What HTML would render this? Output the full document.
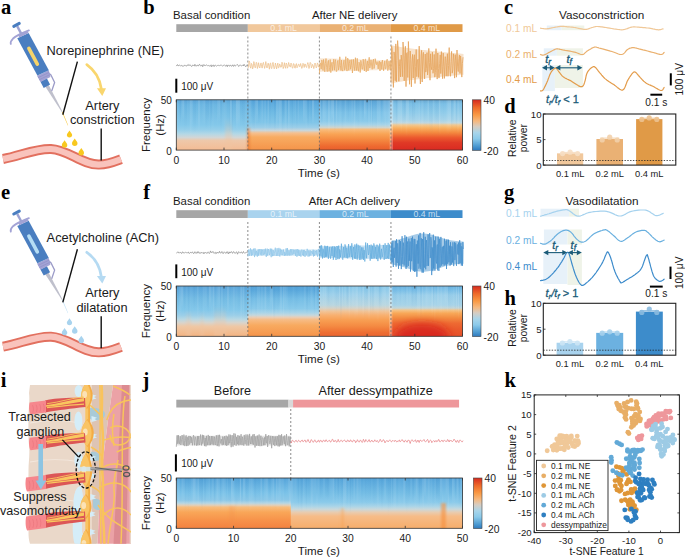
<!DOCTYPE html><html><head><meta charset="utf-8"><style>html,body{margin:0;padding:0;background:#fff;}svg{display:block;}</style></head><body>
<svg width="685" height="557" viewBox="0 0 685 557" font-family='"Liberation Sans", sans-serif'>
<rect width="685" height="557" fill="#fff"/>
<defs>
<linearGradient id="g1" x1="0" y1="0" x2="0" y2="1"><stop offset="0" stop-color="#D62A1F"/><stop offset="0.15" stop-color="#EE6A2A"/><stop offset="0.3" stop-color="#F99A45"/><stop offset="0.42" stop-color="#F6B87E"/><stop offset="0.53" stop-color="#D6CDC2"/><stop offset="0.65" stop-color="#A8D5EA"/><stop offset="0.77" stop-color="#8BCAEA"/><stop offset="0.92" stop-color="#4A98D0"/><stop offset="1" stop-color="#2E78BD"/></linearGradient>
<linearGradient id="g2" x1="0" y1="0" x2="0" y2="1"><stop offset="0" stop-color="#5EA6D8"/><stop offset="0.1" stop-color="#6AB6E2"/><stop offset="0.3" stop-color="#78C0E6"/><stop offset="0.5" stop-color="#84C8EA"/><stop offset="0.6" stop-color="#96CFEA"/><stop offset="0.68" stop-color="#B4D8E6"/><stop offset="0.75" stop-color="#D2D6D6"/><stop offset="0.81" stop-color="#EEC8AA"/><stop offset="1" stop-color="#F4BC94"/></linearGradient>
<linearGradient id="g3" x1="0" y1="0" x2="0" y2="1"><stop offset="0" stop-color="#55A2D8"/><stop offset="0.08" stop-color="#5EACDE"/><stop offset="0.25" stop-color="#6EBAE4"/><stop offset="0.45" stop-color="#80C5E8"/><stop offset="0.55" stop-color="#9CCEE8"/><stop offset="0.61" stop-color="#C8D6DA"/><stop offset="0.66" stop-color="#F5C090"/><stop offset="0.74" stop-color="#F8AC62"/><stop offset="1" stop-color="#F5944A"/></linearGradient>
<linearGradient id="g4" x1="0" y1="0" x2="0" y2="1"><stop offset="0" stop-color="#5AA0D0"/><stop offset="0.08" stop-color="#64AEDE"/><stop offset="0.25" stop-color="#7CC2E8"/><stop offset="0.42" stop-color="#8ACAEA"/><stop offset="0.5" stop-color="#A8D4E8"/><stop offset="0.55" stop-color="#D0D4CC"/><stop offset="0.59" stop-color="#F8BC7C"/><stop offset="0.68" stop-color="#F9A455"/><stop offset="0.8" stop-color="#F48840"/><stop offset="0.92" stop-color="#EE6A30"/><stop offset="1" stop-color="#E85E2C"/></linearGradient>
<linearGradient id="g5" x1="0" y1="0" x2="0" y2="1"><stop offset="0" stop-color="#6AA8D0"/><stop offset="0.08" stop-color="#7CC0E6"/><stop offset="0.25" stop-color="#90CCEA"/><stop offset="0.4" stop-color="#A6D4EA"/><stop offset="0.46" stop-color="#C0D8E0"/><stop offset="0.5" stop-color="#F2C890"/><stop offset="0.56" stop-color="#F9B060"/><stop offset="0.65" stop-color="#F48A40"/><stop offset="0.75" stop-color="#EC5A2E"/><stop offset="0.85" stop-color="#E03A26"/><stop offset="1" stop-color="#DA2A22"/></linearGradient>
<linearGradient id="g6" x1="0" y1="0" x2="0" y2="1"><stop offset="0" stop-color="#5AA2D6"/><stop offset="0.08" stop-color="#62ACDE"/><stop offset="0.25" stop-color="#74BCE4"/><stop offset="0.48" stop-color="#84C8EA"/><stop offset="0.58" stop-color="#9ACEE8"/><stop offset="0.66" stop-color="#B8D8E4"/><stop offset="0.73" stop-color="#D8D4CC"/><stop offset="0.8" stop-color="#EEC8A6"/><stop offset="1" stop-color="#F4B482"/></linearGradient>
<linearGradient id="g7" x1="0" y1="0" x2="0" y2="1"><stop offset="0" stop-color="#55A2D8"/><stop offset="0.08" stop-color="#5AA8DC"/><stop offset="0.25" stop-color="#76BEE6"/><stop offset="0.45" stop-color="#8ACAEA"/><stop offset="0.53" stop-color="#A8D4E8"/><stop offset="0.58" stop-color="#C4D8DE"/><stop offset="0.62" stop-color="#E8CEB8"/><stop offset="0.67" stop-color="#F6BC86"/><stop offset="0.78" stop-color="#F8AA60"/><stop offset="1" stop-color="#F5944A"/></linearGradient>
<linearGradient id="g8" x1="0" y1="0" x2="0" y2="1"><stop offset="0" stop-color="#80C4E8"/><stop offset="0.18" stop-color="#9ED0EA"/><stop offset="0.38" stop-color="#B8D6E0"/><stop offset="0.44" stop-color="#D4D2C8"/><stop offset="0.5" stop-color="#F0C498"/><stop offset="0.58" stop-color="#F8B070"/><stop offset="0.68" stop-color="#F89E52"/><stop offset="0.8" stop-color="#F48A42"/><stop offset="0.92" stop-color="#EE6E32"/><stop offset="1" stop-color="#EA6530"/></linearGradient>
<linearGradient id="g9" x1="0" y1="0" x2="0" y2="1"><stop offset="0" stop-color="#6AB4E2"/><stop offset="0.1" stop-color="#80C2E8"/><stop offset="0.18" stop-color="#98CEEA"/><stop offset="0.38" stop-color="#A8D4E8"/><stop offset="0.44" stop-color="#C4D6D8"/><stop offset="0.48" stop-color="#F4C488"/><stop offset="0.54" stop-color="#F8A858"/><stop offset="0.64" stop-color="#F28A40"/><stop offset="0.74" stop-color="#EE6A32"/><stop offset="0.86" stop-color="#EA5A2C"/><stop offset="1" stop-color="#E6502A"/></linearGradient>
<linearGradient id="g10" x1="0" y1="0" x2="0" y2="1"><stop offset="0" stop-color="#55A2D8"/><stop offset="0.08" stop-color="#5EACDE"/><stop offset="0.3" stop-color="#7AC2E8"/><stop offset="0.44" stop-color="#8CC8E8"/><stop offset="0.5" stop-color="#B4D6E4"/><stop offset="0.54" stop-color="#E0D0BC"/><stop offset="0.58" stop-color="#F8BC7C"/><stop offset="0.68" stop-color="#F9A658"/><stop offset="0.84" stop-color="#F7924A"/><stop offset="1" stop-color="#F38240"/></linearGradient>
<linearGradient id="g11" x1="0" y1="0" x2="0" y2="1"><stop offset="0" stop-color="#55A2D8"/><stop offset="0.08" stop-color="#5EACDE"/><stop offset="0.3" stop-color="#74BDE5"/><stop offset="0.48" stop-color="#8ACAEA"/><stop offset="0.56" stop-color="#A8D4E8"/><stop offset="0.62" stop-color="#C8D8DC"/><stop offset="0.68" stop-color="#E8CCB0"/><stop offset="0.76" stop-color="#F6BC88"/><stop offset="1" stop-color="#F6AE6C"/></linearGradient>
<linearGradient id="swh" x1="0" y1="0" x2="0" y2="1"><stop offset="0" stop-color="#fff" stop-opacity="1"/><stop offset="0.6" stop-color="#fff" stop-opacity="0.7"/><stop offset="1" stop-color="#fff" stop-opacity="0"/></linearGradient>
<linearGradient id="sbl" x1="0" y1="0" x2="0" y2="1"><stop offset="0" stop-color="#2a6fb0" stop-opacity="1"/><stop offset="0.6" stop-color="#2a6fb0" stop-opacity="0.7"/><stop offset="1" stop-color="#2a6fb0" stop-opacity="0"/></linearGradient>
<linearGradient id="gfo" x1="0" y1="0" x2="0" y2="1"><stop offset="0" stop-color="#F0C4A0" stop-opacity="0"/><stop offset="0.5" stop-color="#F0C4A0" stop-opacity="0.7"/><stop offset="1" stop-color="#F0C4A0" stop-opacity="1"/></linearGradient>
<filter id="blur4" x="-50%" y="-50%" width="200%" height="200%"><feGaussianBlur stdDeviation="4"/></filter>
<filter id="blur1" x="-50%" y="-50%" width="200%" height="200%"><feGaussianBlur stdDeviation="1.2"/></filter>
<clipPath id="cpb"><rect x="176.3" y="99.8" width="286.2" height="50.3"/></clipPath>
<clipPath id="cpj"><rect x="176.3" y="478" width="286.2" height="50.3"/></clipPath>
<clipPath id="cpf"><rect x="176.3" y="286" width="286.2" height="50.3"/></clipPath>
</defs>
<text x="1.0" y="14.0" font-family="Liberation Serif" font-weight="bold" font-size="20.5" fill="#000">a</text>
<text x="143.3" y="14.0" font-family="Liberation Serif" font-weight="bold" font-size="20.5" fill="#000">b</text>
<text x="504.0" y="14.1" font-family="Liberation Serif" font-weight="bold" font-size="20.5" fill="#000">c</text>
<text x="504.2" y="112.8" font-family="Liberation Serif" font-weight="bold" font-size="20.5" fill="#000">d</text>
<text x="0.9" y="199.2" font-family="Liberation Serif" font-weight="bold" font-size="20.5" fill="#000">e</text>
<text x="143.2" y="199.1" font-family="Liberation Serif" font-weight="bold" font-size="20.5" fill="#000">f</text>
<text x="504.0" y="198.8" font-family="Liberation Serif" font-weight="bold" font-size="20.5" fill="#000">g</text>
<text x="504.5" y="304.8" font-family="Liberation Serif" font-weight="bold" font-size="20.5" fill="#000">h</text>
<text x="0.8" y="386.7" font-family="Liberation Serif" font-weight="bold" font-size="20.5" fill="#000">i</text>
<text x="142.5" y="386.6" font-family="Liberation Serif" font-weight="bold" font-size="20.5" fill="#000">j</text>
<text x="504.5" y="386.6" font-family="Liberation Serif" font-weight="bold" font-size="20.5" fill="#000">k</text>
<rect x="176.30" y="99.8" width="71.85" height="50.30" fill="url(#g2)"/>
<rect x="247.85" y="99.8" width="71.85" height="50.30" fill="url(#g3)"/>
<rect x="319.40" y="99.8" width="71.85" height="50.30" fill="url(#g4)"/>
<rect x="390.95" y="99.8" width="71.85" height="50.30" fill="url(#g5)"/>
<rect x="389.7" y="99.8" width="3.2" height="50.3" fill="#fff" fill-opacity="0.3"/>
<g clip-path="url(#cpb)"><rect x="225" y="118" width="7" height="34" fill="url(#gfo)" fill-opacity="0.5" filter="url(#blur1)"/><rect x="247" y="128" width="3" height="24" fill="#E8702E" fill-opacity="0.5" filter="url(#blur1)"/></g>
<rect x="176.3" y="99.8" width="1.5" height="37.2" fill="url(#swh)" fill-opacity="0.08"/>
<rect x="177.8" y="99.8" width="1.7" height="29.9" fill="url(#swh)" fill-opacity="0.04"/>
<rect x="179.5" y="99.8" width="1.5" height="24.4" fill="url(#sbl)" fill-opacity="0.08"/>
<rect x="180.9" y="99.8" width="1.2" height="26.3" fill="url(#swh)" fill-opacity="0.04"/>
<rect x="182.2" y="99.8" width="2.1" height="20.8" fill="url(#swh)" fill-opacity="0.12"/>
<rect x="184.3" y="99.8" width="1.2" height="35.8" fill="url(#sbl)" fill-opacity="0.04"/>
<rect x="185.5" y="99.8" width="1.4" height="30.7" fill="url(#sbl)" fill-opacity="0.05"/>
<rect x="186.9" y="99.8" width="1.7" height="21.3" fill="url(#swh)" fill-opacity="0.03"/>
<rect x="188.6" y="99.8" width="1.2" height="25.1" fill="url(#swh)" fill-opacity="0.02"/>
<rect x="189.8" y="99.8" width="1.6" height="37.1" fill="url(#swh)" fill-opacity="0.12"/>
<rect x="191.4" y="99.8" width="1.3" height="30.2" fill="url(#swh)" fill-opacity="0.10"/>
<rect x="192.7" y="99.8" width="1.9" height="36.2" fill="url(#sbl)" fill-opacity="0.03"/>
<rect x="194.5" y="99.8" width="1.6" height="33.7" fill="url(#sbl)" fill-opacity="0.06"/>
<rect x="196.1" y="99.8" width="1.9" height="28.7" fill="url(#swh)" fill-opacity="0.01"/>
<rect x="198.0" y="99.8" width="2.1" height="31.7" fill="url(#swh)" fill-opacity="0.12"/>
<rect x="200.0" y="99.8" width="1.8" height="24.8" fill="url(#swh)" fill-opacity="0.01"/>
<rect x="201.8" y="99.8" width="1.7" height="27.1" fill="url(#swh)" fill-opacity="0.04"/>
<rect x="203.5" y="99.8" width="1.8" height="27.3" fill="url(#swh)" fill-opacity="0.08"/>
<rect x="205.3" y="99.8" width="2.2" height="29.8" fill="url(#sbl)" fill-opacity="0.07"/>
<rect x="207.5" y="99.8" width="1.4" height="22.6" fill="url(#sbl)" fill-opacity="0.08"/>
<rect x="208.9" y="99.8" width="0.9" height="35.7" fill="url(#swh)" fill-opacity="0.04"/>
<rect x="209.7" y="99.8" width="1.2" height="34.8" fill="url(#sbl)" fill-opacity="0.05"/>
<rect x="210.9" y="99.8" width="1.4" height="23.0" fill="url(#sbl)" fill-opacity="0.09"/>
<rect x="212.3" y="99.8" width="1.2" height="34.2" fill="url(#swh)" fill-opacity="0.06"/>
<rect x="213.5" y="99.8" width="2.1" height="26.7" fill="url(#swh)" fill-opacity="0.02"/>
<rect x="215.6" y="99.8" width="1.2" height="21.6" fill="url(#sbl)" fill-opacity="0.02"/>
<rect x="216.8" y="99.8" width="1.5" height="26.2" fill="url(#swh)" fill-opacity="0.07"/>
<rect x="218.3" y="99.8" width="1.9" height="22.1" fill="url(#swh)" fill-opacity="0.11"/>
<rect x="220.2" y="99.8" width="1.9" height="37.7" fill="url(#sbl)" fill-opacity="0.03"/>
<rect x="222.1" y="99.8" width="1.7" height="31.9" fill="url(#swh)" fill-opacity="0.04"/>
<rect x="223.8" y="99.8" width="1.4" height="33.9" fill="url(#swh)" fill-opacity="0.07"/>
<rect x="225.2" y="99.8" width="1.5" height="30.0" fill="url(#swh)" fill-opacity="0.05"/>
<rect x="226.7" y="99.8" width="2.2" height="28.0" fill="url(#swh)" fill-opacity="0.00"/>
<rect x="228.9" y="99.8" width="1.1" height="34.6" fill="url(#sbl)" fill-opacity="0.05"/>
<rect x="229.9" y="99.8" width="1.9" height="27.6" fill="url(#swh)" fill-opacity="0.13"/>
<rect x="231.9" y="99.8" width="1.1" height="35.5" fill="url(#sbl)" fill-opacity="0.08"/>
<rect x="233.0" y="99.8" width="2.0" height="24.4" fill="url(#sbl)" fill-opacity="0.02"/>
<rect x="235.0" y="99.8" width="0.9" height="31.9" fill="url(#sbl)" fill-opacity="0.03"/>
<rect x="235.9" y="99.8" width="1.9" height="30.7" fill="url(#swh)" fill-opacity="0.15"/>
<rect x="237.8" y="99.8" width="2.0" height="28.7" fill="url(#swh)" fill-opacity="0.14"/>
<rect x="239.9" y="99.8" width="1.9" height="32.9" fill="url(#swh)" fill-opacity="0.00"/>
<rect x="241.8" y="99.8" width="1.0" height="26.5" fill="url(#sbl)" fill-opacity="0.05"/>
<rect x="242.8" y="99.8" width="1.9" height="32.4" fill="url(#sbl)" fill-opacity="0.04"/>
<rect x="244.7" y="99.8" width="1.4" height="35.1" fill="url(#swh)" fill-opacity="0.03"/>
<rect x="246.1" y="99.8" width="1.4" height="26.2" fill="url(#swh)" fill-opacity="0.05"/>
<rect x="247.5" y="99.8" width="1.2" height="30.6" fill="url(#sbl)" fill-opacity="0.06"/>
<rect x="248.7" y="99.8" width="1.9" height="24.4" fill="url(#swh)" fill-opacity="0.13"/>
<rect x="250.6" y="99.8" width="1.0" height="32.7" fill="url(#swh)" fill-opacity="0.05"/>
<rect x="251.6" y="99.8" width="1.9" height="31.7" fill="url(#sbl)" fill-opacity="0.02"/>
<rect x="253.4" y="99.8" width="1.3" height="34.6" fill="url(#sbl)" fill-opacity="0.07"/>
<rect x="254.7" y="99.8" width="1.4" height="29.6" fill="url(#swh)" fill-opacity="0.09"/>
<rect x="256.1" y="99.8" width="1.9" height="22.8" fill="url(#swh)" fill-opacity="0.13"/>
<rect x="258.1" y="99.8" width="1.8" height="24.7" fill="url(#sbl)" fill-opacity="0.05"/>
<rect x="259.9" y="99.8" width="1.7" height="33.6" fill="url(#swh)" fill-opacity="0.01"/>
<rect x="261.5" y="99.8" width="1.4" height="26.6" fill="url(#swh)" fill-opacity="0.11"/>
<rect x="262.9" y="99.8" width="1.6" height="23.9" fill="url(#swh)" fill-opacity="0.02"/>
<rect x="264.5" y="99.8" width="1.2" height="37.1" fill="url(#swh)" fill-opacity="0.10"/>
<rect x="265.7" y="99.8" width="1.6" height="21.6" fill="url(#sbl)" fill-opacity="0.02"/>
<rect x="267.3" y="99.8" width="0.9" height="34.1" fill="url(#swh)" fill-opacity="0.06"/>
<rect x="268.3" y="99.8" width="0.8" height="26.2" fill="url(#swh)" fill-opacity="0.15"/>
<rect x="269.1" y="99.8" width="1.5" height="29.7" fill="url(#sbl)" fill-opacity="0.06"/>
<rect x="270.6" y="99.8" width="1.4" height="34.1" fill="url(#swh)" fill-opacity="0.02"/>
<rect x="272.0" y="99.8" width="2.1" height="37.6" fill="url(#swh)" fill-opacity="0.02"/>
<rect x="274.1" y="99.8" width="0.8" height="33.2" fill="url(#sbl)" fill-opacity="0.09"/>
<rect x="274.9" y="99.8" width="1.2" height="32.9" fill="url(#sbl)" fill-opacity="0.06"/>
<rect x="276.1" y="99.8" width="1.5" height="30.0" fill="url(#swh)" fill-opacity="0.14"/>
<rect x="277.5" y="99.8" width="1.3" height="22.1" fill="url(#swh)" fill-opacity="0.10"/>
<rect x="278.8" y="99.8" width="1.6" height="34.6" fill="url(#swh)" fill-opacity="0.15"/>
<rect x="280.4" y="99.8" width="1.3" height="34.7" fill="url(#swh)" fill-opacity="0.15"/>
<rect x="281.7" y="99.8" width="0.9" height="37.7" fill="url(#sbl)" fill-opacity="0.07"/>
<rect x="282.6" y="99.8" width="1.9" height="22.7" fill="url(#sbl)" fill-opacity="0.09"/>
<rect x="284.6" y="99.8" width="2.1" height="35.1" fill="url(#swh)" fill-opacity="0.10"/>
<rect x="286.7" y="99.8" width="1.4" height="31.6" fill="url(#sbl)" fill-opacity="0.06"/>
<rect x="288.0" y="99.8" width="1.6" height="32.2" fill="url(#swh)" fill-opacity="0.15"/>
<rect x="289.7" y="99.8" width="2.0" height="32.2" fill="url(#swh)" fill-opacity="0.02"/>
<rect x="291.7" y="99.8" width="1.1" height="36.0" fill="url(#sbl)" fill-opacity="0.06"/>
<rect x="292.8" y="99.8" width="2.0" height="20.6" fill="url(#swh)" fill-opacity="0.04"/>
<rect x="294.8" y="99.8" width="1.5" height="26.1" fill="url(#swh)" fill-opacity="0.07"/>
<rect x="296.3" y="99.8" width="1.3" height="31.9" fill="url(#sbl)" fill-opacity="0.07"/>
<rect x="297.6" y="99.8" width="1.4" height="25.5" fill="url(#swh)" fill-opacity="0.09"/>
<rect x="299.0" y="99.8" width="1.9" height="20.8" fill="url(#swh)" fill-opacity="0.01"/>
<rect x="300.9" y="99.8" width="2.1" height="31.1" fill="url(#swh)" fill-opacity="0.01"/>
<rect x="303.0" y="99.8" width="1.7" height="24.2" fill="url(#swh)" fill-opacity="0.15"/>
<rect x="304.7" y="99.8" width="1.4" height="27.1" fill="url(#swh)" fill-opacity="0.10"/>
<rect x="306.1" y="99.8" width="1.1" height="32.2" fill="url(#swh)" fill-opacity="0.07"/>
<rect x="307.2" y="99.8" width="2.1" height="28.3" fill="url(#sbl)" fill-opacity="0.09"/>
<rect x="309.3" y="99.8" width="1.1" height="28.6" fill="url(#swh)" fill-opacity="0.05"/>
<rect x="310.4" y="99.8" width="1.6" height="25.7" fill="url(#sbl)" fill-opacity="0.05"/>
<rect x="312.0" y="99.8" width="2.2" height="24.4" fill="url(#swh)" fill-opacity="0.15"/>
<rect x="314.2" y="99.8" width="1.1" height="20.5" fill="url(#sbl)" fill-opacity="0.03"/>
<rect x="315.4" y="99.8" width="1.3" height="26.5" fill="url(#sbl)" fill-opacity="0.00"/>
<rect x="316.7" y="99.8" width="1.5" height="33.5" fill="url(#sbl)" fill-opacity="0.02"/>
<rect x="318.2" y="99.8" width="1.7" height="27.6" fill="url(#sbl)" fill-opacity="0.09"/>
<rect x="320.0" y="99.8" width="1.0" height="28.0" fill="url(#swh)" fill-opacity="0.11"/>
<rect x="320.9" y="99.8" width="1.6" height="25.0" fill="url(#sbl)" fill-opacity="0.07"/>
<rect x="322.5" y="99.8" width="2.2" height="26.6" fill="url(#swh)" fill-opacity="0.11"/>
<rect x="324.7" y="99.8" width="1.8" height="26.7" fill="url(#swh)" fill-opacity="0.07"/>
<rect x="326.5" y="99.8" width="1.5" height="35.5" fill="url(#sbl)" fill-opacity="0.02"/>
<rect x="328.0" y="99.8" width="0.8" height="36.3" fill="url(#swh)" fill-opacity="0.13"/>
<rect x="328.8" y="99.8" width="1.3" height="34.2" fill="url(#swh)" fill-opacity="0.11"/>
<rect x="330.1" y="99.8" width="0.9" height="30.4" fill="url(#swh)" fill-opacity="0.03"/>
<rect x="331.1" y="99.8" width="1.9" height="21.8" fill="url(#swh)" fill-opacity="0.13"/>
<rect x="332.9" y="99.8" width="1.1" height="29.5" fill="url(#swh)" fill-opacity="0.14"/>
<rect x="334.0" y="99.8" width="1.9" height="34.4" fill="url(#sbl)" fill-opacity="0.06"/>
<rect x="335.9" y="99.8" width="1.3" height="26.3" fill="url(#swh)" fill-opacity="0.12"/>
<rect x="337.2" y="99.8" width="1.2" height="34.1" fill="url(#sbl)" fill-opacity="0.03"/>
<rect x="338.5" y="99.8" width="2.2" height="26.5" fill="url(#swh)" fill-opacity="0.03"/>
<rect x="340.6" y="99.8" width="0.8" height="31.8" fill="url(#swh)" fill-opacity="0.05"/>
<rect x="341.4" y="99.8" width="1.9" height="34.0" fill="url(#sbl)" fill-opacity="0.06"/>
<rect x="343.3" y="99.8" width="1.3" height="22.2" fill="url(#sbl)" fill-opacity="0.08"/>
<rect x="344.6" y="99.8" width="1.7" height="28.8" fill="url(#swh)" fill-opacity="0.07"/>
<rect x="346.3" y="99.8" width="1.4" height="24.4" fill="url(#sbl)" fill-opacity="0.03"/>
<rect x="347.7" y="99.8" width="1.5" height="24.1" fill="url(#sbl)" fill-opacity="0.08"/>
<rect x="349.2" y="99.8" width="1.3" height="25.6" fill="url(#swh)" fill-opacity="0.00"/>
<rect x="350.5" y="99.8" width="1.2" height="37.7" fill="url(#sbl)" fill-opacity="0.02"/>
<rect x="351.7" y="99.8" width="0.9" height="24.4" fill="url(#swh)" fill-opacity="0.12"/>
<rect x="352.6" y="99.8" width="1.0" height="25.6" fill="url(#sbl)" fill-opacity="0.08"/>
<rect x="353.7" y="99.8" width="1.4" height="37.6" fill="url(#swh)" fill-opacity="0.10"/>
<rect x="355.1" y="99.8" width="0.9" height="31.7" fill="url(#swh)" fill-opacity="0.00"/>
<rect x="356.0" y="99.8" width="1.3" height="22.5" fill="url(#sbl)" fill-opacity="0.08"/>
<rect x="357.3" y="99.8" width="2.2" height="31.5" fill="url(#sbl)" fill-opacity="0.04"/>
<rect x="359.5" y="99.8" width="1.6" height="35.6" fill="url(#swh)" fill-opacity="0.03"/>
<rect x="361.1" y="99.8" width="0.9" height="33.2" fill="url(#sbl)" fill-opacity="0.00"/>
<rect x="362.0" y="99.8" width="2.0" height="22.5" fill="url(#sbl)" fill-opacity="0.06"/>
<rect x="364.0" y="99.8" width="1.5" height="20.8" fill="url(#swh)" fill-opacity="0.15"/>
<rect x="365.5" y="99.8" width="1.6" height="21.7" fill="url(#swh)" fill-opacity="0.04"/>
<rect x="367.1" y="99.8" width="1.0" height="26.8" fill="url(#sbl)" fill-opacity="0.05"/>
<rect x="368.1" y="99.8" width="1.8" height="30.8" fill="url(#swh)" fill-opacity="0.08"/>
<rect x="369.9" y="99.8" width="1.0" height="21.8" fill="url(#sbl)" fill-opacity="0.03"/>
<rect x="370.9" y="99.8" width="1.1" height="28.0" fill="url(#swh)" fill-opacity="0.11"/>
<rect x="372.0" y="99.8" width="1.0" height="29.3" fill="url(#sbl)" fill-opacity="0.07"/>
<rect x="373.0" y="99.8" width="1.3" height="21.7" fill="url(#sbl)" fill-opacity="0.02"/>
<rect x="374.3" y="99.8" width="1.4" height="23.6" fill="url(#sbl)" fill-opacity="0.02"/>
<rect x="375.7" y="99.8" width="1.1" height="35.4" fill="url(#sbl)" fill-opacity="0.05"/>
<rect x="376.7" y="99.8" width="1.9" height="33.9" fill="url(#swh)" fill-opacity="0.11"/>
<rect x="378.6" y="99.8" width="2.0" height="29.9" fill="url(#swh)" fill-opacity="0.12"/>
<rect x="380.6" y="99.8" width="1.3" height="21.1" fill="url(#sbl)" fill-opacity="0.02"/>
<rect x="381.9" y="99.8" width="1.4" height="35.3" fill="url(#swh)" fill-opacity="0.03"/>
<rect x="383.4" y="99.8" width="1.3" height="23.5" fill="url(#swh)" fill-opacity="0.14"/>
<rect x="384.7" y="99.8" width="1.1" height="33.0" fill="url(#swh)" fill-opacity="0.13"/>
<rect x="385.8" y="99.8" width="2.0" height="27.8" fill="url(#swh)" fill-opacity="0.11"/>
<rect x="387.8" y="99.8" width="1.2" height="31.6" fill="url(#swh)" fill-opacity="0.14"/>
<rect x="388.9" y="99.8" width="1.3" height="24.0" fill="url(#swh)" fill-opacity="0.12"/>
<rect x="390.3" y="99.8" width="1.6" height="35.8" fill="url(#swh)" fill-opacity="0.14"/>
<rect x="391.9" y="99.8" width="2.2" height="22.6" fill="url(#swh)" fill-opacity="0.10"/>
<rect x="394.1" y="99.8" width="1.7" height="32.1" fill="url(#sbl)" fill-opacity="0.00"/>
<rect x="395.8" y="99.8" width="1.7" height="29.2" fill="url(#sbl)" fill-opacity="0.08"/>
<rect x="397.5" y="99.8" width="1.3" height="29.6" fill="url(#swh)" fill-opacity="0.11"/>
<rect x="398.8" y="99.8" width="2.0" height="28.4" fill="url(#swh)" fill-opacity="0.12"/>
<rect x="400.8" y="99.8" width="1.3" height="33.4" fill="url(#swh)" fill-opacity="0.13"/>
<rect x="402.1" y="99.8" width="1.6" height="34.5" fill="url(#sbl)" fill-opacity="0.01"/>
<rect x="403.6" y="99.8" width="2.2" height="24.1" fill="url(#sbl)" fill-opacity="0.08"/>
<rect x="405.8" y="99.8" width="1.5" height="37.4" fill="url(#swh)" fill-opacity="0.12"/>
<rect x="407.3" y="99.8" width="1.6" height="25.4" fill="url(#swh)" fill-opacity="0.14"/>
<rect x="408.9" y="99.8" width="1.7" height="37.2" fill="url(#sbl)" fill-opacity="0.01"/>
<rect x="410.6" y="99.8" width="1.3" height="21.1" fill="url(#swh)" fill-opacity="0.01"/>
<rect x="411.9" y="99.8" width="1.3" height="27.6" fill="url(#sbl)" fill-opacity="0.09"/>
<rect x="413.2" y="99.8" width="2.1" height="26.4" fill="url(#sbl)" fill-opacity="0.06"/>
<rect x="415.3" y="99.8" width="2.1" height="27.9" fill="url(#swh)" fill-opacity="0.03"/>
<rect x="417.4" y="99.8" width="1.1" height="23.6" fill="url(#swh)" fill-opacity="0.02"/>
<rect x="418.5" y="99.8" width="1.4" height="34.0" fill="url(#swh)" fill-opacity="0.08"/>
<rect x="419.9" y="99.8" width="1.4" height="32.7" fill="url(#sbl)" fill-opacity="0.03"/>
<rect x="421.3" y="99.8" width="1.3" height="37.7" fill="url(#swh)" fill-opacity="0.06"/>
<rect x="422.6" y="99.8" width="0.8" height="32.3" fill="url(#swh)" fill-opacity="0.06"/>
<rect x="423.5" y="99.8" width="2.0" height="28.8" fill="url(#sbl)" fill-opacity="0.05"/>
<rect x="425.5" y="99.8" width="2.1" height="36.8" fill="url(#sbl)" fill-opacity="0.02"/>
<rect x="427.6" y="99.8" width="1.3" height="21.8" fill="url(#swh)" fill-opacity="0.12"/>
<rect x="428.9" y="99.8" width="2.2" height="33.9" fill="url(#sbl)" fill-opacity="0.06"/>
<rect x="431.1" y="99.8" width="1.6" height="35.6" fill="url(#sbl)" fill-opacity="0.08"/>
<rect x="432.7" y="99.8" width="1.7" height="27.7" fill="url(#swh)" fill-opacity="0.07"/>
<rect x="434.4" y="99.8" width="1.3" height="30.2" fill="url(#sbl)" fill-opacity="0.03"/>
<rect x="435.7" y="99.8" width="2.0" height="28.1" fill="url(#sbl)" fill-opacity="0.07"/>
<rect x="437.8" y="99.8" width="1.0" height="36.3" fill="url(#sbl)" fill-opacity="0.07"/>
<rect x="438.8" y="99.8" width="1.6" height="35.8" fill="url(#swh)" fill-opacity="0.13"/>
<rect x="440.4" y="99.8" width="1.2" height="30.6" fill="url(#sbl)" fill-opacity="0.02"/>
<rect x="441.6" y="99.8" width="1.0" height="30.1" fill="url(#swh)" fill-opacity="0.03"/>
<rect x="442.6" y="99.8" width="1.6" height="32.5" fill="url(#sbl)" fill-opacity="0.02"/>
<rect x="444.3" y="99.8" width="2.0" height="23.6" fill="url(#sbl)" fill-opacity="0.00"/>
<rect x="446.2" y="99.8" width="1.3" height="37.0" fill="url(#swh)" fill-opacity="0.06"/>
<rect x="447.5" y="99.8" width="1.8" height="34.5" fill="url(#swh)" fill-opacity="0.15"/>
<rect x="449.3" y="99.8" width="1.9" height="32.9" fill="url(#swh)" fill-opacity="0.14"/>
<rect x="451.1" y="99.8" width="0.9" height="32.9" fill="url(#sbl)" fill-opacity="0.09"/>
<rect x="452.0" y="99.8" width="1.5" height="32.2" fill="url(#sbl)" fill-opacity="0.04"/>
<rect x="453.6" y="99.8" width="2.1" height="26.6" fill="url(#swh)" fill-opacity="0.14"/>
<rect x="455.7" y="99.8" width="1.7" height="32.3" fill="url(#sbl)" fill-opacity="0.06"/>
<rect x="457.4" y="99.8" width="1.3" height="36.7" fill="url(#swh)" fill-opacity="0.12"/>
<rect x="458.8" y="99.8" width="0.8" height="31.6" fill="url(#swh)" fill-opacity="0.04"/>
<rect x="459.6" y="99.8" width="1.1" height="35.5" fill="url(#swh)" fill-opacity="0.02"/>
<rect x="460.7" y="99.8" width="1.2" height="32.9" fill="url(#swh)" fill-opacity="0.00"/>
<rect x="461.9" y="99.8" width="0.6" height="21.7" fill="url(#sbl)" fill-opacity="0.02"/>
<rect x="176.3" y="99.8" width="286.20" height="50.30" fill="none" stroke="#333" stroke-width="0.8"/>
<line x1="176.30" y1="99.8" x2="176.30" y2="102.3" stroke="#333" stroke-width="0.8"/>
<line x1="176.30" y1="150.1" x2="176.30" y2="147.6" stroke="#333" stroke-width="0.8"/>
<text x="176.3" y="163.7" font-size="10.3" fill="#1a1a1a" text-anchor="middle" >0</text>
<line x1="224.00" y1="99.8" x2="224.00" y2="102.3" stroke="#333" stroke-width="0.8"/>
<line x1="224.00" y1="150.1" x2="224.00" y2="147.6" stroke="#333" stroke-width="0.8"/>
<text x="224.0" y="163.7" font-size="10.3" fill="#1a1a1a" text-anchor="middle" >10</text>
<line x1="271.70" y1="99.8" x2="271.70" y2="102.3" stroke="#333" stroke-width="0.8"/>
<line x1="271.70" y1="150.1" x2="271.70" y2="147.6" stroke="#333" stroke-width="0.8"/>
<text x="271.7" y="163.7" font-size="10.3" fill="#1a1a1a" text-anchor="middle" >20</text>
<line x1="319.40" y1="99.8" x2="319.40" y2="102.3" stroke="#333" stroke-width="0.8"/>
<line x1="319.40" y1="150.1" x2="319.40" y2="147.6" stroke="#333" stroke-width="0.8"/>
<text x="319.4" y="163.7" font-size="10.3" fill="#1a1a1a" text-anchor="middle" >30</text>
<line x1="367.10" y1="99.8" x2="367.10" y2="102.3" stroke="#333" stroke-width="0.8"/>
<line x1="367.10" y1="150.1" x2="367.10" y2="147.6" stroke="#333" stroke-width="0.8"/>
<text x="367.1" y="163.7" font-size="10.3" fill="#1a1a1a" text-anchor="middle" >40</text>
<line x1="414.80" y1="99.8" x2="414.80" y2="102.3" stroke="#333" stroke-width="0.8"/>
<line x1="414.80" y1="150.1" x2="414.80" y2="147.6" stroke="#333" stroke-width="0.8"/>
<text x="414.8" y="163.7" font-size="10.3" fill="#1a1a1a" text-anchor="middle" >50</text>
<line x1="462.50" y1="99.8" x2="462.50" y2="102.3" stroke="#333" stroke-width="0.8"/>
<line x1="462.50" y1="150.1" x2="462.50" y2="147.6" stroke="#333" stroke-width="0.8"/>
<text x="462.5" y="163.7" font-size="10.3" fill="#1a1a1a" text-anchor="middle" >60</text>
<text x="171.8" y="104.1" font-size="10" fill="#1a1a1a" text-anchor="end" >50</text>
<text x="171.8" y="154.6" font-size="10" fill="#1a1a1a" text-anchor="end" >0</text>
<text x="318.8" y="176.9" font-size="11.6" fill="#1a1a1a" text-anchor="middle" >Time (s)</text>
<text transform="translate(150.2,124.9) rotate(-90)" font-size="11.5" fill="#1a1a1a" text-anchor="middle">Frequency</text>
<text transform="translate(164.2,124.9) rotate(-90)" font-size="11.4" fill="#1a1a1a" text-anchor="middle">(Hz)</text>
<rect x="472.4" y="99.8" width="8.6" height="50.60" fill="url(#g1)" stroke="#444" stroke-width="0.6"/>
<text x="483.6" y="103.6" font-size="10.3" fill="#1a1a1a" text-anchor="start" >40</text>
<text x="483.6" y="154.6" font-size="10.3" fill="#1a1a1a" text-anchor="start" >-20</text>
<rect x="176.30" y="24.2" width="71.55" height="7.8" fill="#A6A6A6"/>
<rect x="247.85" y="24.2" width="71.55" height="7.8" fill="#F1C89C"/>
<rect x="319.40" y="24.2" width="71.55" height="7.8" fill="#EAB174"/>
<rect x="390.95" y="24.2" width="71.55" height="7.8" fill="#E09A47"/>
<text x="283.6" y="31.4" font-size="8.7" fill="#ffffff" text-anchor="middle" fill-opacity="0.72">0.1 mL</text>
<text x="355.2" y="31.4" font-size="8.7" fill="#ffffff" text-anchor="middle" fill-opacity="0.72">0.2 mL</text>
<text x="426.7" y="31.4" font-size="8.7" fill="#ffffff" text-anchor="middle" fill-opacity="0.72">0.4 mL</text>
<text x="173.0" y="19.4" font-size="11.4" fill="#1a1a1a" text-anchor="start" >Basal condition</text>
<text x="311.9" y="19.4" font-size="11.4" fill="#1a1a1a" text-anchor="start" >After NE delivery</text>
<line x1="247.85" y1="36.5" x2="247.85" y2="150.3" stroke="#666" stroke-width="0.75" stroke-dasharray="2,2"/>
<line x1="319.40" y1="36.5" x2="319.40" y2="150.3" stroke="#666" stroke-width="0.75" stroke-dasharray="2,2"/>
<line x1="390.95" y1="36.5" x2="390.95" y2="150.3" stroke="#666" stroke-width="0.75" stroke-dasharray="2,2"/>
<rect x="175.3" y="78.7" width="2" height="14.0" fill="#000"/>
<text x="181.2" y="90.1" font-size="10" fill="#1a1a1a" text-anchor="start" >100 μV</text>
<polyline points="176.3,66.1 176.9,65.1 177.5,64.6 178.1,66.0 178.7,65.6 179.3,64.9 179.9,65.3 180.5,66.0 181.1,66.1 181.7,65.3 182.3,65.6 182.9,66.5 183.5,65.9 184.1,65.9 184.7,64.9 185.3,65.5 185.9,66.1 186.5,66.1 187.1,65.1 187.7,65.1 188.3,64.5 188.9,65.7 189.5,65.0 190.1,64.6 190.7,65.7 191.3,66.3 191.9,66.4 192.5,65.1 193.1,65.2 193.7,65.6 194.3,66.0 194.9,64.3 195.5,65.5 196.1,66.3 196.7,65.4 197.3,65.0 197.9,65.9 198.5,65.9 199.1,64.6 199.7,64.4 200.3,65.7 200.9,66.0 201.5,65.6 202.1,64.8 202.7,66.7 203.3,65.6 203.9,64.5 204.5,65.5 205.1,65.7 205.7,65.4 206.3,64.8 206.9,65.2 207.5,65.8 208.1,66.0 208.7,65.4 209.3,65.6 209.9,66.4 210.5,65.6 211.1,64.8 211.7,66.8 212.3,65.7 212.9,65.0 213.5,65.0 214.1,66.6 214.7,65.4 215.3,65.2 215.9,65.6 216.5,66.1 217.1,65.6 217.7,65.4 218.3,65.1 218.9,65.8 219.5,65.8 220.1,65.2 220.7,65.2 221.3,64.9 221.9,65.5 222.5,66.2 223.1,65.8 223.7,65.3 224.3,64.8 224.9,65.6 225.5,66.2 226.1,65.2 226.7,65.1 227.3,66.7 227.9,65.0 228.5,65.2 229.1,65.8 229.7,66.2 230.3,64.9 230.9,65.7 231.5,66.2 232.1,65.9 232.7,64.8 233.3,66.2 233.9,66.3 234.5,64.8 235.1,65.7 235.7,65.9 236.3,65.3 236.9,64.7 237.5,64.6 238.1,65.4 238.7,66.5 239.3,65.5 239.9,65.0 240.5,65.2 241.1,65.6 241.7,65.9 242.3,65.5 242.9,64.9 243.5,65.9 244.1,64.3 244.7,65.4 245.3,66.3 245.9,66.8 246.5,65.6 247.1,64.8 247.7,65.7" fill="none" stroke="#8A8A8A" stroke-width="0.7" stroke-linejoin="round"/>
<polyline points="247.9,68.2 248.5,66.8 249.1,60.9 249.7,62.3 250.2,66.9 250.8,68.2 251.4,63.4 252.0,64.4 252.6,68.9 253.2,67.2 253.8,61.6 254.4,63.5 255.0,67.8 255.6,67.5 256.2,62.3 256.8,62.8 257.4,68.5 258.0,66.4 258.6,62.7 259.2,66.5 259.8,68.0 260.4,64.9 261.0,62.9 261.6,66.6 262.2,68.1 262.8,63.6 263.4,62.4 264.0,65.4 264.6,68.4 265.2,65.8 265.8,61.6 266.4,65.7 267.0,68.0 267.6,65.2 268.2,63.1 268.8,66.1 269.4,69.2 270.0,63.5 270.6,63.0 271.2,68.3 271.8,68.5 272.4,64.4 273.0,62.4 273.6,66.0 274.2,68.8 274.8,67.2 275.4,63.0 276.0,65.7 276.6,68.9 277.2,65.7 277.8,63.1 278.4,67.9 279.0,67.5 279.6,63.9 280.2,65.1 280.8,67.4 281.4,66.9 282.0,62.2 282.6,64.5 283.2,68.6 283.8,66.7 284.4,62.7 285.0,66.5 285.6,68.3 286.2,63.0 286.8,64.1 287.4,68.2 288.0,66.8 288.6,62.5 289.2,64.5 289.8,66.7 290.4,66.9 291.0,63.1 291.6,64.4 292.2,67.8 292.8,68.2 293.4,63.7 294.0,63.8 294.6,67.7 295.2,68.2 295.8,64.8 296.4,63.6 297.0,67.8 297.6,66.7 298.2,64.5 298.8,64.0 299.4,66.6 300.0,66.6 300.6,63.5 301.2,65.9 301.8,68.4 302.4,66.8 303.0,63.3 303.6,64.6 304.2,67.5 304.8,64.0 305.4,64.2 306.0,66.7 306.6,67.5 307.2,64.7 307.8,62.6 308.4,64.7 309.0,68.5 309.6,65.5 310.2,62.4 310.8,63.1 311.4,67.9 312.0,66.4 312.6,64.4 313.2,65.8 313.8,68.6 314.4,65.7 315.0,63.0 315.6,64.6 316.2,67.9 316.8,66.9 317.4,62.9 318.0,64.1 318.6,67.0 319.2,66.6" fill="none" stroke="#EEC18E" stroke-width="0.8" stroke-linejoin="round"/>
<polygon points="319.4,58.1 321.2,58.2 323.1,58.2 324.9,58.3 326.7,58.4 328.6,58.4 330.4,58.5 332.2,58.5 334.1,58.6 335.9,58.6 337.7,58.7 339.6,58.7 341.4,58.8 343.2,58.8 345.1,58.9 346.9,59.0 348.8,59.0 350.6,59.1 352.4,59.1 354.3,59.2 356.1,59.2 357.9,59.3 359.8,59.3 361.6,59.4 363.4,59.4 365.3,59.5 367.1,59.6 368.9,59.6 370.8,59.7 372.6,59.7 374.4,59.8 376.3,59.8 378.1,59.9 379.9,59.9 381.8,60.0 383.6,60.0 385.4,60.1 387.3,60.1 389.1,60.2 391.0,60.3 391.0,69.7 389.1,69.8 387.3,69.9 385.4,69.9 383.6,70.0 381.8,70.0 379.9,70.1 378.1,70.1 376.3,70.2 374.4,70.2 372.6,70.3 370.8,70.3 368.9,70.4 367.1,70.4 365.3,70.5 363.4,70.6 361.6,70.6 359.8,70.7 357.9,70.7 356.1,70.8 354.3,70.8 352.4,70.9 350.6,70.9 348.8,71.0 346.9,71.0 345.1,71.1 343.2,71.2 341.4,71.2 339.6,71.3 337.7,71.3 335.9,71.4 334.1,71.4 332.2,71.5 330.4,71.5 328.6,71.6 326.7,71.6 324.9,71.7 323.1,71.8 321.2,71.8 319.4,71.9" fill="#E8AC66" fill-opacity="0.25"/>
<polyline points="319.4,73.6 320.0,63.3 320.6,63.2 321.2,69.2 321.8,59.9 322.4,62.3 323.0,70.6 323.6,59.4 324.2,63.9 324.8,71.8 325.4,63.4 326.0,58.5 326.6,67.3 327.2,71.7 327.8,62.1 328.4,60.3 329.0,71.4 329.6,67.7 330.2,59.5 330.8,72.6 331.4,64.9 332.0,62.2 332.6,70.5 333.2,64.5 333.8,59.1 334.4,70.3 335.0,61.6 335.6,59.6 336.2,71.4 336.8,71.4 337.4,61.9 338.0,60.3 338.6,70.1 339.2,67.5 339.8,56.8 340.4,65.8 341.0,70.6 341.6,60.0 342.2,69.4 342.8,71.1 343.4,64.0 344.0,60.1 344.6,70.3 345.2,68.7 345.8,56.7 346.4,67.1 347.0,71.1 347.6,58.1 348.2,59.2 348.8,70.4 349.4,63.3 350.0,59.9 350.6,69.3 351.2,65.7 351.8,59.6 352.4,73.0 353.0,68.3 353.6,59.4 354.2,66.1 354.8,70.8 355.4,57.7 356.0,66.1 356.6,70.6 357.2,58.3 357.8,68.5 358.4,71.3 359.0,62.2 359.6,63.7 360.2,72.5 360.8,60.3 361.4,63.2 362.0,69.3 362.6,69.1 363.2,59.1 363.8,66.4 364.4,71.0 365.0,59.4 365.6,59.1 366.2,71.9 366.8,63.6 367.4,60.9 368.0,71.0 368.6,63.2 369.2,57.3 369.8,68.1 370.4,65.0 371.0,59.7 371.6,65.0 372.2,69.3 372.8,61.2 373.4,59.1 374.0,68.6 374.6,66.3 375.2,58.7 375.8,63.4 376.4,64.7 377.0,61.5 377.6,63.9 378.2,69.0 378.8,62.0 379.4,61.0 380.0,71.0 380.6,62.2 381.2,61.8 381.8,69.5 382.4,60.1 383.0,64.1 383.6,70.8 384.2,66.5 384.8,60.9 385.4,68.9 386.0,68.7 386.6,60.8 387.2,59.2 387.8,70.7 388.4,67.9 389.0,61.1 389.6,66.4 390.2,70.2 390.8,60.5" fill="none" stroke="#E8AC66" stroke-width="0.8" stroke-linejoin="round"/>
<polygon points="391.0,44.7 392.8,45.4 394.7,45.9 396.5,46.2 398.4,46.6 400.3,46.9 402.1,47.2 404.0,47.5 405.8,47.7 407.7,48.0 409.6,48.3 411.4,48.5 413.3,48.7 415.1,49.0 417.0,49.2 418.9,49.4 420.7,49.7 422.6,49.9 424.4,50.1 426.3,50.3 428.2,50.5 430.0,50.7 431.9,50.9 433.7,51.1 435.6,51.3 437.5,51.5 439.3,51.7 441.2,51.8 443.0,52.0 444.9,52.2 446.8,52.4 448.6,52.6 450.5,52.7 452.3,52.9 454.2,53.1 456.1,53.3 457.9,53.4 459.8,53.6 461.6,53.8 463.5,53.9 463.5,74.7 461.6,74.8 459.8,75.0 457.9,75.2 456.1,75.3 454.2,75.5 452.3,75.7 450.5,75.9 448.6,76.0 446.8,76.2 444.9,76.4 443.0,76.6 441.2,76.8 439.3,76.9 437.5,77.1 435.6,77.3 433.7,77.5 431.9,77.7 430.0,77.9 428.2,78.1 426.3,78.3 424.4,78.5 422.6,78.7 420.7,78.9 418.9,79.2 417.0,79.4 415.1,79.6 413.3,79.9 411.4,80.1 409.6,80.3 407.7,80.6 405.8,80.9 404.0,81.1 402.1,81.4 400.3,81.7 398.4,82.0 396.5,82.4 394.7,82.7 392.8,83.2 391.0,83.9" fill="#E6A35A" fill-opacity="0.3"/>
<polyline points="391.0,81.6 391.6,46.1 392.2,48.8 392.8,69.2 393.4,87.4 394.0,51.9 394.6,55.8 395.2,80.7 395.8,43.9 396.4,81.8 397.0,60.5 397.6,40.6 398.2,48.1 398.8,81.3 399.4,66.6 400.0,59.5 400.6,77.0 401.2,55.0 401.8,61.7 402.4,76.7 403.0,42.0 403.6,49.9 404.2,80.8 404.8,55.8 405.4,46.3 406.0,86.6 406.6,53.1 407.2,52.5 407.8,77.5 408.4,41.5 409.0,58.8 409.6,84.3 410.2,51.0 410.8,59.7 411.4,86.8 412.0,61.9 412.6,54.4 413.2,78.0 413.8,59.0 414.4,54.7 415.0,83.5 415.6,66.4 416.2,49.5 416.8,76.7 417.4,61.0 418.0,59.2 418.6,77.4 419.2,46.1 419.8,71.8 420.4,84.0 421.0,56.1 421.6,50.3 422.2,82.0 422.8,55.2 423.4,52.3 424.0,69.1 424.6,78.9 425.2,54.0 425.8,72.1 426.4,68.4 427.0,52.6 427.6,75.0 428.2,70.0 428.8,48.4 429.4,62.5 430.0,80.2 430.6,53.8 431.2,66.6 431.8,69.8 432.4,52.2 433.0,73.3 433.6,68.4 434.2,54.4 434.8,77.2 435.4,72.5 436.0,48.7 436.6,70.3 437.2,79.1 437.8,53.0 438.4,68.4 439.0,78.1 439.6,63.4 440.2,54.9 440.8,73.6 441.4,51.6 442.0,66.6 442.6,78.7 443.2,53.1 443.8,66.1 444.4,78.4 445.0,56.5 445.6,57.0 446.2,76.2 446.8,62.3 447.4,53.7 448.0,76.3 448.6,65.4 449.2,47.6 449.8,70.5 450.4,76.3 451.0,61.4 451.6,51.4 452.2,73.2 452.8,69.8 453.4,53.8 454.0,60.9 454.6,78.1 455.2,54.6 455.8,60.8 456.4,77.2 457.0,50.0 457.6,66.1 458.2,71.6 458.8,58.5 459.4,55.1 460.0,73.5 460.6,55.9 461.2,61.3 461.8,77.1 462.4,63.6 463.0,57.2" fill="none" stroke="#E6A35A" stroke-width="0.8" stroke-linejoin="round"/>
<rect x="176.30" y="286.0" width="71.85" height="50.30" fill="url(#g6)"/>
<rect x="247.85" y="286.0" width="71.85" height="50.30" fill="url(#g7)"/>
<rect x="319.40" y="286.0" width="71.85" height="50.30" fill="url(#g8)"/>
<rect x="390.95" y="286.0" width="71.85" height="50.30" fill="url(#g9)"/>
<g clip-path="url(#cpf)"><ellipse cx="422" cy="337" rx="27" ry="14" fill="#D41E1C" fill-opacity="0.75" filter="url(#blur4)"/></g>
<rect x="389.3" y="286" width="3" height="50.3" fill="#fff" fill-opacity="0.3"/>
<g clip-path="url(#cpf)"><rect x="186" y="310" width="5" height="28" fill="url(#gfo)" fill-opacity="0.45" filter="url(#blur1)"/><rect x="200" y="312" width="4" height="26" fill="url(#gfo)" fill-opacity="0.4" filter="url(#blur1)"/><rect x="214" y="306" width="12" height="32" fill="url(#gfo)" fill-opacity="0.45" filter="url(#blur1)"/></g>
<rect x="176.3" y="286.0" width="1.4" height="25.3" fill="url(#sbl)" fill-opacity="0.01"/>
<rect x="177.7" y="286.0" width="1.7" height="24.7" fill="url(#sbl)" fill-opacity="0.03"/>
<rect x="179.4" y="286.0" width="1.9" height="33.5" fill="url(#swh)" fill-opacity="0.09"/>
<rect x="181.2" y="286.0" width="1.9" height="23.0" fill="url(#swh)" fill-opacity="0.14"/>
<rect x="183.1" y="286.0" width="0.8" height="23.0" fill="url(#swh)" fill-opacity="0.01"/>
<rect x="183.9" y="286.0" width="0.9" height="28.7" fill="url(#sbl)" fill-opacity="0.05"/>
<rect x="184.8" y="286.0" width="1.4" height="29.1" fill="url(#sbl)" fill-opacity="0.01"/>
<rect x="186.2" y="286.0" width="1.1" height="27.5" fill="url(#swh)" fill-opacity="0.05"/>
<rect x="187.3" y="286.0" width="0.9" height="37.4" fill="url(#swh)" fill-opacity="0.00"/>
<rect x="188.2" y="286.0" width="1.3" height="36.8" fill="url(#sbl)" fill-opacity="0.07"/>
<rect x="189.6" y="286.0" width="1.3" height="35.8" fill="url(#swh)" fill-opacity="0.04"/>
<rect x="190.9" y="286.0" width="0.9" height="20.2" fill="url(#swh)" fill-opacity="0.03"/>
<rect x="191.7" y="286.0" width="1.6" height="33.1" fill="url(#swh)" fill-opacity="0.02"/>
<rect x="193.3" y="286.0" width="1.7" height="25.2" fill="url(#sbl)" fill-opacity="0.06"/>
<rect x="195.0" y="286.0" width="1.9" height="23.3" fill="url(#sbl)" fill-opacity="0.02"/>
<rect x="196.9" y="286.0" width="1.7" height="36.6" fill="url(#swh)" fill-opacity="0.08"/>
<rect x="198.7" y="286.0" width="1.1" height="25.9" fill="url(#sbl)" fill-opacity="0.04"/>
<rect x="199.8" y="286.0" width="0.9" height="20.6" fill="url(#sbl)" fill-opacity="0.01"/>
<rect x="200.7" y="286.0" width="2.0" height="35.6" fill="url(#sbl)" fill-opacity="0.04"/>
<rect x="202.7" y="286.0" width="1.9" height="36.8" fill="url(#swh)" fill-opacity="0.06"/>
<rect x="204.7" y="286.0" width="2.1" height="26.7" fill="url(#swh)" fill-opacity="0.06"/>
<rect x="206.8" y="286.0" width="2.1" height="28.2" fill="url(#sbl)" fill-opacity="0.06"/>
<rect x="208.9" y="286.0" width="2.1" height="23.8" fill="url(#swh)" fill-opacity="0.12"/>
<rect x="211.0" y="286.0" width="2.0" height="32.3" fill="url(#swh)" fill-opacity="0.05"/>
<rect x="213.0" y="286.0" width="1.3" height="31.4" fill="url(#swh)" fill-opacity="0.13"/>
<rect x="214.4" y="286.0" width="2.1" height="36.4" fill="url(#sbl)" fill-opacity="0.04"/>
<rect x="216.5" y="286.0" width="1.9" height="26.7" fill="url(#swh)" fill-opacity="0.06"/>
<rect x="218.3" y="286.0" width="1.9" height="24.1" fill="url(#swh)" fill-opacity="0.11"/>
<rect x="220.2" y="286.0" width="0.8" height="35.6" fill="url(#sbl)" fill-opacity="0.08"/>
<rect x="221.0" y="286.0" width="1.8" height="36.4" fill="url(#swh)" fill-opacity="0.07"/>
<rect x="222.9" y="286.0" width="0.9" height="27.0" fill="url(#sbl)" fill-opacity="0.07"/>
<rect x="223.7" y="286.0" width="1.5" height="31.8" fill="url(#sbl)" fill-opacity="0.02"/>
<rect x="225.2" y="286.0" width="1.8" height="31.6" fill="url(#sbl)" fill-opacity="0.01"/>
<rect x="227.0" y="286.0" width="2.1" height="28.4" fill="url(#swh)" fill-opacity="0.11"/>
<rect x="229.0" y="286.0" width="2.0" height="23.3" fill="url(#sbl)" fill-opacity="0.01"/>
<rect x="231.0" y="286.0" width="1.8" height="36.5" fill="url(#swh)" fill-opacity="0.01"/>
<rect x="232.8" y="286.0" width="2.0" height="37.3" fill="url(#swh)" fill-opacity="0.08"/>
<rect x="234.9" y="286.0" width="1.2" height="26.6" fill="url(#swh)" fill-opacity="0.02"/>
<rect x="236.1" y="286.0" width="0.9" height="32.9" fill="url(#swh)" fill-opacity="0.04"/>
<rect x="236.9" y="286.0" width="1.4" height="27.7" fill="url(#swh)" fill-opacity="0.01"/>
<rect x="238.4" y="286.0" width="2.1" height="28.6" fill="url(#sbl)" fill-opacity="0.03"/>
<rect x="240.4" y="286.0" width="1.4" height="37.6" fill="url(#swh)" fill-opacity="0.14"/>
<rect x="241.8" y="286.0" width="0.8" height="35.3" fill="url(#swh)" fill-opacity="0.04"/>
<rect x="242.7" y="286.0" width="1.7" height="32.3" fill="url(#swh)" fill-opacity="0.12"/>
<rect x="244.4" y="286.0" width="1.1" height="35.5" fill="url(#sbl)" fill-opacity="0.07"/>
<rect x="245.5" y="286.0" width="1.6" height="36.2" fill="url(#sbl)" fill-opacity="0.03"/>
<rect x="247.1" y="286.0" width="1.7" height="25.8" fill="url(#sbl)" fill-opacity="0.03"/>
<rect x="248.8" y="286.0" width="1.8" height="23.3" fill="url(#swh)" fill-opacity="0.14"/>
<rect x="250.6" y="286.0" width="1.5" height="35.1" fill="url(#sbl)" fill-opacity="0.08"/>
<rect x="252.0" y="286.0" width="1.8" height="26.8" fill="url(#sbl)" fill-opacity="0.01"/>
<rect x="253.8" y="286.0" width="1.6" height="36.4" fill="url(#swh)" fill-opacity="0.01"/>
<rect x="255.4" y="286.0" width="1.4" height="37.1" fill="url(#sbl)" fill-opacity="0.05"/>
<rect x="256.8" y="286.0" width="2.1" height="30.6" fill="url(#swh)" fill-opacity="0.08"/>
<rect x="258.9" y="286.0" width="1.3" height="26.4" fill="url(#swh)" fill-opacity="0.08"/>
<rect x="260.3" y="286.0" width="1.2" height="36.8" fill="url(#swh)" fill-opacity="0.01"/>
<rect x="261.5" y="286.0" width="0.9" height="32.1" fill="url(#swh)" fill-opacity="0.13"/>
<rect x="262.4" y="286.0" width="2.1" height="24.0" fill="url(#swh)" fill-opacity="0.02"/>
<rect x="264.5" y="286.0" width="1.8" height="30.1" fill="url(#swh)" fill-opacity="0.13"/>
<rect x="266.3" y="286.0" width="1.8" height="37.7" fill="url(#sbl)" fill-opacity="0.01"/>
<rect x="268.1" y="286.0" width="1.7" height="34.1" fill="url(#sbl)" fill-opacity="0.01"/>
<rect x="269.8" y="286.0" width="0.9" height="24.2" fill="url(#swh)" fill-opacity="0.13"/>
<rect x="270.8" y="286.0" width="1.2" height="21.3" fill="url(#swh)" fill-opacity="0.12"/>
<rect x="271.9" y="286.0" width="1.2" height="35.3" fill="url(#swh)" fill-opacity="0.11"/>
<rect x="273.1" y="286.0" width="2.2" height="35.0" fill="url(#sbl)" fill-opacity="0.09"/>
<rect x="275.2" y="286.0" width="1.8" height="25.5" fill="url(#sbl)" fill-opacity="0.03"/>
<rect x="277.0" y="286.0" width="1.5" height="30.0" fill="url(#sbl)" fill-opacity="0.05"/>
<rect x="278.5" y="286.0" width="1.3" height="21.7" fill="url(#sbl)" fill-opacity="0.08"/>
<rect x="279.8" y="286.0" width="2.2" height="33.0" fill="url(#swh)" fill-opacity="0.11"/>
<rect x="282.0" y="286.0" width="1.0" height="32.4" fill="url(#swh)" fill-opacity="0.02"/>
<rect x="283.0" y="286.0" width="1.1" height="36.5" fill="url(#swh)" fill-opacity="0.13"/>
<rect x="284.1" y="286.0" width="1.8" height="24.7" fill="url(#swh)" fill-opacity="0.09"/>
<rect x="285.8" y="286.0" width="1.8" height="29.2" fill="url(#swh)" fill-opacity="0.06"/>
<rect x="287.6" y="286.0" width="1.6" height="23.1" fill="url(#sbl)" fill-opacity="0.02"/>
<rect x="289.3" y="286.0" width="1.2" height="37.2" fill="url(#sbl)" fill-opacity="0.04"/>
<rect x="290.5" y="286.0" width="2.0" height="21.0" fill="url(#sbl)" fill-opacity="0.04"/>
<rect x="292.5" y="286.0" width="1.9" height="21.6" fill="url(#swh)" fill-opacity="0.03"/>
<rect x="294.5" y="286.0" width="2.1" height="31.9" fill="url(#sbl)" fill-opacity="0.03"/>
<rect x="296.6" y="286.0" width="0.9" height="23.5" fill="url(#sbl)" fill-opacity="0.08"/>
<rect x="297.5" y="286.0" width="1.1" height="24.8" fill="url(#sbl)" fill-opacity="0.01"/>
<rect x="298.6" y="286.0" width="1.9" height="37.1" fill="url(#swh)" fill-opacity="0.00"/>
<rect x="300.5" y="286.0" width="0.9" height="21.4" fill="url(#swh)" fill-opacity="0.04"/>
<rect x="301.4" y="286.0" width="1.2" height="36.6" fill="url(#swh)" fill-opacity="0.00"/>
<rect x="302.6" y="286.0" width="1.5" height="32.2" fill="url(#swh)" fill-opacity="0.01"/>
<rect x="304.1" y="286.0" width="1.1" height="28.0" fill="url(#swh)" fill-opacity="0.09"/>
<rect x="305.2" y="286.0" width="1.0" height="28.0" fill="url(#swh)" fill-opacity="0.05"/>
<rect x="306.2" y="286.0" width="1.9" height="30.4" fill="url(#sbl)" fill-opacity="0.07"/>
<rect x="308.1" y="286.0" width="1.2" height="23.7" fill="url(#swh)" fill-opacity="0.03"/>
<rect x="309.3" y="286.0" width="1.3" height="24.6" fill="url(#sbl)" fill-opacity="0.01"/>
<rect x="310.5" y="286.0" width="0.9" height="24.0" fill="url(#swh)" fill-opacity="0.13"/>
<rect x="311.4" y="286.0" width="1.5" height="28.2" fill="url(#swh)" fill-opacity="0.07"/>
<rect x="312.9" y="286.0" width="1.3" height="26.4" fill="url(#swh)" fill-opacity="0.02"/>
<rect x="314.2" y="286.0" width="1.0" height="34.3" fill="url(#sbl)" fill-opacity="0.06"/>
<rect x="315.2" y="286.0" width="1.5" height="26.3" fill="url(#swh)" fill-opacity="0.12"/>
<rect x="316.7" y="286.0" width="1.1" height="27.4" fill="url(#sbl)" fill-opacity="0.05"/>
<rect x="317.9" y="286.0" width="1.9" height="36.6" fill="url(#sbl)" fill-opacity="0.05"/>
<rect x="319.8" y="286.0" width="0.9" height="25.1" fill="url(#swh)" fill-opacity="0.12"/>
<rect x="320.7" y="286.0" width="2.1" height="26.2" fill="url(#swh)" fill-opacity="0.05"/>
<rect x="322.8" y="286.0" width="0.9" height="27.8" fill="url(#swh)" fill-opacity="0.14"/>
<rect x="323.7" y="286.0" width="0.8" height="34.6" fill="url(#swh)" fill-opacity="0.05"/>
<rect x="324.5" y="286.0" width="1.3" height="29.6" fill="url(#swh)" fill-opacity="0.12"/>
<rect x="325.8" y="286.0" width="1.6" height="31.1" fill="url(#swh)" fill-opacity="0.04"/>
<rect x="327.4" y="286.0" width="1.8" height="21.4" fill="url(#sbl)" fill-opacity="0.06"/>
<rect x="329.2" y="286.0" width="1.1" height="37.0" fill="url(#sbl)" fill-opacity="0.01"/>
<rect x="330.3" y="286.0" width="2.0" height="29.6" fill="url(#swh)" fill-opacity="0.02"/>
<rect x="332.3" y="286.0" width="2.1" height="28.8" fill="url(#swh)" fill-opacity="0.06"/>
<rect x="334.4" y="286.0" width="1.4" height="30.2" fill="url(#sbl)" fill-opacity="0.00"/>
<rect x="335.7" y="286.0" width="1.2" height="30.8" fill="url(#sbl)" fill-opacity="0.04"/>
<rect x="337.0" y="286.0" width="2.2" height="22.3" fill="url(#sbl)" fill-opacity="0.03"/>
<rect x="339.1" y="286.0" width="1.2" height="21.9" fill="url(#swh)" fill-opacity="0.14"/>
<rect x="340.3" y="286.0" width="1.4" height="36.9" fill="url(#sbl)" fill-opacity="0.09"/>
<rect x="341.7" y="286.0" width="1.2" height="22.4" fill="url(#swh)" fill-opacity="0.11"/>
<rect x="342.9" y="286.0" width="1.4" height="21.7" fill="url(#sbl)" fill-opacity="0.01"/>
<rect x="344.3" y="286.0" width="1.3" height="20.6" fill="url(#swh)" fill-opacity="0.07"/>
<rect x="345.5" y="286.0" width="1.0" height="36.0" fill="url(#swh)" fill-opacity="0.04"/>
<rect x="346.5" y="286.0" width="2.1" height="23.0" fill="url(#sbl)" fill-opacity="0.08"/>
<rect x="348.6" y="286.0" width="1.4" height="33.9" fill="url(#swh)" fill-opacity="0.12"/>
<rect x="350.0" y="286.0" width="2.0" height="28.2" fill="url(#swh)" fill-opacity="0.03"/>
<rect x="352.0" y="286.0" width="2.1" height="27.1" fill="url(#swh)" fill-opacity="0.11"/>
<rect x="354.1" y="286.0" width="1.9" height="34.2" fill="url(#swh)" fill-opacity="0.08"/>
<rect x="355.9" y="286.0" width="2.0" height="31.8" fill="url(#swh)" fill-opacity="0.14"/>
<rect x="357.9" y="286.0" width="1.4" height="30.0" fill="url(#swh)" fill-opacity="0.02"/>
<rect x="359.3" y="286.0" width="1.6" height="24.6" fill="url(#swh)" fill-opacity="0.06"/>
<rect x="360.9" y="286.0" width="1.5" height="32.0" fill="url(#sbl)" fill-opacity="0.01"/>
<rect x="362.4" y="286.0" width="1.7" height="32.6" fill="url(#swh)" fill-opacity="0.13"/>
<rect x="364.1" y="286.0" width="1.7" height="37.7" fill="url(#sbl)" fill-opacity="0.02"/>
<rect x="365.8" y="286.0" width="2.1" height="21.0" fill="url(#sbl)" fill-opacity="0.04"/>
<rect x="367.9" y="286.0" width="2.2" height="34.5" fill="url(#swh)" fill-opacity="0.13"/>
<rect x="370.1" y="286.0" width="0.8" height="29.5" fill="url(#sbl)" fill-opacity="0.05"/>
<rect x="370.9" y="286.0" width="1.3" height="21.7" fill="url(#swh)" fill-opacity="0.03"/>
<rect x="372.2" y="286.0" width="1.5" height="30.3" fill="url(#sbl)" fill-opacity="0.05"/>
<rect x="373.7" y="286.0" width="0.8" height="28.6" fill="url(#swh)" fill-opacity="0.07"/>
<rect x="374.5" y="286.0" width="2.1" height="29.2" fill="url(#swh)" fill-opacity="0.11"/>
<rect x="376.7" y="286.0" width="2.2" height="37.1" fill="url(#swh)" fill-opacity="0.08"/>
<rect x="378.8" y="286.0" width="1.7" height="23.3" fill="url(#sbl)" fill-opacity="0.08"/>
<rect x="380.6" y="286.0" width="1.2" height="27.9" fill="url(#sbl)" fill-opacity="0.02"/>
<rect x="381.7" y="286.0" width="1.6" height="30.9" fill="url(#swh)" fill-opacity="0.08"/>
<rect x="383.3" y="286.0" width="1.8" height="24.0" fill="url(#swh)" fill-opacity="0.13"/>
<rect x="385.1" y="286.0" width="0.8" height="32.1" fill="url(#swh)" fill-opacity="0.12"/>
<rect x="385.9" y="286.0" width="2.1" height="32.0" fill="url(#swh)" fill-opacity="0.05"/>
<rect x="388.0" y="286.0" width="1.0" height="28.1" fill="url(#swh)" fill-opacity="0.09"/>
<rect x="389.0" y="286.0" width="1.3" height="22.2" fill="url(#swh)" fill-opacity="0.12"/>
<rect x="390.3" y="286.0" width="2.1" height="21.5" fill="url(#swh)" fill-opacity="0.07"/>
<rect x="392.4" y="286.0" width="1.9" height="22.2" fill="url(#sbl)" fill-opacity="0.06"/>
<rect x="394.3" y="286.0" width="1.6" height="24.3" fill="url(#sbl)" fill-opacity="0.06"/>
<rect x="395.8" y="286.0" width="1.5" height="22.1" fill="url(#sbl)" fill-opacity="0.04"/>
<rect x="397.3" y="286.0" width="1.5" height="28.3" fill="url(#swh)" fill-opacity="0.01"/>
<rect x="398.8" y="286.0" width="1.0" height="23.0" fill="url(#sbl)" fill-opacity="0.01"/>
<rect x="399.8" y="286.0" width="1.0" height="22.2" fill="url(#sbl)" fill-opacity="0.06"/>
<rect x="400.8" y="286.0" width="1.2" height="21.7" fill="url(#swh)" fill-opacity="0.00"/>
<rect x="402.0" y="286.0" width="1.2" height="30.1" fill="url(#swh)" fill-opacity="0.02"/>
<rect x="403.2" y="286.0" width="1.9" height="24.8" fill="url(#sbl)" fill-opacity="0.01"/>
<rect x="405.0" y="286.0" width="1.3" height="21.0" fill="url(#sbl)" fill-opacity="0.06"/>
<rect x="406.3" y="286.0" width="1.5" height="23.7" fill="url(#swh)" fill-opacity="0.07"/>
<rect x="407.8" y="286.0" width="1.4" height="36.0" fill="url(#swh)" fill-opacity="0.00"/>
<rect x="409.2" y="286.0" width="1.0" height="25.7" fill="url(#swh)" fill-opacity="0.04"/>
<rect x="410.3" y="286.0" width="1.2" height="23.7" fill="url(#swh)" fill-opacity="0.06"/>
<rect x="411.4" y="286.0" width="1.9" height="24.2" fill="url(#sbl)" fill-opacity="0.08"/>
<rect x="413.3" y="286.0" width="1.7" height="26.0" fill="url(#sbl)" fill-opacity="0.03"/>
<rect x="415.0" y="286.0" width="2.0" height="22.3" fill="url(#sbl)" fill-opacity="0.07"/>
<rect x="417.0" y="286.0" width="1.5" height="33.5" fill="url(#swh)" fill-opacity="0.08"/>
<rect x="418.5" y="286.0" width="1.6" height="34.8" fill="url(#swh)" fill-opacity="0.09"/>
<rect x="420.1" y="286.0" width="1.9" height="33.9" fill="url(#sbl)" fill-opacity="0.04"/>
<rect x="422.0" y="286.0" width="1.0" height="29.4" fill="url(#swh)" fill-opacity="0.11"/>
<rect x="423.0" y="286.0" width="0.8" height="34.6" fill="url(#swh)" fill-opacity="0.03"/>
<rect x="423.8" y="286.0" width="1.8" height="23.9" fill="url(#swh)" fill-opacity="0.03"/>
<rect x="425.6" y="286.0" width="1.8" height="25.8" fill="url(#swh)" fill-opacity="0.13"/>
<rect x="427.4" y="286.0" width="2.0" height="22.7" fill="url(#swh)" fill-opacity="0.08"/>
<rect x="429.4" y="286.0" width="1.3" height="24.1" fill="url(#swh)" fill-opacity="0.04"/>
<rect x="430.7" y="286.0" width="0.9" height="28.9" fill="url(#swh)" fill-opacity="0.03"/>
<rect x="431.5" y="286.0" width="1.6" height="30.7" fill="url(#swh)" fill-opacity="0.15"/>
<rect x="433.1" y="286.0" width="1.4" height="22.5" fill="url(#sbl)" fill-opacity="0.07"/>
<rect x="434.4" y="286.0" width="0.9" height="37.4" fill="url(#swh)" fill-opacity="0.12"/>
<rect x="435.3" y="286.0" width="1.9" height="27.5" fill="url(#swh)" fill-opacity="0.00"/>
<rect x="437.2" y="286.0" width="1.6" height="22.6" fill="url(#swh)" fill-opacity="0.14"/>
<rect x="438.8" y="286.0" width="1.5" height="30.3" fill="url(#swh)" fill-opacity="0.06"/>
<rect x="440.3" y="286.0" width="1.7" height="30.0" fill="url(#swh)" fill-opacity="0.11"/>
<rect x="441.9" y="286.0" width="2.2" height="27.5" fill="url(#swh)" fill-opacity="0.06"/>
<rect x="444.1" y="286.0" width="1.0" height="22.1" fill="url(#swh)" fill-opacity="0.11"/>
<rect x="445.0" y="286.0" width="1.9" height="23.0" fill="url(#swh)" fill-opacity="0.12"/>
<rect x="447.0" y="286.0" width="0.8" height="28.6" fill="url(#swh)" fill-opacity="0.15"/>
<rect x="447.8" y="286.0" width="1.7" height="24.4" fill="url(#sbl)" fill-opacity="0.06"/>
<rect x="449.5" y="286.0" width="2.1" height="28.8" fill="url(#sbl)" fill-opacity="0.03"/>
<rect x="451.6" y="286.0" width="1.4" height="22.2" fill="url(#sbl)" fill-opacity="0.01"/>
<rect x="453.0" y="286.0" width="1.8" height="32.7" fill="url(#swh)" fill-opacity="0.03"/>
<rect x="454.7" y="286.0" width="1.1" height="33.7" fill="url(#sbl)" fill-opacity="0.05"/>
<rect x="455.8" y="286.0" width="1.3" height="24.6" fill="url(#swh)" fill-opacity="0.11"/>
<rect x="457.1" y="286.0" width="0.8" height="28.9" fill="url(#sbl)" fill-opacity="0.06"/>
<rect x="458.0" y="286.0" width="0.9" height="34.7" fill="url(#swh)" fill-opacity="0.12"/>
<rect x="458.9" y="286.0" width="1.3" height="31.3" fill="url(#sbl)" fill-opacity="0.08"/>
<rect x="460.2" y="286.0" width="2.0" height="28.0" fill="url(#sbl)" fill-opacity="0.02"/>
<rect x="176.3" y="286.0" width="286.20" height="50.30" fill="none" stroke="#333" stroke-width="0.8"/>
<line x1="176.30" y1="286.0" x2="176.30" y2="288.5" stroke="#333" stroke-width="0.8"/>
<line x1="176.30" y1="336.3" x2="176.30" y2="333.8" stroke="#333" stroke-width="0.8"/>
<text x="176.3" y="349.9" font-size="10.3" fill="#1a1a1a" text-anchor="middle" >0</text>
<line x1="224.00" y1="286.0" x2="224.00" y2="288.5" stroke="#333" stroke-width="0.8"/>
<line x1="224.00" y1="336.3" x2="224.00" y2="333.8" stroke="#333" stroke-width="0.8"/>
<text x="224.0" y="349.9" font-size="10.3" fill="#1a1a1a" text-anchor="middle" >10</text>
<line x1="271.70" y1="286.0" x2="271.70" y2="288.5" stroke="#333" stroke-width="0.8"/>
<line x1="271.70" y1="336.3" x2="271.70" y2="333.8" stroke="#333" stroke-width="0.8"/>
<text x="271.7" y="349.9" font-size="10.3" fill="#1a1a1a" text-anchor="middle" >20</text>
<line x1="319.40" y1="286.0" x2="319.40" y2="288.5" stroke="#333" stroke-width="0.8"/>
<line x1="319.40" y1="336.3" x2="319.40" y2="333.8" stroke="#333" stroke-width="0.8"/>
<text x="319.4" y="349.9" font-size="10.3" fill="#1a1a1a" text-anchor="middle" >30</text>
<line x1="367.10" y1="286.0" x2="367.10" y2="288.5" stroke="#333" stroke-width="0.8"/>
<line x1="367.10" y1="336.3" x2="367.10" y2="333.8" stroke="#333" stroke-width="0.8"/>
<text x="367.1" y="349.9" font-size="10.3" fill="#1a1a1a" text-anchor="middle" >40</text>
<line x1="414.80" y1="286.0" x2="414.80" y2="288.5" stroke="#333" stroke-width="0.8"/>
<line x1="414.80" y1="336.3" x2="414.80" y2="333.8" stroke="#333" stroke-width="0.8"/>
<text x="414.8" y="349.9" font-size="10.3" fill="#1a1a1a" text-anchor="middle" >50</text>
<line x1="462.50" y1="286.0" x2="462.50" y2="288.5" stroke="#333" stroke-width="0.8"/>
<line x1="462.50" y1="336.3" x2="462.50" y2="333.8" stroke="#333" stroke-width="0.8"/>
<text x="462.5" y="349.9" font-size="10.3" fill="#1a1a1a" text-anchor="middle" >60</text>
<text x="171.8" y="290.3" font-size="10" fill="#1a1a1a" text-anchor="end" >50</text>
<text x="171.8" y="340.8" font-size="10" fill="#1a1a1a" text-anchor="end" >0</text>
<text x="318.8" y="363.1" font-size="11.6" fill="#1a1a1a" text-anchor="middle" >Time (s)</text>
<text transform="translate(150.2,311.1) rotate(-90)" font-size="11.5" fill="#1a1a1a" text-anchor="middle">Frequency</text>
<text transform="translate(164.2,311.1) rotate(-90)" font-size="11.4" fill="#1a1a1a" text-anchor="middle">(Hz)</text>
<rect x="472.4" y="286.0" width="8.6" height="50.60" fill="url(#g1)" stroke="#444" stroke-width="0.6"/>
<text x="483.6" y="289.8" font-size="10.3" fill="#1a1a1a" text-anchor="start" >40</text>
<text x="483.6" y="340.8" font-size="10.3" fill="#1a1a1a" text-anchor="start" >-20</text>
<rect x="176.30" y="210.2" width="71.55" height="7.8" fill="#A6A6A6"/>
<rect x="247.85" y="210.2" width="71.55" height="7.8" fill="#A9D3EE"/>
<rect x="319.40" y="210.2" width="71.55" height="7.8" fill="#6CB1E0"/>
<rect x="390.95" y="210.2" width="71.55" height="7.8" fill="#3D8CCB"/>
<text x="283.6" y="217.4" font-size="8.7" fill="#ffffff" text-anchor="middle" fill-opacity="0.72">0.1 mL</text>
<text x="355.2" y="217.4" font-size="8.7" fill="#ffffff" text-anchor="middle" fill-opacity="0.72">0.2 mL</text>
<text x="426.7" y="217.4" font-size="8.7" fill="#ffffff" text-anchor="middle" fill-opacity="0.72">0.4 mL</text>
<text x="173.0" y="205.2" font-size="11.4" fill="#1a1a1a" text-anchor="start" >Basal condition</text>
<text x="308.7" y="205.2" font-size="11.4" fill="#1a1a1a" text-anchor="start" >After ACh delivery</text>
<line x1="247.85" y1="222" x2="247.85" y2="336.3" stroke="#666" stroke-width="0.75" stroke-dasharray="2,2"/>
<line x1="319.40" y1="222" x2="319.40" y2="336.3" stroke="#666" stroke-width="0.75" stroke-dasharray="2,2"/>
<line x1="390.95" y1="222" x2="390.95" y2="336.3" stroke="#666" stroke-width="0.75" stroke-dasharray="2,2"/>
<rect x="175.3" y="264.4" width="2" height="13.800000000000011" fill="#000"/>
<text x="181.2" y="275.6" font-size="10" fill="#1a1a1a" text-anchor="start" >100 μV</text>
<polyline points="176.3,252.9 176.9,252.9 177.5,252.3 178.1,251.8 178.7,252.9 179.3,253.1 179.9,252.3 180.5,252.4 181.1,253.1 181.7,253.5 182.3,252.0 182.9,251.9 183.5,253.0 184.1,253.3 184.7,252.8 185.3,252.2 185.9,252.4 186.5,252.7 187.1,253.0 187.7,252.5 188.3,252.0 188.9,253.3 189.5,253.4 190.1,252.5 190.7,252.3 191.3,253.0 191.9,252.7 192.5,251.8 193.1,253.1 193.7,253.7 194.3,252.9 194.9,251.7 195.5,252.9 196.1,253.5 196.7,252.4 197.3,251.7 197.9,253.2 198.5,251.8 199.1,252.2 199.7,253.4 200.3,253.4 200.9,252.3 201.5,252.5 202.1,253.2 202.7,252.6 203.3,252.4 203.9,253.9 204.5,252.6 205.1,252.5 205.7,252.6 206.3,252.7 206.9,253.5 207.5,252.3 208.1,251.9 208.7,252.4 209.3,253.6 209.9,252.9 210.5,250.9 211.1,252.2 211.7,253.0 212.3,252.3 212.9,251.4 213.5,252.3 214.1,253.4 214.7,252.7 215.3,252.3 215.9,253.8 216.5,253.3 217.1,252.1 217.7,252.9 218.3,252.9 218.9,253.0 219.5,251.3 220.1,252.8 220.7,253.0 221.3,252.8 221.9,251.5 222.5,252.3 223.1,253.7 223.7,252.8 224.3,251.8 224.9,252.4 225.5,253.2 226.1,253.3 226.7,251.9 227.3,251.7 227.9,253.2 228.5,254.0 229.1,251.8 229.7,253.0 230.3,252.9 230.9,251.8 231.5,251.7 232.1,252.9 232.7,253.3 233.3,251.8 233.9,251.7 234.5,252.6 235.1,253.5 235.7,252.8 236.3,251.8 236.9,252.2 237.5,254.2 238.1,252.8 238.7,251.6 239.3,252.5 239.9,253.1 240.5,252.8 241.1,251.9 241.7,252.1 242.3,253.4 242.9,252.9 243.5,251.5 244.1,252.7 244.7,253.3 245.3,252.9 245.9,252.4 246.5,252.1 247.1,252.9 247.7,252.7" fill="none" stroke="#8A8A8A" stroke-width="0.7" stroke-linejoin="round"/>
<polygon points="247.9,249.2 249.7,249.2 251.5,249.2 253.4,249.2 255.2,249.2 257.0,249.2 258.9,249.2 260.7,249.2 262.5,249.2 264.4,249.2 266.2,249.2 268.0,249.2 269.9,249.2 271.7,249.2 273.5,249.2 275.4,249.2 277.2,249.2 279.0,249.2 280.9,249.2 282.7,249.2 284.5,249.2 286.4,249.2 288.2,249.2 290.0,249.2 291.9,249.2 293.7,249.2 295.6,249.2 297.4,249.2 299.2,249.2 301.1,249.2 302.9,249.2 304.7,249.2 306.6,249.2 308.4,249.2 310.2,249.2 312.1,249.2 313.9,249.2 315.7,249.2 317.6,249.2 319.4,249.2 319.4,256.0 317.6,256.0 315.7,256.0 313.9,256.0 312.1,256.0 310.2,256.0 308.4,256.0 306.6,256.0 304.7,256.0 302.9,256.0 301.1,256.0 299.2,256.0 297.4,256.0 295.6,256.0 293.7,256.0 291.9,256.0 290.0,256.0 288.2,256.0 286.4,256.0 284.5,256.0 282.7,256.0 280.9,256.0 279.0,256.0 277.2,256.0 275.4,256.0 273.5,256.0 271.7,256.0 269.9,256.0 268.0,256.0 266.2,256.0 264.4,256.0 262.5,256.0 260.7,256.0 258.9,256.0 257.0,256.0 255.2,256.0 253.4,256.0 251.5,256.0 249.7,256.0 247.9,256.0" fill="#8CC4E8" fill-opacity="0.3"/>
<polyline points="247.9,256.7 248.3,252.6 248.8,249.6 249.2,252.6 249.6,255.8 250.1,250.8 250.5,248.3 251.0,254.1 251.4,255.8 251.9,249.6 252.3,254.9 252.8,254.9 253.2,250.3 253.7,248.6 254.1,254.3 254.6,257.1 255.0,248.3 255.5,253.1 255.9,255.3 256.4,250.8 256.8,252.9 257.3,256.7 257.7,251.6 258.2,249.4 258.6,255.7 259.1,249.5 259.5,249.1 260.0,254.6 260.4,254.8 260.9,249.0 261.3,250.0 261.8,255.4 262.2,249.4 262.7,251.6 263.1,255.1 263.6,254.4 264.0,249.2 264.5,254.4 264.9,253.6 265.4,248.6 265.8,254.0 266.3,256.9 266.7,252.2 267.2,248.6 267.6,255.6 268.1,253.4 268.5,249.1 269.0,250.6 269.4,255.0 269.9,253.7 270.3,248.5 270.8,252.7 271.2,257.2 271.7,248.7 272.1,252.2 272.6,256.2 273.0,250.0 273.5,251.2 273.9,255.9 274.4,253.5 274.8,250.6 275.3,247.7 275.7,252.4 276.2,256.0 276.6,254.2 277.1,248.1 277.5,254.8 278.0,256.0 278.4,252.1 278.9,247.9 279.3,254.2 279.8,256.5 280.2,248.6 280.7,252.7 281.1,255.1 281.6,249.9 282.0,249.9 282.5,255.1 282.9,254.9 283.4,249.5 283.8,252.9 284.3,256.0 284.7,251.9 285.2,253.4 285.6,255.5 286.1,248.3 286.5,252.6 287.0,255.6 287.4,248.0 287.9,255.4 288.3,255.2 288.8,250.1 289.2,250.6 289.7,255.6 290.1,252.2 290.6,249.2 291.0,255.3 291.5,250.9 291.9,249.1 292.4,254.7 292.8,253.8 293.3,249.5 293.7,254.3 294.2,254.2 294.6,250.0 295.1,249.5 295.5,255.8 296.0,250.1 296.4,249.5 296.9,256.8 297.3,253.6 297.8,249.0 298.2,255.7 298.7,250.1 299.1,252.9 299.6,255.9 300.0,250.3 300.5,253.7 300.9,256.7 301.4,250.7 301.8,249.6 302.3,253.2 302.7,255.2 303.2,250.0 303.6,256.1 304.1,249.8 304.5,250.9 305.0,256.9 305.4,251.9 305.9,251.0 306.3,255.4 306.8,251.6 307.2,248.8 307.7,253.0 308.1,256.7 308.6,250.5 309.0,250.6 309.5,256.3 309.9,250.4 310.4,250.5 310.8,255.6 311.3,253.1 311.7,251.0 312.2,251.8 312.6,254.3 313.1,249.7 313.5,256.5 314.0,250.2 314.4,256.0 314.9,254.8 315.3,250.7 315.8,252.6 316.2,254.7 316.7,250.1 317.1,253.6 317.6,256.7 318.0,250.2 318.5,248.9 318.9,254.4" fill="none" stroke="#8CC4E8" stroke-width="0.7" stroke-linejoin="round"/>
<polygon points="319.4,246.3 321.2,246.2 323.1,246.2 324.9,246.2 326.7,246.1 328.6,246.1 330.4,246.0 332.2,246.0 334.1,246.0 335.9,245.9 337.7,245.9 339.6,245.9 341.4,245.8 343.2,245.8 345.1,245.8 346.9,245.7 348.8,245.7 350.6,245.6 352.4,245.6 354.3,245.6 356.1,245.5 357.9,245.5 359.8,245.5 361.6,245.4 363.4,245.4 365.3,245.4 367.1,245.3 368.9,245.3 370.8,245.2 372.6,245.2 374.4,245.2 376.3,245.1 378.1,245.1 379.9,245.1 381.8,245.0 383.6,245.0 385.4,245.0 387.3,244.9 389.1,244.9 391.0,244.8 391.0,259.2 389.1,259.1 387.3,259.1 385.4,259.0 383.6,259.0 381.8,259.0 379.9,258.9 378.1,258.9 376.3,258.9 374.4,258.8 372.6,258.8 370.8,258.8 368.9,258.7 367.1,258.7 365.3,258.6 363.4,258.6 361.6,258.6 359.8,258.5 357.9,258.5 356.1,258.5 354.3,258.4 352.4,258.4 350.6,258.4 348.8,258.3 346.9,258.3 345.1,258.2 343.2,258.2 341.4,258.2 339.6,258.1 337.7,258.1 335.9,258.1 334.1,258.0 332.2,258.0 330.4,258.0 328.6,257.9 326.7,257.9 324.9,257.8 323.1,257.8 321.2,257.8 319.4,257.7" fill="#5FAADC" fill-opacity="0.35"/>
<polyline points="319.4,258.9 319.8,249.6 320.3,245.7 320.7,255.1 321.2,256.4 321.6,245.3 322.1,249.7 322.5,258.5 323.0,248.7 323.4,250.0 323.9,256.9 324.3,257.7 324.8,245.7 325.2,248.6 325.7,257.1 326.1,246.3 326.6,256.5 327.0,256.7 327.5,245.9 327.9,253.7 328.4,258.8 328.8,251.8 329.3,247.1 329.7,252.8 330.2,257.1 330.6,258.7 331.1,247.1 331.5,248.2 332.0,256.1 332.4,246.5 332.9,248.5 333.3,259.8 333.8,255.1 334.2,246.4 334.7,257.1 335.1,247.1 335.6,248.5 336.0,260.0 336.5,252.0 336.9,246.0 337.4,247.0 337.8,259.2 338.3,246.9 338.7,245.6 339.2,259.1 339.6,249.4 340.1,250.4 340.5,257.3 341.0,252.7 341.4,243.7 341.9,250.1 342.3,258.3 342.8,259.7 343.2,250.1 343.7,247.0 344.1,257.5 344.6,255.9 345.0,244.4 345.5,247.2 345.9,257.7 346.4,257.7 346.8,247.7 347.3,252.7 347.7,258.4 348.2,252.0 348.6,244.1 349.1,257.2 349.5,255.3 350.0,248.4 350.4,246.2 350.9,254.5 351.3,257.0 351.8,243.3 352.2,252.9 352.7,259.8 353.1,249.5 353.6,247.0 354.0,255.8 354.5,258.6 354.9,244.4 355.4,251.5 355.8,259.0 356.3,249.3 356.7,243.7 357.2,259.6 357.6,254.5 358.1,244.8 358.5,248.6 359.0,256.9 359.4,259.9 359.9,245.7 360.3,250.0 360.8,259.8 361.2,251.3 361.7,247.3 362.1,259.3 362.6,252.8 363.0,247.5 363.5,259.9 363.9,250.1 364.4,250.3 364.8,261.5 365.3,250.9 365.7,242.5 366.2,254.1 366.6,258.3 367.1,250.0 367.5,243.3 368.0,248.7 368.4,254.9 368.9,253.2 369.3,245.1 369.8,246.8 370.2,260.7 370.7,252.5 371.1,244.6 371.6,258.7 372.0,251.8 372.5,245.8 372.9,258.8 373.4,257.1 373.8,243.4 374.3,245.9 374.7,258.4 375.2,254.7 375.6,246.8 376.1,256.3 376.5,259.1 377.0,244.6 377.4,253.9 377.9,261.1 378.3,253.0 378.8,246.4 379.2,257.7 379.7,243.7 380.1,250.0 380.6,259.5 381.0,252.2 381.5,248.8 381.9,257.5 382.4,257.0 382.8,251.6 383.3,244.9 383.7,248.1 384.2,259.9 384.6,251.1 385.1,243.3 385.5,252.0 386.0,259.0 386.4,248.4 386.9,245.1 387.3,258.4 387.8,255.5 388.2,242.9 388.7,258.9 389.1,254.7 389.6,244.5 390.0,254.1 390.5,260.3 390.9,255.7" fill="none" stroke="#5FAADC" stroke-width="0.7" stroke-linejoin="round"/>
<polygon points="391.0,240.9 392.8,240.6 394.7,240.3 396.5,239.9 398.4,239.5 400.3,239.1 402.1,238.5 404.0,238.0 405.8,237.4 407.7,236.8 409.6,236.2 411.4,235.6 413.3,235.0 415.1,234.5 417.0,234.1 418.9,233.8 420.7,233.6 422.6,233.5 424.4,233.5 426.3,233.7 428.2,234.0 430.0,234.3 431.9,234.8 433.7,235.4 435.6,235.9 437.5,236.6 439.3,237.2 441.2,237.8 443.0,238.3 444.9,238.9 446.8,239.4 448.6,239.8 450.5,240.2 452.3,240.5 454.2,240.8 456.1,241.0 457.9,241.2 459.8,241.3 461.6,241.4 463.5,241.5 463.5,263.7 461.6,263.8 459.8,263.9 457.9,264.0 456.1,264.2 454.2,264.4 452.3,264.7 450.5,265.0 448.6,265.4 446.8,265.8 444.9,266.3 443.0,266.9 441.2,267.4 439.3,268.0 437.5,268.6 435.6,269.3 433.7,269.8 431.9,270.4 430.0,270.9 428.2,271.2 426.3,271.5 424.4,271.7 422.6,271.7 420.7,271.6 418.9,271.4 417.0,271.1 415.1,270.7 413.3,270.2 411.4,269.6 409.6,269.0 407.7,268.4 405.8,267.8 404.0,267.2 402.1,266.7 400.3,266.1 398.4,265.7 396.5,265.3 394.7,264.9 392.8,264.6 391.0,264.3" fill="#3F8DCB" fill-opacity="0.45"/>
<polyline points="391.0,262.4 391.4,255.9 391.8,243.3 392.1,262.5 392.5,257.2 392.9,240.8 393.3,267.0 393.7,250.2 394.1,247.7 394.5,257.8 394.9,252.9 395.3,241.0 395.7,259.1 396.1,266.6 396.5,239.2 396.9,262.0 397.3,262.9 397.7,243.3 398.1,249.0 398.5,268.8 398.9,254.8 399.3,240.0 399.7,265.3 400.1,263.4 400.5,241.2 400.9,253.9 401.3,269.1 401.7,256.6 402.1,236.2 402.5,256.8 402.9,264.2 403.3,242.6 403.7,246.7 404.1,265.6 404.5,261.1 404.9,235.2 405.3,241.4 405.7,265.1 406.1,269.0 406.5,236.7 406.9,267.0 407.3,244.6 407.7,241.4 408.1,265.0 408.5,265.9 408.9,238.6 409.3,260.8 409.7,250.6 410.1,241.5 410.5,271.6 410.9,254.4 411.3,238.1 411.7,261.2 412.1,255.7 412.5,236.6 412.9,256.8 413.3,271.1 413.7,242.6 414.1,238.8 414.5,271.9 414.9,239.1 415.3,248.9 415.7,271.6 416.1,244.6 416.5,244.2 416.9,276.8 417.3,240.5 417.7,251.4 418.1,263.6 418.5,235.4 418.9,268.7 419.3,266.1 419.7,238.8 420.1,232.9 420.5,267.5 420.9,269.3 421.3,238.2 421.7,250.7 422.1,272.7 422.5,239.1 422.9,243.0 423.3,272.7 423.7,232.2 424.1,266.0 424.5,267.6 424.9,253.6 425.3,236.8 425.7,269.3 426.1,243.6 426.5,240.1 426.9,266.1 427.3,265.2 427.7,245.9 428.1,234.4 428.5,265.9 428.9,254.3 429.3,236.1 429.7,233.0 430.1,258.1 430.5,257.2 430.9,237.2 431.3,240.6 431.7,275.1 432.1,247.3 432.5,249.1 432.9,271.1 433.3,234.6 433.7,268.4 434.1,258.0 434.5,240.4 434.9,270.8 435.3,258.2 435.7,236.7 436.1,261.6 436.5,263.5 436.9,246.5 437.3,244.5 437.7,270.4 438.1,236.5 438.5,245.1 438.9,270.9 439.3,238.9 439.7,244.2 440.1,267.3 440.5,248.1 440.9,236.9 441.3,247.9 441.7,265.7 442.1,247.3 442.5,246.7 442.9,264.1 443.3,249.9 443.7,245.8 444.1,265.7 444.5,238.7 444.9,245.0 445.3,264.6 445.7,250.0 446.1,240.8 446.5,269.0 446.9,239.4 447.3,250.4 447.7,263.8 448.1,258.2 448.5,239.7 448.9,262.3 449.3,254.6 449.7,245.7 450.1,265.7 450.5,242.2 450.9,257.5 451.3,264.5 451.7,246.4 452.1,246.6 452.5,262.6 452.9,242.3 453.3,250.5 453.7,266.1 454.1,254.1 454.5,242.2 454.9,260.1 455.3,254.3 455.7,242.7 456.1,261.0 456.5,265.8 456.9,247.0 457.3,244.4 457.7,254.1 458.1,254.6 458.5,242.5 458.9,264.2 459.3,252.0 459.7,240.2 460.1,263.0 460.5,246.9 460.9,243.1 461.3,265.6 461.7,246.3 462.1,248.3 462.5,265.8 462.9,242.1 463.3,249.0" fill="none" stroke="#3F8DCB" stroke-width="0.7" stroke-linejoin="round"/>
<rect x="176.30" y="478.0" width="114.78" height="50.30" fill="url(#g10)"/>
<rect x="290.78" y="478.0" width="172.02" height="50.30" fill="url(#g11)"/>
<g clip-path="url(#cpj)"><rect x="441" y="503" width="5" height="30" fill="#F5903E" fill-opacity="0.6" filter="url(#blur1)"/><rect x="340.5" y="508" width="4" height="25" fill="#F6A050" fill-opacity="0.35" filter="url(#blur1)"/><rect x="229" y="506" width="6" height="25" fill="#F28A44" fill-opacity="0.25" filter="url(#blur1)"/></g>
<rect x="176.3" y="478.0" width="1.4" height="24.0" fill="url(#swh)" fill-opacity="0.04"/>
<rect x="177.7" y="478.0" width="1.8" height="35.0" fill="url(#swh)" fill-opacity="0.10"/>
<rect x="179.5" y="478.0" width="1.0" height="33.4" fill="url(#swh)" fill-opacity="0.02"/>
<rect x="180.5" y="478.0" width="1.0" height="28.9" fill="url(#swh)" fill-opacity="0.00"/>
<rect x="181.5" y="478.0" width="1.5" height="26.0" fill="url(#swh)" fill-opacity="0.10"/>
<rect x="183.0" y="478.0" width="1.8" height="29.1" fill="url(#swh)" fill-opacity="0.07"/>
<rect x="184.8" y="478.0" width="1.0" height="36.7" fill="url(#sbl)" fill-opacity="0.06"/>
<rect x="185.7" y="478.0" width="1.8" height="37.5" fill="url(#sbl)" fill-opacity="0.01"/>
<rect x="187.5" y="478.0" width="1.7" height="37.7" fill="url(#sbl)" fill-opacity="0.04"/>
<rect x="189.2" y="478.0" width="1.6" height="30.4" fill="url(#sbl)" fill-opacity="0.03"/>
<rect x="190.8" y="478.0" width="1.8" height="20.5" fill="url(#swh)" fill-opacity="0.05"/>
<rect x="192.6" y="478.0" width="1.0" height="31.3" fill="url(#swh)" fill-opacity="0.13"/>
<rect x="193.5" y="478.0" width="2.0" height="28.5" fill="url(#swh)" fill-opacity="0.15"/>
<rect x="195.5" y="478.0" width="2.1" height="33.4" fill="url(#swh)" fill-opacity="0.04"/>
<rect x="197.6" y="478.0" width="1.5" height="32.5" fill="url(#swh)" fill-opacity="0.09"/>
<rect x="199.1" y="478.0" width="1.8" height="24.8" fill="url(#sbl)" fill-opacity="0.07"/>
<rect x="200.9" y="478.0" width="2.1" height="32.8" fill="url(#sbl)" fill-opacity="0.09"/>
<rect x="203.0" y="478.0" width="1.2" height="32.5" fill="url(#swh)" fill-opacity="0.03"/>
<rect x="204.2" y="478.0" width="2.0" height="29.4" fill="url(#sbl)" fill-opacity="0.07"/>
<rect x="206.2" y="478.0" width="1.3" height="30.7" fill="url(#swh)" fill-opacity="0.03"/>
<rect x="207.5" y="478.0" width="0.9" height="23.3" fill="url(#swh)" fill-opacity="0.02"/>
<rect x="208.4" y="478.0" width="1.7" height="26.2" fill="url(#swh)" fill-opacity="0.07"/>
<rect x="210.1" y="478.0" width="0.8" height="26.9" fill="url(#sbl)" fill-opacity="0.06"/>
<rect x="210.9" y="478.0" width="1.0" height="25.8" fill="url(#sbl)" fill-opacity="0.00"/>
<rect x="211.9" y="478.0" width="1.9" height="28.5" fill="url(#swh)" fill-opacity="0.07"/>
<rect x="213.7" y="478.0" width="1.8" height="31.1" fill="url(#sbl)" fill-opacity="0.08"/>
<rect x="215.5" y="478.0" width="1.1" height="37.0" fill="url(#swh)" fill-opacity="0.04"/>
<rect x="216.6" y="478.0" width="1.9" height="29.3" fill="url(#swh)" fill-opacity="0.12"/>
<rect x="218.5" y="478.0" width="1.6" height="21.0" fill="url(#swh)" fill-opacity="0.06"/>
<rect x="220.0" y="478.0" width="1.4" height="34.5" fill="url(#sbl)" fill-opacity="0.05"/>
<rect x="221.4" y="478.0" width="1.1" height="21.6" fill="url(#swh)" fill-opacity="0.05"/>
<rect x="222.5" y="478.0" width="2.0" height="32.6" fill="url(#swh)" fill-opacity="0.09"/>
<rect x="224.5" y="478.0" width="1.3" height="30.0" fill="url(#swh)" fill-opacity="0.05"/>
<rect x="225.9" y="478.0" width="1.1" height="37.2" fill="url(#sbl)" fill-opacity="0.01"/>
<rect x="227.0" y="478.0" width="0.9" height="22.6" fill="url(#swh)" fill-opacity="0.04"/>
<rect x="227.9" y="478.0" width="1.5" height="25.2" fill="url(#sbl)" fill-opacity="0.05"/>
<rect x="229.4" y="478.0" width="1.5" height="32.7" fill="url(#sbl)" fill-opacity="0.05"/>
<rect x="231.0" y="478.0" width="1.5" height="25.0" fill="url(#swh)" fill-opacity="0.15"/>
<rect x="232.4" y="478.0" width="1.4" height="35.4" fill="url(#swh)" fill-opacity="0.10"/>
<rect x="233.8" y="478.0" width="1.3" height="37.5" fill="url(#swh)" fill-opacity="0.02"/>
<rect x="235.1" y="478.0" width="1.6" height="36.5" fill="url(#sbl)" fill-opacity="0.04"/>
<rect x="236.6" y="478.0" width="1.3" height="30.7" fill="url(#sbl)" fill-opacity="0.05"/>
<rect x="237.9" y="478.0" width="2.0" height="23.6" fill="url(#sbl)" fill-opacity="0.07"/>
<rect x="239.9" y="478.0" width="1.1" height="30.7" fill="url(#swh)" fill-opacity="0.15"/>
<rect x="241.0" y="478.0" width="2.0" height="28.4" fill="url(#sbl)" fill-opacity="0.05"/>
<rect x="243.0" y="478.0" width="2.2" height="26.0" fill="url(#swh)" fill-opacity="0.11"/>
<rect x="245.2" y="478.0" width="1.1" height="27.4" fill="url(#sbl)" fill-opacity="0.03"/>
<rect x="246.3" y="478.0" width="1.1" height="29.7" fill="url(#sbl)" fill-opacity="0.08"/>
<rect x="247.4" y="478.0" width="1.4" height="35.6" fill="url(#sbl)" fill-opacity="0.02"/>
<rect x="248.8" y="478.0" width="2.2" height="34.3" fill="url(#swh)" fill-opacity="0.07"/>
<rect x="251.0" y="478.0" width="1.4" height="30.6" fill="url(#swh)" fill-opacity="0.09"/>
<rect x="252.5" y="478.0" width="1.0" height="30.6" fill="url(#swh)" fill-opacity="0.07"/>
<rect x="253.5" y="478.0" width="1.2" height="23.4" fill="url(#sbl)" fill-opacity="0.02"/>
<rect x="254.7" y="478.0" width="1.1" height="30.2" fill="url(#sbl)" fill-opacity="0.09"/>
<rect x="255.8" y="478.0" width="1.8" height="32.8" fill="url(#sbl)" fill-opacity="0.02"/>
<rect x="257.5" y="478.0" width="1.9" height="21.6" fill="url(#sbl)" fill-opacity="0.01"/>
<rect x="259.4" y="478.0" width="0.9" height="33.1" fill="url(#sbl)" fill-opacity="0.04"/>
<rect x="260.4" y="478.0" width="1.7" height="25.3" fill="url(#swh)" fill-opacity="0.11"/>
<rect x="262.1" y="478.0" width="2.1" height="36.5" fill="url(#sbl)" fill-opacity="0.01"/>
<rect x="264.2" y="478.0" width="1.7" height="26.1" fill="url(#swh)" fill-opacity="0.08"/>
<rect x="265.9" y="478.0" width="1.9" height="30.1" fill="url(#swh)" fill-opacity="0.11"/>
<rect x="267.8" y="478.0" width="1.4" height="32.0" fill="url(#swh)" fill-opacity="0.00"/>
<rect x="269.2" y="478.0" width="1.5" height="23.2" fill="url(#sbl)" fill-opacity="0.08"/>
<rect x="270.7" y="478.0" width="1.8" height="35.6" fill="url(#swh)" fill-opacity="0.04"/>
<rect x="272.5" y="478.0" width="1.6" height="28.8" fill="url(#swh)" fill-opacity="0.11"/>
<rect x="274.1" y="478.0" width="1.1" height="29.6" fill="url(#sbl)" fill-opacity="0.00"/>
<rect x="275.2" y="478.0" width="1.0" height="35.8" fill="url(#sbl)" fill-opacity="0.02"/>
<rect x="276.2" y="478.0" width="0.9" height="29.7" fill="url(#swh)" fill-opacity="0.14"/>
<rect x="277.1" y="478.0" width="1.5" height="34.6" fill="url(#swh)" fill-opacity="0.05"/>
<rect x="278.6" y="478.0" width="0.8" height="32.9" fill="url(#swh)" fill-opacity="0.13"/>
<rect x="279.4" y="478.0" width="0.8" height="22.5" fill="url(#swh)" fill-opacity="0.12"/>
<rect x="280.2" y="478.0" width="0.9" height="27.0" fill="url(#swh)" fill-opacity="0.11"/>
<rect x="281.2" y="478.0" width="1.8" height="20.2" fill="url(#swh)" fill-opacity="0.08"/>
<rect x="282.9" y="478.0" width="1.2" height="33.2" fill="url(#swh)" fill-opacity="0.06"/>
<rect x="284.1" y="478.0" width="1.8" height="25.5" fill="url(#sbl)" fill-opacity="0.00"/>
<rect x="285.9" y="478.0" width="2.2" height="23.1" fill="url(#swh)" fill-opacity="0.03"/>
<rect x="288.1" y="478.0" width="1.0" height="20.2" fill="url(#swh)" fill-opacity="0.13"/>
<rect x="289.1" y="478.0" width="1.7" height="37.2" fill="url(#swh)" fill-opacity="0.12"/>
<rect x="290.8" y="478.0" width="1.9" height="29.7" fill="url(#swh)" fill-opacity="0.15"/>
<rect x="292.7" y="478.0" width="1.8" height="37.6" fill="url(#swh)" fill-opacity="0.06"/>
<rect x="294.5" y="478.0" width="2.1" height="28.3" fill="url(#swh)" fill-opacity="0.08"/>
<rect x="296.6" y="478.0" width="1.5" height="25.4" fill="url(#swh)" fill-opacity="0.00"/>
<rect x="298.1" y="478.0" width="0.9" height="31.4" fill="url(#sbl)" fill-opacity="0.08"/>
<rect x="299.1" y="478.0" width="1.5" height="29.2" fill="url(#swh)" fill-opacity="0.02"/>
<rect x="300.6" y="478.0" width="1.7" height="35.5" fill="url(#sbl)" fill-opacity="0.09"/>
<rect x="302.3" y="478.0" width="1.2" height="20.9" fill="url(#sbl)" fill-opacity="0.02"/>
<rect x="303.5" y="478.0" width="0.8" height="35.5" fill="url(#swh)" fill-opacity="0.14"/>
<rect x="304.4" y="478.0" width="1.5" height="25.1" fill="url(#sbl)" fill-opacity="0.01"/>
<rect x="305.9" y="478.0" width="1.0" height="32.8" fill="url(#sbl)" fill-opacity="0.08"/>
<rect x="306.9" y="478.0" width="1.7" height="34.9" fill="url(#sbl)" fill-opacity="0.00"/>
<rect x="308.6" y="478.0" width="1.1" height="24.5" fill="url(#sbl)" fill-opacity="0.04"/>
<rect x="309.6" y="478.0" width="1.1" height="21.5" fill="url(#swh)" fill-opacity="0.03"/>
<rect x="310.8" y="478.0" width="2.0" height="34.5" fill="url(#swh)" fill-opacity="0.11"/>
<rect x="312.8" y="478.0" width="1.4" height="21.9" fill="url(#swh)" fill-opacity="0.08"/>
<rect x="314.2" y="478.0" width="1.6" height="20.3" fill="url(#swh)" fill-opacity="0.09"/>
<rect x="315.8" y="478.0" width="2.1" height="36.1" fill="url(#swh)" fill-opacity="0.05"/>
<rect x="317.9" y="478.0" width="1.6" height="21.0" fill="url(#swh)" fill-opacity="0.08"/>
<rect x="319.6" y="478.0" width="2.0" height="23.2" fill="url(#sbl)" fill-opacity="0.06"/>
<rect x="321.5" y="478.0" width="1.4" height="24.8" fill="url(#sbl)" fill-opacity="0.01"/>
<rect x="322.9" y="478.0" width="2.1" height="21.9" fill="url(#swh)" fill-opacity="0.06"/>
<rect x="325.1" y="478.0" width="1.6" height="22.1" fill="url(#sbl)" fill-opacity="0.03"/>
<rect x="326.7" y="478.0" width="2.1" height="22.6" fill="url(#sbl)" fill-opacity="0.08"/>
<rect x="328.8" y="478.0" width="1.7" height="20.5" fill="url(#swh)" fill-opacity="0.03"/>
<rect x="330.4" y="478.0" width="1.7" height="23.4" fill="url(#swh)" fill-opacity="0.08"/>
<rect x="332.2" y="478.0" width="1.0" height="25.2" fill="url(#swh)" fill-opacity="0.11"/>
<rect x="333.1" y="478.0" width="1.2" height="27.5" fill="url(#swh)" fill-opacity="0.13"/>
<rect x="334.3" y="478.0" width="1.8" height="26.4" fill="url(#sbl)" fill-opacity="0.01"/>
<rect x="336.1" y="478.0" width="1.3" height="36.1" fill="url(#swh)" fill-opacity="0.04"/>
<rect x="337.4" y="478.0" width="1.8" height="21.2" fill="url(#sbl)" fill-opacity="0.08"/>
<rect x="339.2" y="478.0" width="1.1" height="37.0" fill="url(#swh)" fill-opacity="0.04"/>
<rect x="340.3" y="478.0" width="0.9" height="34.4" fill="url(#sbl)" fill-opacity="0.01"/>
<rect x="341.2" y="478.0" width="1.9" height="32.9" fill="url(#sbl)" fill-opacity="0.04"/>
<rect x="343.1" y="478.0" width="1.6" height="35.2" fill="url(#swh)" fill-opacity="0.13"/>
<rect x="344.7" y="478.0" width="1.7" height="30.1" fill="url(#swh)" fill-opacity="0.14"/>
<rect x="346.4" y="478.0" width="1.4" height="37.2" fill="url(#sbl)" fill-opacity="0.01"/>
<rect x="347.9" y="478.0" width="2.0" height="37.3" fill="url(#swh)" fill-opacity="0.04"/>
<rect x="349.8" y="478.0" width="1.1" height="37.2" fill="url(#sbl)" fill-opacity="0.08"/>
<rect x="350.9" y="478.0" width="1.0" height="29.2" fill="url(#swh)" fill-opacity="0.01"/>
<rect x="351.9" y="478.0" width="1.6" height="29.3" fill="url(#sbl)" fill-opacity="0.01"/>
<rect x="353.6" y="478.0" width="1.2" height="25.8" fill="url(#swh)" fill-opacity="0.12"/>
<rect x="354.8" y="478.0" width="1.7" height="21.1" fill="url(#swh)" fill-opacity="0.01"/>
<rect x="356.5" y="478.0" width="1.9" height="27.0" fill="url(#swh)" fill-opacity="0.10"/>
<rect x="358.4" y="478.0" width="1.6" height="26.0" fill="url(#swh)" fill-opacity="0.04"/>
<rect x="360.0" y="478.0" width="0.8" height="22.7" fill="url(#swh)" fill-opacity="0.07"/>
<rect x="360.8" y="478.0" width="2.1" height="37.2" fill="url(#sbl)" fill-opacity="0.02"/>
<rect x="362.9" y="478.0" width="2.1" height="32.5" fill="url(#swh)" fill-opacity="0.01"/>
<rect x="365.1" y="478.0" width="1.0" height="25.7" fill="url(#sbl)" fill-opacity="0.05"/>
<rect x="366.1" y="478.0" width="1.9" height="35.0" fill="url(#sbl)" fill-opacity="0.01"/>
<rect x="368.0" y="478.0" width="1.3" height="28.4" fill="url(#sbl)" fill-opacity="0.02"/>
<rect x="369.3" y="478.0" width="1.8" height="25.0" fill="url(#sbl)" fill-opacity="0.04"/>
<rect x="371.1" y="478.0" width="1.6" height="32.6" fill="url(#swh)" fill-opacity="0.02"/>
<rect x="372.7" y="478.0" width="1.7" height="28.7" fill="url(#sbl)" fill-opacity="0.05"/>
<rect x="374.4" y="478.0" width="1.4" height="29.0" fill="url(#sbl)" fill-opacity="0.04"/>
<rect x="375.8" y="478.0" width="0.9" height="33.2" fill="url(#sbl)" fill-opacity="0.03"/>
<rect x="376.7" y="478.0" width="2.1" height="32.5" fill="url(#swh)" fill-opacity="0.08"/>
<rect x="378.8" y="478.0" width="2.1" height="28.9" fill="url(#sbl)" fill-opacity="0.01"/>
<rect x="380.9" y="478.0" width="1.9" height="33.0" fill="url(#sbl)" fill-opacity="0.07"/>
<rect x="382.8" y="478.0" width="1.5" height="28.6" fill="url(#swh)" fill-opacity="0.00"/>
<rect x="384.4" y="478.0" width="1.3" height="25.6" fill="url(#swh)" fill-opacity="0.13"/>
<rect x="385.7" y="478.0" width="0.9" height="27.9" fill="url(#swh)" fill-opacity="0.01"/>
<rect x="386.6" y="478.0" width="1.0" height="21.1" fill="url(#sbl)" fill-opacity="0.01"/>
<rect x="387.6" y="478.0" width="1.8" height="37.6" fill="url(#sbl)" fill-opacity="0.06"/>
<rect x="389.4" y="478.0" width="1.7" height="32.7" fill="url(#sbl)" fill-opacity="0.06"/>
<rect x="391.1" y="478.0" width="1.1" height="28.5" fill="url(#swh)" fill-opacity="0.06"/>
<rect x="392.2" y="478.0" width="1.1" height="28.7" fill="url(#sbl)" fill-opacity="0.07"/>
<rect x="393.3" y="478.0" width="1.5" height="35.3" fill="url(#swh)" fill-opacity="0.09"/>
<rect x="394.8" y="478.0" width="1.1" height="34.6" fill="url(#swh)" fill-opacity="0.10"/>
<rect x="396.0" y="478.0" width="1.5" height="26.1" fill="url(#swh)" fill-opacity="0.02"/>
<rect x="397.4" y="478.0" width="0.8" height="32.8" fill="url(#sbl)" fill-opacity="0.03"/>
<rect x="398.2" y="478.0" width="1.9" height="36.3" fill="url(#swh)" fill-opacity="0.04"/>
<rect x="400.2" y="478.0" width="1.0" height="33.8" fill="url(#swh)" fill-opacity="0.03"/>
<rect x="401.2" y="478.0" width="2.1" height="31.6" fill="url(#swh)" fill-opacity="0.02"/>
<rect x="403.3" y="478.0" width="1.6" height="32.2" fill="url(#swh)" fill-opacity="0.12"/>
<rect x="404.9" y="478.0" width="0.8" height="21.2" fill="url(#swh)" fill-opacity="0.06"/>
<rect x="405.7" y="478.0" width="1.4" height="36.8" fill="url(#sbl)" fill-opacity="0.04"/>
<rect x="407.1" y="478.0" width="1.3" height="36.5" fill="url(#sbl)" fill-opacity="0.04"/>
<rect x="408.4" y="478.0" width="1.8" height="23.9" fill="url(#sbl)" fill-opacity="0.07"/>
<rect x="410.2" y="478.0" width="2.0" height="22.1" fill="url(#swh)" fill-opacity="0.06"/>
<rect x="412.3" y="478.0" width="1.9" height="25.0" fill="url(#sbl)" fill-opacity="0.07"/>
<rect x="414.2" y="478.0" width="1.8" height="37.6" fill="url(#swh)" fill-opacity="0.04"/>
<rect x="415.9" y="478.0" width="1.6" height="25.0" fill="url(#swh)" fill-opacity="0.12"/>
<rect x="417.6" y="478.0" width="1.1" height="26.6" fill="url(#swh)" fill-opacity="0.05"/>
<rect x="418.7" y="478.0" width="1.3" height="31.6" fill="url(#sbl)" fill-opacity="0.09"/>
<rect x="420.0" y="478.0" width="1.9" height="22.2" fill="url(#sbl)" fill-opacity="0.06"/>
<rect x="421.9" y="478.0" width="1.0" height="31.2" fill="url(#swh)" fill-opacity="0.06"/>
<rect x="422.8" y="478.0" width="1.1" height="33.9" fill="url(#swh)" fill-opacity="0.10"/>
<rect x="424.0" y="478.0" width="1.9" height="20.7" fill="url(#swh)" fill-opacity="0.14"/>
<rect x="425.8" y="478.0" width="1.6" height="23.2" fill="url(#swh)" fill-opacity="0.05"/>
<rect x="427.4" y="478.0" width="0.9" height="36.0" fill="url(#swh)" fill-opacity="0.04"/>
<rect x="428.3" y="478.0" width="1.1" height="27.1" fill="url(#swh)" fill-opacity="0.13"/>
<rect x="429.4" y="478.0" width="2.0" height="32.5" fill="url(#swh)" fill-opacity="0.04"/>
<rect x="431.4" y="478.0" width="0.9" height="29.6" fill="url(#swh)" fill-opacity="0.07"/>
<rect x="432.3" y="478.0" width="2.1" height="36.0" fill="url(#sbl)" fill-opacity="0.02"/>
<rect x="434.4" y="478.0" width="1.5" height="30.1" fill="url(#swh)" fill-opacity="0.06"/>
<rect x="435.8" y="478.0" width="2.1" height="24.3" fill="url(#sbl)" fill-opacity="0.09"/>
<rect x="437.9" y="478.0" width="2.0" height="29.3" fill="url(#sbl)" fill-opacity="0.05"/>
<rect x="439.9" y="478.0" width="2.1" height="20.7" fill="url(#swh)" fill-opacity="0.13"/>
<rect x="442.0" y="478.0" width="1.3" height="33.4" fill="url(#swh)" fill-opacity="0.08"/>
<rect x="443.3" y="478.0" width="1.1" height="25.8" fill="url(#swh)" fill-opacity="0.05"/>
<rect x="444.4" y="478.0" width="1.6" height="23.6" fill="url(#swh)" fill-opacity="0.07"/>
<rect x="445.9" y="478.0" width="1.8" height="21.4" fill="url(#swh)" fill-opacity="0.13"/>
<rect x="447.8" y="478.0" width="1.0" height="36.1" fill="url(#swh)" fill-opacity="0.13"/>
<rect x="448.8" y="478.0" width="1.3" height="22.1" fill="url(#sbl)" fill-opacity="0.06"/>
<rect x="450.1" y="478.0" width="1.9" height="23.0" fill="url(#sbl)" fill-opacity="0.08"/>
<rect x="452.0" y="478.0" width="1.8" height="26.7" fill="url(#swh)" fill-opacity="0.12"/>
<rect x="453.8" y="478.0" width="1.4" height="35.6" fill="url(#swh)" fill-opacity="0.06"/>
<rect x="455.1" y="478.0" width="1.4" height="21.7" fill="url(#sbl)" fill-opacity="0.09"/>
<rect x="456.5" y="478.0" width="2.1" height="24.3" fill="url(#swh)" fill-opacity="0.11"/>
<rect x="458.6" y="478.0" width="1.9" height="31.8" fill="url(#sbl)" fill-opacity="0.08"/>
<rect x="460.5" y="478.0" width="1.3" height="25.7" fill="url(#swh)" fill-opacity="0.14"/>
<rect x="461.8" y="478.0" width="0.7" height="23.6" fill="url(#swh)" fill-opacity="0.04"/>
<rect x="176.3" y="478.0" width="286.20" height="50.30" fill="none" stroke="#333" stroke-width="0.8"/>
<line x1="176.30" y1="478.0" x2="176.30" y2="480.5" stroke="#333" stroke-width="0.8"/>
<line x1="176.30" y1="528.3" x2="176.30" y2="525.8" stroke="#333" stroke-width="0.8"/>
<text x="176.3" y="541.9" font-size="10.3" fill="#1a1a1a" text-anchor="middle" >0</text>
<line x1="233.54" y1="478.0" x2="233.54" y2="480.5" stroke="#333" stroke-width="0.8"/>
<line x1="233.54" y1="528.3" x2="233.54" y2="525.8" stroke="#333" stroke-width="0.8"/>
<text x="233.5" y="541.9" font-size="10.3" fill="#1a1a1a" text-anchor="middle" >10</text>
<line x1="290.78" y1="478.0" x2="290.78" y2="480.5" stroke="#333" stroke-width="0.8"/>
<line x1="290.78" y1="528.3" x2="290.78" y2="525.8" stroke="#333" stroke-width="0.8"/>
<text x="290.8" y="541.9" font-size="10.3" fill="#1a1a1a" text-anchor="middle" >20</text>
<line x1="348.02" y1="478.0" x2="348.02" y2="480.5" stroke="#333" stroke-width="0.8"/>
<line x1="348.02" y1="528.3" x2="348.02" y2="525.8" stroke="#333" stroke-width="0.8"/>
<text x="348.0" y="541.9" font-size="10.3" fill="#1a1a1a" text-anchor="middle" >30</text>
<line x1="405.26" y1="478.0" x2="405.26" y2="480.5" stroke="#333" stroke-width="0.8"/>
<line x1="405.26" y1="528.3" x2="405.26" y2="525.8" stroke="#333" stroke-width="0.8"/>
<text x="405.3" y="541.9" font-size="10.3" fill="#1a1a1a" text-anchor="middle" >40</text>
<line x1="462.50" y1="478.0" x2="462.50" y2="480.5" stroke="#333" stroke-width="0.8"/>
<line x1="462.50" y1="528.3" x2="462.50" y2="525.8" stroke="#333" stroke-width="0.8"/>
<text x="462.5" y="541.9" font-size="10.3" fill="#1a1a1a" text-anchor="middle" >50</text>
<text x="171.8" y="482.3" font-size="10" fill="#1a1a1a" text-anchor="end" >50</text>
<text x="171.8" y="532.8" font-size="10" fill="#1a1a1a" text-anchor="end" >0</text>
<text x="318.8" y="555.1" font-size="11.6" fill="#1a1a1a" text-anchor="middle" >Time (s)</text>
<text transform="translate(150.2,503.1) rotate(-90)" font-size="11.5" fill="#1a1a1a" text-anchor="middle">Frequency</text>
<text transform="translate(164.2,503.1) rotate(-90)" font-size="11.4" fill="#1a1a1a" text-anchor="middle">(Hz)</text>
<rect x="473.4" y="478.0" width="8.6" height="50.60" fill="url(#g1)" stroke="#444" stroke-width="0.6"/>
<text x="484.6" y="481.8" font-size="10.3" fill="#1a1a1a" text-anchor="start" >40</text>
<text x="484.6" y="532.8" font-size="10.3" fill="#1a1a1a" text-anchor="start" >-20</text>
<rect x="176.30" y="399.7" width="112.19" height="7.8" fill="#A6A6A6"/>
<rect x="288.49" y="399.7" width="4.58" height="7.8" fill="#D9D9D9"/>
<rect x="293.07" y="399.7" width="166.00" height="7.8" fill="#EE979B"/>
<text x="213.8" y="394.5" font-size="12.6" fill="#1a1a1a" text-anchor="start" >Before</text>
<text x="318.6" y="394.5" font-size="12.6" fill="#1a1a1a" text-anchor="start" >After dessympathize</text>
<line x1="290.78" y1="409" x2="290.78" y2="478" stroke="#666" stroke-width="0.75" stroke-dasharray="2,2"/>
<rect x="174.9" y="454.3" width="2" height="17.19999999999999" fill="#000"/>
<text x="181.2" y="467.3" font-size="10" fill="#1a1a1a" text-anchor="start" >100 μV</text>
<polygon points="176.3,435.7 179.2,435.7 182.2,435.7 185.1,435.7 188.0,435.7 191.0,435.7 193.9,435.7 196.8,435.7 199.8,435.7 202.7,435.7 205.7,435.7 208.6,435.7 211.5,435.7 214.5,435.7 217.4,435.7 220.3,435.7 223.3,435.7 226.2,435.7 229.1,435.7 232.1,435.7 235.0,435.7 237.9,435.7 240.9,435.7 243.8,435.7 246.7,435.7 249.7,435.7 252.6,435.7 255.6,435.7 258.5,435.7 261.4,435.7 264.4,435.7 267.3,435.7 270.2,435.7 273.2,435.7 276.1,435.7 279.0,435.7 282.0,435.7 284.9,435.7 287.8,435.7 290.8,435.7 290.8,445.5 287.8,445.5 284.9,445.5 282.0,445.5 279.0,445.5 276.1,445.5 273.2,445.5 270.2,445.5 267.3,445.5 264.4,445.5 261.4,445.5 258.5,445.5 255.6,445.5 252.6,445.5 249.7,445.5 246.7,445.5 243.8,445.5 240.9,445.5 237.9,445.5 235.0,445.5 232.1,445.5 229.1,445.5 226.2,445.5 223.3,445.5 220.3,445.5 217.4,445.5 214.5,445.5 211.5,445.5 208.6,445.5 205.7,445.5 202.7,445.5 199.8,445.5 196.8,445.5 193.9,445.5 191.0,445.5 188.0,445.5 185.1,445.5 182.2,445.5 179.2,445.5 176.3,445.5" fill="#A0A0A0" fill-opacity="0.3"/>
<polyline points="176.3,446.8 176.8,439.6 177.2,435.2 177.6,443.7 178.1,442.4 178.5,435.2 179.0,444.1 179.4,443.9 179.9,439.1 180.3,436.2 180.8,445.0 181.2,443.5 181.7,439.0 182.1,435.0 182.6,439.6 183.0,444.9 183.5,445.1 183.9,434.6 184.4,440.5 184.8,446.1 185.3,442.3 185.7,436.8 186.2,435.3 186.6,446.1 187.1,437.1 187.5,437.8 188.0,445.8 188.4,440.4 188.9,435.9 189.3,444.5 189.8,443.4 190.2,436.0 190.7,438.7 191.1,443.0 191.6,437.2 192.0,439.1 192.5,445.3 192.9,441.7 193.4,435.1 193.8,435.9 194.3,442.3 194.7,445.3 195.2,436.7 195.6,437.3 196.1,440.1 196.5,445.6 197.0,442.6 197.4,436.1 197.9,445.4 198.3,439.6 198.8,436.0 199.2,443.7 199.7,445.1 200.1,439.5 200.6,434.5 201.0,440.9 201.5,445.4 201.9,441.3 202.4,434.8 202.8,443.6 203.3,440.1 203.7,435.2 204.2,440.6 204.6,446.1 205.1,437.9 205.5,439.3 206.0,446.4 206.4,435.8 206.9,441.1 207.3,445.2 207.8,441.0 208.2,434.9 208.7,441.4 209.1,445.2 209.6,436.1 210.0,438.4 210.5,445.1 210.9,441.3 211.4,436.0 211.8,444.2 212.3,444.4 212.7,436.1 213.2,436.8 213.6,444.9 214.1,444.9 214.5,436.7 215.0,438.1 215.4,443.8 215.9,445.1 216.3,435.2 216.8,439.7 217.2,446.1 217.7,443.7 218.1,434.9 218.6,443.5 219.0,446.4 219.5,434.8 219.9,437.0 220.4,442.5 220.8,443.5 221.3,439.1 221.7,441.6 222.2,445.2 222.6,436.6 223.1,437.1 223.5,444.7 224.0,439.9 224.4,436.2 224.9,440.4 225.3,445.2 225.8,437.4 226.2,435.7 226.7,445.9 227.1,440.9 227.6,436.6 228.0,445.1 228.5,443.1 228.9,434.4 229.4,443.2 229.8,443.0 230.3,434.7 230.7,441.1 231.2,447.2 231.6,441.7 232.1,435.0 232.5,441.4 233.0,446.7 233.4,438.2 233.9,433.3 234.3,444.9 234.8,439.9 235.2,433.7 235.7,437.6 236.1,445.7 236.6,437.0 237.0,441.5 237.5,444.2 237.9,435.1 238.4,440.2 238.8,445.3 239.3,435.8 239.7,439.1 240.2,444.7 240.6,437.8 241.1,434.2 241.5,440.8 242.0,445.1 242.4,436.8 242.9,438.3 243.3,444.3 243.8,445.6 244.2,434.9 244.7,440.2 245.1,444.2 245.6,439.4 246.0,434.4 246.5,441.1 246.9,445.6 247.4,440.8 247.8,434.5 248.3,437.6 248.7,445.5 249.2,440.2 249.6,433.9 250.1,441.9 250.5,444.0 251.0,437.8 251.4,436.5 251.9,444.0 252.3,443.3 252.8,434.5 253.2,444.9 253.7,442.4 254.1,434.0 254.6,437.9 255.0,447.5 255.5,439.3 255.9,436.3 256.4,445.7 256.8,444.1 257.3,435.5 257.7,439.8 258.2,446.0 258.6,438.8 259.1,434.5 259.5,444.7 260.0,446.2 260.4,440.2 260.9,435.7 261.3,439.6 261.8,446.1 262.2,437.9 262.7,437.6 263.1,438.7 263.6,445.3 264.0,439.8 264.5,437.4 264.9,445.2 265.4,439.7 265.8,434.1 266.3,442.3 266.7,443.3 267.2,436.1 267.6,446.9 268.1,441.8 268.5,435.1 269.0,435.6 269.4,440.4 269.9,443.9 270.3,442.1 270.8,435.8 271.2,442.5 271.7,448.2 272.1,438.9 272.6,436.1 273.0,442.5 273.5,444.8 273.9,436.3 274.4,438.4 274.8,446.1 275.3,442.7 275.7,436.4 276.2,439.6 276.6,445.3 277.1,436.0 277.5,436.9 278.0,446.3 278.4,442.7 278.9,434.8 279.3,446.5 279.8,442.1 280.2,435.3 280.7,445.5 281.1,442.6 281.6,434.2 282.0,445.3 282.5,443.5 282.9,436.7 283.4,436.4 283.8,441.0 284.3,444.1 284.7,435.5 285.2,439.6 285.6,446.2 286.1,441.0 286.5,434.1 287.0,440.5 287.4,445.2 287.9,444.6 288.3,436.9 288.8,436.6 289.2,446.4 289.7,438.7 290.1,436.5 290.6,443.4" fill="none" stroke="#A0A0A0" stroke-width="0.75" stroke-linejoin="round"/>
<polyline points="290.8,442.0 291.4,443.0 292.0,440.4 292.6,440.4 293.2,440.7 293.8,441.7 294.4,442.0 295.0,441.7 295.6,440.5 296.2,440.3 296.8,441.7 297.4,441.9 298.0,441.4 298.6,440.2 299.2,440.7 299.8,441.7 300.4,442.1 301.0,440.8 301.6,440.4 302.2,440.0 302.8,441.6 303.4,441.7 304.0,441.0 304.6,440.1 305.2,440.1 305.8,442.1 306.4,442.1 307.0,441.4 307.6,439.8 308.2,439.5 308.8,441.4 309.4,442.4 310.0,442.9 310.6,440.9 311.2,439.5 311.8,440.1 312.4,441.4 313.0,442.4 313.6,442.0 314.2,440.8 314.8,439.8 315.4,440.8 316.0,442.2 316.6,442.2 317.2,442.0 317.8,440.6 318.4,440.2 319.0,441.8 319.6,442.1 320.2,440.1 320.8,440.6 321.4,440.7 322.0,442.2 322.6,441.7 323.2,440.3 323.8,440.1 324.4,440.9 325.0,441.8 325.6,440.2 326.2,439.7 326.8,441.0 327.4,441.7 328.0,441.6 328.6,441.0 329.2,440.1 329.8,440.6 330.4,442.1 331.0,441.8 331.6,440.9 332.2,439.3 332.8,439.4 333.4,440.9 334.0,442.0 334.6,440.9 335.2,440.2 335.8,440.6 336.4,442.1 337.0,442.2 337.6,441.3 338.2,439.4 338.8,441.2 339.4,442.0 340.0,441.7 340.6,440.6 341.2,439.9 341.8,440.6 342.4,441.8 343.0,441.4 343.6,440.7 344.2,439.9 344.8,440.3 345.4,441.4 346.0,441.3 346.6,442.1 347.2,440.4 347.8,439.9 348.4,441.1 349.0,441.3 349.6,442.0 350.2,440.1 350.8,439.9 351.4,441.1 352.0,441.9 352.6,441.9 353.2,440.4 353.8,439.9 354.4,440.8 355.0,440.6 355.6,442.7 356.2,441.5 356.8,441.7 357.4,439.7 358.0,440.9 358.6,441.4 359.2,442.2 359.8,441.1 360.4,439.9 361.0,440.7 361.6,441.8 362.2,442.5 362.8,441.3 363.4,439.3 364.0,440.4 364.6,442.2 365.2,441.4 365.8,439.5 366.4,440.7 367.0,441.5 367.6,441.9 368.2,441.0 368.8,439.8 369.4,439.8 370.0,442.1 370.6,441.8 371.2,441.1 371.8,440.1 372.4,440.9 373.0,442.0 373.6,441.8 374.2,441.1 374.8,439.8 375.4,440.8 376.0,441.7 376.6,441.5 377.2,440.4 377.8,441.2 378.4,442.5 379.0,441.6 379.6,441.1 380.2,439.3 380.8,440.3 381.4,441.6 382.0,441.8 382.6,441.2 383.2,439.6 383.8,440.0 384.4,441.1 385.0,442.9 385.6,441.7 386.2,440.9 386.8,440.6 387.4,440.7 388.0,441.9 388.6,441.4 389.2,440.5 389.8,439.8 390.4,440.8 391.0,441.6 391.6,441.9 392.2,440.8 392.8,440.2 393.4,440.9 394.0,441.5 394.6,441.3 395.2,440.0 395.8,440.7 396.4,441.7 397.0,442.1 397.6,441.1 398.2,441.5 398.8,440.4 399.4,440.0 400.0,441.8 400.6,441.5 401.2,440.7 401.8,439.7 402.4,439.8 403.0,441.2 403.6,441.1 404.2,442.2 404.8,440.9 405.4,440.2 406.0,440.7 406.6,441.9 407.2,442.2 407.8,440.4 408.4,440.3 409.0,440.1 409.6,441.7 410.2,443.5 410.8,441.4 411.4,440.4 412.0,439.7 412.6,440.7 413.2,441.5 413.8,441.1 414.4,441.1 415.0,440.2 415.6,439.9 416.2,442.3 416.8,442.1 417.4,441.1 418.0,440.0 418.6,441.9 419.2,442.5 419.8,440.4 420.4,440.0 421.0,441.1 421.6,441.2 422.2,441.1 422.8,440.7 423.4,440.3 424.0,439.5 424.6,441.2 425.2,441.6 425.8,441.8 426.4,441.1 427.0,440.0 427.6,439.4 428.2,440.8 428.8,442.7 429.4,441.6 430.0,440.4 430.6,440.2 431.2,440.7 431.8,442.7 432.4,441.8 433.0,441.2 433.6,440.6 434.2,440.9 434.8,442.1 435.4,441.2 436.0,440.4 436.6,441.7 437.2,441.2 437.8,441.3 438.4,439.6 439.0,439.6 439.6,441.7 440.2,441.8 440.8,441.4 441.4,440.5 442.0,440.0 442.6,441.4 443.2,441.8 443.8,440.6 444.4,439.9 445.0,440.7 445.6,441.3 446.2,442.0 446.8,441.4 447.4,439.7 448.0,439.7 448.6,441.0 449.2,442.0 449.8,440.2 450.4,440.6 451.0,440.3 451.6,440.7 452.2,441.8 452.8,441.1 453.4,440.7 454.0,439.2 454.6,440.1 455.2,440.4 455.8,442.0 456.4,442.3 457.0,440.6 457.6,440.4 458.2,441.8 458.8,442.6 459.4,440.4 460.0,439.9 460.6,440.3 461.2,441.1 461.8,441.8 462.4,441.8 463.0,440.6" fill="none" stroke="#E88A8E" stroke-width="0.8" stroke-linejoin="round"/>
<text x="559.0" y="19.2" font-size="11.75" fill="#1a1a1a" text-anchor="start" >Vasoconstriction</text>
<rect x="546.8" y="25.5" width="14.80" height="4.70" fill="#E7F1F9"/>
<rect x="561.6" y="25.5" width="22.70" height="4.70" fill="#EFF3E8"/>
<rect x="543.8" y="48.3" width="13.10" height="7.40" fill="#E7F1F9"/>
<rect x="556.9" y="48.3" width="26.00" height="7.40" fill="#EFF3E8"/>
<rect x="542.3" y="65.1" width="12.60" height="26.00" fill="#E7F1F9"/>
<rect x="554.9" y="65.1" width="28.00" height="22.90" fill="#EFF3E8"/>
<text x="506.0" y="31.8" font-size="10.2" fill="#F0C898" text-anchor="start" >0.1 mL</text>
<text x="506.0" y="58.0" font-size="10.2" fill="#EAB06E" text-anchor="start" >0.2 mL</text>
<text x="506.0" y="83.4" font-size="10.2" fill="#E39B49" text-anchor="start" >0.4 mL</text>
<polyline points="540.5,28.2 541.0,28.3 541.6,28.4 542.3,28.5 543.2,28.6 544.0,28.7 545.0,28.8 545.9,28.8 546.8,28.8 547.7,28.7 548.7,28.6 549.7,28.4 550.7,28.2 551.7,27.9 552.8,27.7 553.7,27.5 554.7,27.3 555.6,27.1 556.5,27.0 557.4,26.8 558.3,26.7 559.2,26.6 560.0,26.4 560.8,26.4 561.6,26.3 562.3,26.3 562.9,26.3 563.5,26.3 564.0,26.4 564.5,26.5 565.1,26.5 565.8,26.6 566.5,26.7 567.3,26.8 568.2,26.8 569.1,26.9 570.1,27.0 571.1,27.1 572.1,27.2 573.2,27.3 574.4,27.5 575.6,27.7 577.0,28.0 578.4,28.3 579.9,28.6 581.4,28.9 582.8,29.2 584.1,29.3 585.3,29.4 586.4,29.3 587.4,29.2 588.3,28.9 589.1,28.6 589.9,28.3 590.7,28.0 591.5,27.7 592.2,27.5 592.9,27.3 593.5,27.1 594.0,27.0 594.5,26.8 595.1,26.7 595.6,26.6 596.3,26.5 597.1,26.5 598.0,26.5 598.9,26.6 599.8,26.7 600.9,26.8 602.0,26.9 603.2,27.1 604.5,27.3 606.0,27.5 607.7,27.8 609.6,28.1 611.6,28.5 613.8,28.9 615.9,29.2 618.0,29.5 620.0,29.7 621.7,29.8 623.2,29.7 624.7,29.4 626.0,29.0 627.3,28.6 628.4,28.1 629.5,27.7 630.6,27.3 631.6,27.1 632.5,27.0 633.2,26.9 633.8,26.9 634.4,26.9 635.0,26.9 635.7,27.0 636.5,27.0 637.5,27.1 638.7,27.2 640.1,27.3 641.6,27.4 643.2,27.6 644.8,27.7 646.4,27.9 647.9,28.0 649.3,28.2 650.6,28.4 651.8,28.6 653.0,28.9 654.2,29.1 655.3,29.4 656.3,29.6 657.3,29.7 658.2,29.8 659.0,29.8 659.8,29.7 660.5,29.6 661.2,29.4 661.8,29.2 662.3,29.0 662.7,28.9 663.1,28.8" fill="none" stroke="#F0C898" stroke-width="1.2" stroke-linejoin="round" stroke-linecap="round" />
<polyline points="540.5,54.5 540.7,54.6 541.0,54.7 541.4,54.8 541.8,55.0 542.2,55.1 542.7,55.1 543.3,55.1 543.9,55.0 544.6,54.7 545.4,54.4 546.3,53.9 547.2,53.4 548.1,52.9 549.1,52.4 550.0,51.9 550.8,51.5 551.6,51.1 552.3,50.7 553.1,50.3 553.8,49.9 554.5,49.6 555.2,49.3 556.0,49.0 556.7,48.9 557.4,48.8 558.0,48.9 558.7,49.0 559.3,49.1 560.0,49.3 560.7,49.5 561.6,49.7 562.6,49.9 563.8,50.1 565.2,50.4 566.8,50.6 568.4,50.9 570.0,51.2 571.6,51.5 573.1,51.8 574.4,52.1 575.6,52.4 576.7,52.8 577.8,53.2 578.8,53.6 579.7,54.0 580.6,54.3 581.5,54.5 582.3,54.5 583.0,54.4 583.7,54.1 584.3,53.7 584.8,53.2 585.3,52.7 585.9,52.1 586.5,51.6 587.2,51.1 588.0,50.6 588.8,50.0 589.7,49.5 590.7,48.9 591.6,48.3 592.5,47.9 593.3,47.5 594.1,47.2 594.8,47.1 595.3,47.0 595.7,47.0 596.2,47.1 596.7,47.3 597.3,47.5 598.0,47.7 599.0,48.0 600.3,48.3 601.7,48.7 603.4,49.1 605.1,49.6 606.9,50.1 608.7,50.6 610.4,51.1 611.9,51.5 613.3,52.0 614.7,52.5 616.0,53.0 617.2,53.5 618.4,54.0 619.6,54.3 620.7,54.5 621.7,54.5 622.6,54.2 623.5,53.7 624.2,53.1 625.0,52.3 625.6,51.5 626.3,50.7 626.9,50.0 627.6,49.5 628.3,49.1 628.9,48.7 629.5,48.4 630.2,48.2 630.8,48.0 631.4,47.8 632.0,47.7 632.6,47.6 633.1,47.6 633.6,47.6 634.0,47.6 634.4,47.7 634.9,47.8 635.5,48.0 636.4,48.2 637.5,48.5 639.0,48.9 640.9,49.3 643.0,49.9 645.2,50.4 647.5,51.0 649.7,51.6 651.6,52.1 653.3,52.5 654.7,52.9 655.9,53.2 657.0,53.6 658.0,53.9 658.9,54.1 659.7,54.3 660.4,54.5 661.1,54.5 661.7,54.4 662.3,54.2 662.7,54.0 663.1,53.6 663.4,53.3 663.7,53.0 663.9,52.7 664.1,52.5" fill="none" stroke="#EAB06E" stroke-width="1.2" stroke-linejoin="round" stroke-linecap="round" />
<polyline points="540.5,90.9 540.7,90.9 540.9,90.9 541.2,91.0 541.5,91.0 541.8,90.9 542.1,90.8 542.5,90.5 542.9,90.1 543.3,89.5 543.8,88.8 544.2,87.9 544.7,86.9 545.3,85.9 545.8,84.8 546.3,83.7 546.8,82.6 547.3,81.4 547.8,80.2 548.3,78.8 548.8,77.5 549.3,76.1 549.8,74.8 550.3,73.7 550.8,72.7 551.3,71.9 551.8,71.1 552.4,70.5 552.9,69.9 553.4,69.4 553.9,69.0 554.3,68.7 554.7,68.4 555.0,68.2 555.3,68.1 555.5,68.1 555.8,68.1 556.0,68.2 556.2,68.3 556.4,68.6 556.7,68.8 557.0,69.1 557.3,69.5 557.7,70.0 558.0,70.5 558.4,71.0 558.8,71.6 559.2,72.2 559.6,72.7 560.0,73.2 560.5,73.8 560.9,74.4 561.4,74.9 561.8,75.5 562.4,76.1 563.0,76.6 563.6,77.1 564.3,77.6 565.0,78.0 565.8,78.4 566.6,78.8 567.4,79.2 568.4,79.6 569.4,80.1 570.5,80.6 571.8,81.4 573.3,82.4 574.9,83.5 576.5,84.6 578.2,85.6 579.7,86.4 581.1,86.7 582.3,86.5 583.2,85.7 584.0,84.2 584.6,82.4 585.2,80.3 585.7,78.1 586.1,76.0 586.6,74.2 587.2,72.7 587.8,71.6 588.5,70.6 589.2,69.8 589.8,69.1 590.5,68.5 591.1,68.0 591.7,67.6 592.2,67.2 592.7,66.9 593.0,66.7 593.4,66.6 593.7,66.6 594.0,66.6 594.4,66.7 594.7,66.9 595.1,67.2 595.5,67.5 596.0,68.0 596.4,68.5 596.9,69.1 597.3,69.7 597.9,70.4 598.4,71.1 599.0,71.8 599.6,72.6 600.3,73.4 601.0,74.2 601.7,75.1 602.5,76.0 603.3,76.9 604.1,77.8 605.0,78.6 606.0,79.4 607.0,80.2 608.1,80.9 609.2,81.7 610.4,82.4 611.5,83.2 612.7,83.9 613.8,84.6 614.9,85.4 616.1,86.4 617.3,87.4 618.5,88.3 619.7,89.2 620.8,89.8 621.8,90.1 622.7,90.1 623.5,89.6 624.2,88.7 624.8,87.5 625.4,86.2 625.9,84.7 626.5,83.2 627.0,81.8 627.6,80.6 628.2,79.5 628.9,78.4 629.6,77.3 630.2,76.3 630.9,75.3 631.5,74.5 632.1,73.7 632.6,73.1 633.1,72.6 633.4,72.3 633.8,72.1 634.1,72.0 634.4,71.9 634.7,72.0 635.1,72.1 635.5,72.3 635.9,72.6 636.4,73.0 636.8,73.5 637.3,74.1 637.8,74.7 638.3,75.4 638.9,76.0 639.5,76.7 640.1,77.4 640.8,78.1 641.5,78.9 642.2,79.7 643.0,80.5 643.7,81.2 644.6,81.9 645.4,82.6 646.3,83.2 647.2,83.7 648.2,84.2 649.2,84.7 650.3,85.1 651.3,85.6 652.3,86.0 653.3,86.5 654.3,87.0 655.4,87.7 656.4,88.3 657.5,88.9 658.5,89.5 659.5,90.0 660.4,90.3 661.1,90.5 661.7,90.4 662.3,90.2 662.7,89.8 663.1,89.2 663.4,88.7 663.7,88.2 663.9,87.8 664.1,87.5" fill="none" stroke="#E39B49" stroke-width="1.2" stroke-linejoin="round" stroke-linecap="round" />
<line x1="546.0" y1="67.8" x2="550.8" y2="67.8" stroke="#1B5B78" stroke-width="1.1"/>
<path d="M542.0,67.8 l5,-2.7 v5.4 z" fill="#1B5B78"/>
<path d="M554.8,67.8 l-5,-2.7 v5.4 z" fill="#1B5B78"/>
<line x1="559.4" y1="67.8" x2="578.4" y2="67.8" stroke="#1B5B78" stroke-width="1.1"/>
<path d="M555.4,67.8 l5,-2.7 v5.4 z" fill="#1B5B78"/>
<path d="M582.4,67.8 l-5,-2.7 v5.4 z" fill="#1B5B78"/>
<text x="545.3" y="63.3" font-size="11" font-style="italic" fill="#1B5B78" stroke="#1B5B78" stroke-width="0.35">t<tspan font-size="8.5" dy="2">r</tspan></text>
<text x="566.5" y="63.3" font-size="11" font-style="italic" fill="#1B5B78" stroke="#1B5B78" stroke-width="0.35">t<tspan font-size="8.5" dy="2">f</tspan></text>
<text x="546" y="103.3" font-size="11" fill="#1B5B78" stroke="#1B5B78" stroke-width="0.3"><tspan font-style="italic">t</tspan><tspan font-style="italic" font-size="8" dy="2">r</tspan><tspan dy="-2" font-style="italic">/t</tspan><tspan font-style="italic" font-size="8" dy="2">f</tspan><tspan dy="-2"> &lt; 1</tspan></text>
<rect x="669.8" y="73.3" width="2" height="12.100000000000009" fill="#000"/>
<text transform="translate(683.2,79.3) rotate(-90)" font-size="10.2" fill="#1a1a1a" text-anchor="middle">100 μV</text>
<rect x="650.4" y="93.7" width="11.800000000000068" height="2" fill="#000"/>
<text x="656.3" y="105.5" font-size="10.2" fill="#1a1a1a" text-anchor="middle" >0.1 s</text>
<text x="565.6" y="205.4" font-size="11.75" fill="#1a1a1a" text-anchor="start" >Vasodilatation</text>
<rect x="540.5" y="208.7" width="28.70" height="7.90" fill="#E7F1F9"/>
<rect x="569.2" y="208.7" width="9.80" height="7.90" fill="#EFF3E8"/>
<rect x="543.9" y="229.5" width="23.60" height="15.00" fill="#E7F1F9"/>
<rect x="567.5" y="229.5" width="14.40" height="15.00" fill="#EFF3E8"/>
<rect x="543.3" y="252" width="24.20" height="32.00" fill="#E7F1F9"/>
<rect x="567.5" y="252" width="14.40" height="33.00" fill="#EFF3E8"/>
<text x="506.0" y="217.2" font-size="10.2" fill="#A6D2EE" text-anchor="start" >0.1 mL</text>
<text x="506.0" y="243.9" font-size="10.2" fill="#6AB0DF" text-anchor="start" >0.2 mL</text>
<text x="506.0" y="269.6" font-size="10.2" fill="#3C8BCB" text-anchor="start" >0.4 mL</text>
<polyline points="540.5,216.2 541.1,216.0 541.8,215.8 542.7,215.5 543.8,215.3 544.8,214.9 545.9,214.6 547.0,214.3 548.0,214.0 549.0,213.7 549.9,213.4 550.9,213.1 551.9,212.7 552.9,212.4 553.9,212.1 554.9,211.8 556.0,211.5 557.1,211.2 558.3,210.9 559.6,210.7 560.9,210.4 562.1,210.1 563.2,209.9 564.3,209.8 565.2,209.7 565.9,209.7 566.5,209.6 566.9,209.7 567.2,209.7 567.6,209.9 568.0,210.1 568.5,210.3 569.2,210.7 570.0,211.2 571.0,212.0 572.0,212.8 573.1,213.8 574.3,214.6 575.5,215.4 576.7,215.9 578.0,216.2 579.3,216.1 580.7,215.8 582.1,215.3 583.5,214.6 585.0,214.0 586.6,213.3 588.3,212.7 590.0,212.3 591.9,212.0 593.9,211.7 596.0,211.5 598.2,211.3 600.3,211.2 602.5,211.2 604.6,211.2 606.5,211.4 608.3,211.8 610.1,212.4 611.9,213.1 613.6,213.9 615.2,214.7 616.9,215.4 618.4,215.8 620.0,216.0 621.5,215.8 622.9,215.4 624.3,214.8 625.6,214.1 626.9,213.3 628.3,212.5 629.7,211.9 631.3,211.4 633.0,211.0 634.8,210.7 636.7,210.4 638.6,210.2 640.5,210.0 642.4,210.0 644.2,210.0 645.8,210.2 647.3,210.6 648.7,211.3 650.1,212.1 651.3,213.0 652.6,213.8 653.8,214.6 654.9,215.2 656.0,215.6 657.1,215.7 658.2,215.5 659.3,215.2 660.3,214.8 661.2,214.3 662.1,213.9 662.8,213.5 663.3,213.3" fill="none" stroke="#A6D2EE" stroke-width="1.2" stroke-linejoin="round" stroke-linecap="round" />
<polyline points="540.5,243.3 540.8,243.4 541.3,243.5 541.8,243.7 542.3,243.9 542.9,244.1 543.6,244.2 544.2,244.2 544.9,244.1 545.6,243.9 546.3,243.6 547.0,243.2 547.8,242.8 548.5,242.3 549.3,241.8 550.1,241.3 550.8,240.7 551.5,240.1 552.3,239.4 553.0,238.6 553.8,237.8 554.5,237.0 555.2,236.2 556.0,235.5 556.7,234.8 557.4,234.2 558.2,233.6 559.0,233.0 559.7,232.5 560.5,232.0 561.2,231.6 561.9,231.2 562.6,230.9 563.3,230.6 563.9,230.4 564.6,230.3 565.2,230.2 565.8,230.2 566.4,230.2 566.9,230.2 567.5,230.3 568.0,230.4 568.5,230.6 569.0,230.9 569.5,231.1 570.0,231.5 570.5,231.9 571.0,232.3 571.5,232.8 572.1,233.4 572.7,234.1 573.3,234.9 573.9,235.8 574.5,236.6 575.2,237.4 575.8,238.2 576.4,238.8 577.0,239.4 577.6,239.9 578.2,240.4 578.8,240.9 579.5,241.3 580.1,241.7 580.7,241.9 581.3,242.1 581.9,242.2 582.5,242.2 583.0,242.2 583.6,242.0 584.1,241.8 584.8,241.5 585.4,241.2 586.2,240.7 587.0,240.1 587.9,239.3 588.9,238.4 589.8,237.4 590.9,236.4 591.9,235.4 593.0,234.6 594.1,233.8 595.3,233.1 596.6,232.5 597.9,231.9 599.3,231.4 600.6,230.9 601.9,230.5 603.0,230.1 604.0,229.9 604.8,229.8 605.4,229.7 605.8,229.7 606.2,229.9 606.6,230.0 606.9,230.3 607.4,230.6 607.9,230.9 608.5,231.3 609.2,231.8 609.9,232.4 610.7,233.1 611.4,233.7 612.2,234.4 613.0,235.1 613.8,235.8 614.6,236.5 615.5,237.3 616.3,238.2 617.2,239.1 618.1,239.9 619.0,240.5 619.8,241.0 620.7,241.3 621.6,241.3 622.4,241.1 623.2,240.7 624.1,240.2 624.9,239.7 625.8,239.0 626.7,238.4 627.6,237.8 628.5,237.2 629.5,236.5 630.5,235.7 631.5,234.9 632.5,234.1 633.5,233.4 634.5,232.7 635.5,232.2 636.5,231.8 637.6,231.4 638.6,231.1 639.7,230.8 640.7,230.6 641.7,230.4 642.6,230.3 643.4,230.3 644.1,230.3 644.6,230.4 645.1,230.5 645.5,230.6 645.9,230.8 646.3,231.1 646.7,231.5 647.3,231.9 648.0,232.4 648.7,233.1 649.4,233.9 650.2,234.7 651.0,235.5 651.8,236.4 652.5,237.1 653.3,237.8 654.0,238.4 654.8,239.0 655.6,239.7 656.3,240.2 657.1,240.7 657.8,241.2 658.5,241.5 659.2,241.7 659.9,241.8 660.6,241.6 661.3,241.4 662.0,241.1 662.7,240.8 663.2,240.5 663.7,240.3 664.1,240.1" fill="none" stroke="#6AB0DF" stroke-width="1.2" stroke-linejoin="round" stroke-linecap="round" />
<polyline points="540.5,280.7 541.0,280.6 541.6,280.4 542.4,280.3 543.3,280.1 544.2,279.8 545.1,279.6 546.0,279.2 546.8,278.8 547.6,278.3 548.3,277.8 549.0,277.2 549.8,276.5 550.5,275.8 551.2,275.1 552.0,274.4 552.7,273.6 553.5,272.8 554.2,271.9 555.0,271.0 555.8,270.1 556.5,269.2 557.3,268.2 558.0,267.3 558.7,266.3 559.4,265.3 560.0,264.3 560.7,263.3 561.3,262.3 562.0,261.3 562.5,260.3 563.1,259.4 563.6,258.5 564.1,257.7 564.5,256.8 564.9,256.0 565.2,255.3 565.5,254.6 565.9,254.0 566.2,253.5 566.5,253.1 566.8,252.8 567.1,252.5 567.4,252.3 567.7,252.2 567.9,252.3 568.2,252.5 568.6,252.9 568.9,253.5 569.3,254.4 569.7,255.7 570.1,257.1 570.5,258.7 571.0,260.4 571.5,262.2 571.9,263.8 572.4,265.4 572.9,266.9 573.3,268.4 573.8,270.0 574.3,271.5 574.8,273.1 575.3,274.5 575.9,275.9 576.4,277.2 577.0,278.4 577.6,279.7 578.2,280.9 578.8,282.0 579.4,283.0 580.1,283.9 580.7,284.6 581.3,285.1 581.9,285.4 582.5,285.4 583.0,285.3 583.6,285.1 584.1,284.7 584.8,284.2 585.4,283.7 586.2,283.1 587.0,282.4 588.0,281.6 588.9,280.7 590.0,279.8 591.0,278.7 592.1,277.6 593.1,276.4 594.1,275.2 595.1,273.9 596.2,272.5 597.2,270.9 598.3,269.4 599.3,267.8 600.3,266.2 601.2,264.8 602.0,263.4 602.7,262.1 603.3,260.8 603.9,259.6 604.4,258.4 604.8,257.2 605.2,256.2 605.6,255.3 606.0,254.5 606.3,253.8 606.6,253.2 606.8,252.7 607.0,252.3 607.2,252.0 607.4,251.8 607.6,251.8 607.9,252.0 608.2,252.3 608.6,252.8 608.9,253.5 609.3,254.3 609.7,255.2 610.1,256.2 610.5,257.3 610.9,258.5 611.3,259.8 611.8,261.3 612.3,263.0 612.7,264.7 613.2,266.4 613.7,268.2 614.3,269.8 614.8,271.3 615.4,272.7 616.0,274.2 616.7,275.6 617.4,276.9 618.0,278.2 618.7,279.3 619.2,280.3 619.7,281.1 620.1,281.7 620.3,282.2 620.5,282.5 620.6,282.7 620.8,282.8 621.0,282.9 621.3,282.8 621.7,282.7 622.2,282.5 622.9,282.2 623.5,281.8 624.3,281.4 625.1,280.8 625.9,280.3 626.7,279.7 627.6,279.2 628.5,278.7 629.5,278.1 630.5,277.5 631.5,276.9 632.6,276.2 633.6,275.5 634.6,274.9 635.5,274.2 636.3,273.6 637.1,272.9 637.9,272.4 638.6,271.7 639.3,271.1 640.0,270.3 640.7,269.4 641.4,268.3 642.1,266.9 642.8,265.2 643.5,263.3 644.1,261.4 644.8,259.5 645.4,257.8 645.9,256.4 646.4,255.5 646.8,255.0 647.0,254.7 647.2,254.6 647.3,254.8 647.5,255.2 647.7,255.9 647.9,256.8 648.3,257.9 648.8,259.4 649.3,261.5 650.0,263.8 650.6,266.4 651.3,268.9 652.0,271.4 652.7,273.5 653.3,275.2 653.9,276.5 654.6,277.5 655.2,278.4 655.9,279.0 656.5,279.5 657.1,280.0 657.7,280.3 658.2,280.7 658.7,281.0 659.1,281.2 659.4,281.3 659.8,281.4 660.1,281.3 660.4,281.3 660.7,281.2 661.1,281.1 661.5,281.0 661.9,280.7 662.3,280.5 662.8,280.2 663.2,279.9 663.6,279.6 663.9,279.4 664.1,279.2" fill="none" stroke="#3C8BCB" stroke-width="1.2" stroke-linejoin="round" stroke-linecap="round" />
<line x1="547.3" y1="252.6" x2="563.3" y2="252.6" stroke="#1B5B78" stroke-width="1.1"/>
<path d="M543.3,252.6 l5,-2.7 v5.4 z" fill="#1B5B78"/>
<path d="M567.3,252.6 l-5,-2.7 v5.4 z" fill="#1B5B78"/>
<line x1="571.9" y1="252.6" x2="577.8" y2="252.6" stroke="#1B5B78" stroke-width="1.1"/>
<path d="M567.9,252.6 l5,-2.7 v5.4 z" fill="#1B5B78"/>
<path d="M581.8,252.6 l-5,-2.7 v5.4 z" fill="#1B5B78"/>
<text x="552.2" y="248.8" font-size="11" font-style="italic" fill="#1B5B78" stroke="#1B5B78" stroke-width="0.35">t<tspan font-size="8.5" dy="2">r</tspan></text>
<text x="570.6" y="248.8" font-size="11" font-style="italic" fill="#1B5B78" stroke="#1B5B78" stroke-width="0.35">t<tspan font-size="8.5" dy="2">f</tspan></text>
<text x="545.5" y="297.3" font-size="11" fill="#1B5B78" stroke="#1B5B78" stroke-width="0.3"><tspan font-style="italic">t</tspan><tspan font-style="italic" font-size="8" dy="2">r</tspan><tspan dy="-2" font-style="italic">/t</tspan><tspan font-style="italic" font-size="8" dy="2">f</tspan><tspan dy="-2"> &gt; 1</tspan></text>
<rect x="669.5" y="266.6" width="2" height="12.399999999999977" fill="#000"/>
<text transform="translate(683.2,272.8) rotate(-90)" font-size="10.2" fill="#1a1a1a" text-anchor="middle">100 μV</text>
<rect x="649.9" y="285.6" width="12.800000000000068" height="2" fill="#000"/>
<text x="656.3" y="297.4" font-size="10.2" fill="#1a1a1a" text-anchor="middle" >0.1 s</text>
<rect x="557" y="153.35" width="26.20" height="11.75" fill="#F1C89C"/>
<line x1="560.6" y1="152.4" x2="579.6" y2="152.4" stroke="#F6DEC3" stroke-width="1"/>
<circle cx="562.6" cy="153.6" r="2.6" fill="#F6DEC3" fill-opacity="0.9"/>
<circle cx="570.1" cy="152.2" r="2.6" fill="#F6DEC3" fill-opacity="0.9"/>
<circle cx="577.6" cy="153.6" r="2.6" fill="#F6DEC3" fill-opacity="0.9"/>
<rect x="596.4" y="139.04" width="26.60" height="26.06" fill="#EAB174"/>
<line x1="600.2" y1="138.1" x2="619.2" y2="138.1" stroke="#F2D0AB" stroke-width="1"/>
<circle cx="602.2" cy="140.0" r="2.6" fill="#F2D0AB" fill-opacity="0.9"/>
<circle cx="609.7" cy="137.2" r="2.6" fill="#F2D0AB" fill-opacity="0.9"/>
<circle cx="617.2" cy="140.0" r="2.6" fill="#F2D0AB" fill-opacity="0.9"/>
<rect x="636.1" y="119.11" width="26.30" height="45.99" fill="#E09A47"/>
<line x1="639.8" y1="118.2" x2="658.8" y2="118.2" stroke="#ECC290" stroke-width="1"/>
<circle cx="641.8" cy="119.4" r="2.6" fill="#ECC290" fill-opacity="0.9"/>
<circle cx="649.2" cy="117.9" r="2.6" fill="#ECC290" fill-opacity="0.9"/>
<circle cx="656.8" cy="119.4" r="2.6" fill="#ECC290" fill-opacity="0.9"/>
<line x1="543.3" y1="160.5" x2="675.8" y2="160.5" stroke="#222" stroke-width="0.8" stroke-dasharray="1.4,1.4"/>
<rect x="543.3" y="114" width="132.50" height="51.10" fill="none" stroke="#222" stroke-width="1.1"/>
<line x1="543.3" y1="165.1" x2="545.5" y2="165.1" stroke="#222" stroke-width="0.8"/>
<text x="541.5" y="168.6" font-size="9.6" fill="#1a1a1a" text-anchor="end" >0</text>
<line x1="543.3" y1="139.6" x2="545.5" y2="139.6" stroke="#222" stroke-width="0.8"/>
<text x="541.5" y="143.1" font-size="9.6" fill="#1a1a1a" text-anchor="end" >5</text>
<line x1="543.3" y1="114.0" x2="545.5" y2="114.0" stroke="#222" stroke-width="0.8"/>
<text x="541.5" y="117.5" font-size="9.6" fill="#1a1a1a" text-anchor="end" >10</text>
<text x="570.1" y="177.1" font-size="9.3" fill="#1a1a1a" text-anchor="middle" >0.1 mL</text>
<text x="609.7" y="177.1" font-size="9.3" fill="#1a1a1a" text-anchor="middle" >0.2 mL</text>
<text x="649.2" y="177.1" font-size="9.3" fill="#1a1a1a" text-anchor="middle" >0.4 mL</text>
<text transform="translate(515.6,138.2) rotate(-90)" font-size="10.4" fill="#1a1a1a" text-anchor="middle">Relative</text>
<text transform="translate(527.2,138.2) rotate(-90)" font-size="10.4" fill="#1a1a1a" text-anchor="middle">power</text>
<rect x="556.6" y="342.74" width="26.60" height="12.46" fill="#A9D3EE"/>
<line x1="560.4" y1="341.8" x2="579.4" y2="341.8" stroke="#CBE4F4" stroke-width="1"/>
<circle cx="562.4" cy="343.0" r="2.6" fill="#CBE4F4" fill-opacity="0.9"/>
<circle cx="569.9" cy="341.6" r="2.6" fill="#CBE4F4" fill-opacity="0.9"/>
<circle cx="577.4" cy="343.0" r="2.6" fill="#CBE4F4" fill-opacity="0.9"/>
<rect x="596.2" y="332.88" width="27.00" height="22.32" fill="#6CB1E0"/>
<line x1="600.2" y1="332.0" x2="619.2" y2="332.0" stroke="#A6D0EC" stroke-width="1"/>
<circle cx="602.2" cy="333.2" r="2.6" fill="#A6D0EC" fill-opacity="0.9"/>
<circle cx="609.7" cy="331.8" r="2.6" fill="#A6D0EC" fill-opacity="0.9"/>
<circle cx="617.2" cy="333.2" r="2.6" fill="#A6D0EC" fill-opacity="0.9"/>
<rect x="635.9" y="311.60" width="26.90" height="43.60" fill="#3D8CCB"/>
<line x1="639.8" y1="310.7" x2="658.8" y2="310.7" stroke="#8ABADF" stroke-width="1"/>
<circle cx="641.8" cy="312.4" r="2.6" fill="#8ABADF" fill-opacity="0.9"/>
<circle cx="649.3" cy="309.0" r="2.6" fill="#8ABADF" fill-opacity="0.9"/>
<circle cx="656.8" cy="312.4" r="2.6" fill="#8ABADF" fill-opacity="0.9"/>
<line x1="543.3" y1="350.2" x2="675.8" y2="350.2" stroke="#222" stroke-width="0.8" stroke-dasharray="1.4,1.4"/>
<rect x="543.3" y="303.3" width="132.50" height="51.90" fill="none" stroke="#222" stroke-width="1.1"/>
<line x1="543.3" y1="355.2" x2="545.5" y2="355.2" stroke="#222" stroke-width="0.8"/>
<text x="541.5" y="358.7" font-size="9.6" fill="#1a1a1a" text-anchor="end" >0</text>
<line x1="543.3" y1="329.2" x2="545.5" y2="329.2" stroke="#222" stroke-width="0.8"/>
<text x="541.5" y="332.8" font-size="9.6" fill="#1a1a1a" text-anchor="end" >5</text>
<line x1="543.3" y1="303.3" x2="545.5" y2="303.3" stroke="#222" stroke-width="0.8"/>
<text x="541.5" y="306.8" font-size="9.6" fill="#1a1a1a" text-anchor="end" >10</text>
<text x="569.9" y="367.2" font-size="9.3" fill="#1a1a1a" text-anchor="middle" >0.1 mL</text>
<text x="609.7" y="367.2" font-size="9.3" fill="#1a1a1a" text-anchor="middle" >0.2 mL</text>
<text x="649.3" y="367.2" font-size="9.3" fill="#1a1a1a" text-anchor="middle" >0.4 mL</text>
<text transform="translate(515.6,328.1) rotate(-90)" font-size="10.4" fill="#1a1a1a" text-anchor="middle">Relative</text>
<text transform="translate(527.2,328.1) rotate(-90)" font-size="10.4" fill="#1a1a1a" text-anchor="middle">power</text>
<g>
<circle cx="566.7" cy="436.2" r="2.45" fill="#F0C898"/>
<circle cx="572.4" cy="444.3" r="2.45" fill="#F0C898"/>
<circle cx="556.1" cy="447.9" r="2.45" fill="#F0C898"/>
<circle cx="554.6" cy="444.7" r="2.45" fill="#F0C898"/>
<circle cx="562.8" cy="442.7" r="2.45" fill="#F0C898"/>
<circle cx="553.3" cy="450.1" r="2.45" fill="#F0C898"/>
<circle cx="561.5" cy="435.8" r="2.45" fill="#F0C898"/>
<circle cx="566.9" cy="443.4" r="2.45" fill="#F0C898"/>
<circle cx="562.5" cy="448.5" r="2.45" fill="#F0C898"/>
<circle cx="562.9" cy="437.1" r="2.45" fill="#F0C898"/>
<circle cx="567.2" cy="439.1" r="2.45" fill="#F0C898"/>
<circle cx="562.9" cy="436.7" r="2.45" fill="#F0C898"/>
<circle cx="558.1" cy="441.8" r="2.45" fill="#F0C898"/>
<circle cx="556.8" cy="450.3" r="2.45" fill="#F0C898"/>
<circle cx="573.0" cy="446.0" r="2.45" fill="#F0C898"/>
<circle cx="578.3" cy="442.0" r="2.45" fill="#F0C898"/>
<circle cx="566.1" cy="441.1" r="2.45" fill="#F0C898"/>
<circle cx="560.6" cy="448.6" r="2.45" fill="#F0C898"/>
<circle cx="568.2" cy="447.5" r="2.45" fill="#F0C898"/>
<circle cx="574.9" cy="440.6" r="2.45" fill="#F0C898"/>
<circle cx="577.2" cy="436.1" r="2.45" fill="#F0C898"/>
<circle cx="564.3" cy="449.7" r="2.45" fill="#F0C898"/>
<circle cx="575.2" cy="441.0" r="2.45" fill="#F0C898"/>
<circle cx="564.9" cy="446.0" r="2.45" fill="#F0C898"/>
<circle cx="559.7" cy="448.6" r="2.45" fill="#F0C898"/>
<circle cx="561.5" cy="442.8" r="2.45" fill="#F0C898"/>
<circle cx="556.8" cy="438.9" r="2.45" fill="#F0C898"/>
<circle cx="547.2" cy="450.8" r="2.45" fill="#F0C898"/>
<circle cx="577.9" cy="440.7" r="2.45" fill="#F0C898"/>
<circle cx="560.3" cy="443.2" r="2.45" fill="#F0C898"/>
<circle cx="574.8" cy="446.6" r="2.45" fill="#F0C898"/>
<circle cx="565.6" cy="440.2" r="2.45" fill="#F0C898"/>
<circle cx="557.9" cy="443.3" r="2.45" fill="#F0C898"/>
<circle cx="571.3" cy="436.0" r="2.45" fill="#F0C898"/>
<circle cx="559.9" cy="437.7" r="2.45" fill="#F0C898"/>
<circle cx="572.2" cy="443.4" r="2.45" fill="#F0C898"/>
<circle cx="552.7" cy="446.3" r="2.45" fill="#F0C898"/>
<circle cx="552.1" cy="446.6" r="2.45" fill="#F0C898"/>
<circle cx="577.3" cy="442.3" r="2.45" fill="#F0C898"/>
<circle cx="557.4" cy="448.0" r="2.45" fill="#F0C898"/>
<circle cx="577.4" cy="444.7" r="2.45" fill="#F0C898"/>
<circle cx="578.4" cy="443.4" r="2.45" fill="#F0C898"/>
<circle cx="563.3" cy="436.2" r="2.45" fill="#F0C898"/>
<circle cx="570.6" cy="442.2" r="2.45" fill="#F0C898"/>
<circle cx="560.2" cy="436.5" r="2.45" fill="#F0C898"/>
<circle cx="559.7" cy="435.7" r="2.45" fill="#F0C898"/>
<circle cx="568.4" cy="439.6" r="2.45" fill="#F0C898"/>
<circle cx="557.1" cy="445.6" r="2.45" fill="#F0C898"/>
<circle cx="566.0" cy="444.1" r="2.45" fill="#F0C898"/>
<circle cx="565.7" cy="440.7" r="2.45" fill="#F0C898"/>
<circle cx="561.5" cy="441.3" r="2.45" fill="#F0C898"/>
<circle cx="571.3" cy="437.7" r="2.45" fill="#F0C898"/>
<circle cx="635.7" cy="423.3" r="2.45" fill="#E8AE66"/>
<circle cx="639.7" cy="412.0" r="2.45" fill="#E8AE66"/>
<circle cx="620.8" cy="410.8" r="2.45" fill="#E8AE66"/>
<circle cx="620.2" cy="407.7" r="2.45" fill="#E8AE66"/>
<circle cx="637.9" cy="408.3" r="2.45" fill="#E8AE66"/>
<circle cx="632.4" cy="421.1" r="2.45" fill="#E8AE66"/>
<circle cx="624.9" cy="417.6" r="2.45" fill="#E8AE66"/>
<circle cx="618.7" cy="409.1" r="2.45" fill="#E8AE66"/>
<circle cx="637.5" cy="417.7" r="2.45" fill="#E8AE66"/>
<circle cx="619.2" cy="405.3" r="2.45" fill="#E8AE66"/>
<circle cx="639.9" cy="420.9" r="2.45" fill="#E8AE66"/>
<circle cx="631.4" cy="408.8" r="2.45" fill="#E8AE66"/>
<circle cx="632.4" cy="423.7" r="2.45" fill="#E8AE66"/>
<circle cx="633.8" cy="409.0" r="2.45" fill="#E8AE66"/>
<circle cx="624.6" cy="406.5" r="2.45" fill="#E8AE66"/>
<circle cx="633.5" cy="420.5" r="2.45" fill="#E8AE66"/>
<circle cx="631.1" cy="400.4" r="2.45" fill="#E8AE66"/>
<circle cx="626.1" cy="419.4" r="2.45" fill="#E8AE66"/>
<circle cx="628.2" cy="408.3" r="2.45" fill="#E8AE66"/>
<circle cx="619.3" cy="408.1" r="2.45" fill="#E8AE66"/>
<circle cx="638.4" cy="416.0" r="2.45" fill="#E8AE66"/>
<circle cx="625.8" cy="411.5" r="2.45" fill="#E8AE66"/>
<circle cx="624.7" cy="413.8" r="2.45" fill="#E8AE66"/>
<circle cx="617.9" cy="405.6" r="2.45" fill="#E8AE66"/>
<circle cx="631.5" cy="418.1" r="2.45" fill="#E8AE66"/>
<circle cx="617.8" cy="405.4" r="2.45" fill="#E8AE66"/>
<circle cx="640.5" cy="419.0" r="2.45" fill="#E8AE66"/>
<circle cx="624.1" cy="403.4" r="2.45" fill="#E8AE66"/>
<circle cx="632.7" cy="421.2" r="2.45" fill="#E8AE66"/>
<circle cx="627.6" cy="402.0" r="2.45" fill="#E8AE66"/>
<circle cx="625.9" cy="406.8" r="2.45" fill="#E8AE66"/>
<circle cx="618.3" cy="406.3" r="2.45" fill="#E8AE66"/>
<circle cx="637.0" cy="403.6" r="2.45" fill="#E8AE66"/>
<circle cx="634.2" cy="416.2" r="2.45" fill="#E8AE66"/>
<circle cx="636.4" cy="421.1" r="2.45" fill="#E8AE66"/>
<circle cx="622.9" cy="411.6" r="2.45" fill="#E8AE66"/>
<circle cx="636.2" cy="401.7" r="2.45" fill="#E8AE66"/>
<circle cx="637.6" cy="408.6" r="2.45" fill="#E8AE66"/>
<circle cx="637.0" cy="415.5" r="2.45" fill="#E8AE66"/>
<circle cx="633.2" cy="421.3" r="2.45" fill="#E8AE66"/>
<circle cx="636.5" cy="405.5" r="2.45" fill="#E8AE66"/>
<circle cx="635.4" cy="414.1" r="2.45" fill="#E8AE66"/>
<circle cx="626.0" cy="414.8" r="2.45" fill="#E8AE66"/>
<circle cx="616.6" cy="403.1" r="2.45" fill="#E8AE66"/>
<circle cx="627.9" cy="432.3" r="2.45" fill="#E8AE66"/>
<circle cx="628.9" cy="433.5" r="2.45" fill="#E8AE66"/>
<circle cx="631.4" cy="427.2" r="2.45" fill="#E8AE66"/>
<circle cx="633.6" cy="425.6" r="2.45" fill="#E8AE66"/>
<circle cx="626.5" cy="483.9" r="2.45" fill="#DF9637"/>
<circle cx="626.7" cy="474.4" r="2.45" fill="#DF9637"/>
<circle cx="622.9" cy="471.3" r="2.45" fill="#DF9637"/>
<circle cx="617.5" cy="473.3" r="2.45" fill="#DF9637"/>
<circle cx="635.0" cy="491.3" r="2.45" fill="#DF9637"/>
<circle cx="616.4" cy="466.8" r="2.45" fill="#DF9637"/>
<circle cx="617.0" cy="489.8" r="2.45" fill="#DF9637"/>
<circle cx="627.3" cy="482.2" r="2.45" fill="#DF9637"/>
<circle cx="631.2" cy="489.4" r="2.45" fill="#DF9637"/>
<circle cx="634.9" cy="488.7" r="2.45" fill="#DF9637"/>
<circle cx="631.6" cy="492.9" r="2.45" fill="#DF9637"/>
<circle cx="625.0" cy="493.9" r="2.45" fill="#DF9637"/>
<circle cx="621.4" cy="486.0" r="2.45" fill="#DF9637"/>
<circle cx="630.5" cy="481.9" r="2.45" fill="#DF9637"/>
<circle cx="619.9" cy="483.7" r="2.45" fill="#DF9637"/>
<circle cx="619.5" cy="491.3" r="2.45" fill="#DF9637"/>
<circle cx="615.1" cy="480.6" r="2.45" fill="#DF9637"/>
<circle cx="617.1" cy="489.8" r="2.45" fill="#DF9637"/>
<circle cx="618.5" cy="475.9" r="2.45" fill="#DF9637"/>
<circle cx="620.3" cy="479.9" r="2.45" fill="#DF9637"/>
<circle cx="620.7" cy="480.2" r="2.45" fill="#DF9637"/>
<circle cx="628.5" cy="479.6" r="2.45" fill="#DF9637"/>
<circle cx="623.2" cy="472.4" r="2.45" fill="#DF9637"/>
<circle cx="634.0" cy="489.7" r="2.45" fill="#DF9637"/>
<circle cx="619.5" cy="467.4" r="2.45" fill="#DF9637"/>
<circle cx="619.0" cy="480.5" r="2.45" fill="#DF9637"/>
<circle cx="625.5" cy="468.9" r="2.45" fill="#DF9637"/>
<circle cx="615.3" cy="485.9" r="2.45" fill="#DF9637"/>
<circle cx="627.8" cy="493.0" r="2.45" fill="#DF9637"/>
<circle cx="619.7" cy="481.7" r="2.45" fill="#DF9637"/>
<circle cx="621.1" cy="490.1" r="2.45" fill="#DF9637"/>
<circle cx="631.3" cy="490.1" r="2.45" fill="#DF9637"/>
<circle cx="621.8" cy="468.3" r="2.45" fill="#DF9637"/>
<circle cx="617.9" cy="480.3" r="2.45" fill="#DF9637"/>
<circle cx="630.2" cy="499.7" r="2.45" fill="#DF9637"/>
<circle cx="625.2" cy="499.8" r="2.45" fill="#DF9637"/>
<circle cx="632.4" cy="501.8" r="2.45" fill="#DF9637"/>
<circle cx="627.4" cy="501.2" r="2.45" fill="#DF9637"/>
<circle cx="634.6" cy="505.8" r="2.45" fill="#DF9637"/>
<circle cx="631.8" cy="507.5" r="2.45" fill="#DF9637"/>
<circle cx="629.8" cy="500.2" r="2.45" fill="#DF9637"/>
<circle cx="621.5" cy="500.7" r="2.45" fill="#DF9637"/>
<circle cx="628.4" cy="504.9" r="2.45" fill="#DF9637"/>
<circle cx="632.7" cy="503.4" r="2.45" fill="#DF9637"/>
<circle cx="632.8" cy="509.1" r="2.45" fill="#DF9637"/>
<circle cx="630.0" cy="502.9" r="2.45" fill="#DF9637"/>
<circle cx="636.3" cy="509.7" r="2.45" fill="#DF9637"/>
<circle cx="628.1" cy="502.0" r="2.45" fill="#DF9637"/>
<circle cx="629.8" cy="509.2" r="2.45" fill="#DF9637"/>
<circle cx="630.5" cy="507.3" r="2.45" fill="#DF9637"/>
<circle cx="627.5" cy="449.7" r="2.45" fill="#62A9D7"/>
<circle cx="627.5" cy="451.3" r="2.45" fill="#62A9D7"/>
<circle cx="637.8" cy="450.3" r="2.45" fill="#62A9D7"/>
<circle cx="634.2" cy="450.0" r="2.45" fill="#62A9D7"/>
<circle cx="632.5" cy="450.7" r="2.45" fill="#62A9D7"/>
<circle cx="639.1" cy="450.5" r="2.45" fill="#62A9D7"/>
<circle cx="635.8" cy="451.5" r="2.45" fill="#62A9D7"/>
<circle cx="634.2" cy="451.6" r="2.45" fill="#62A9D7"/>
<circle cx="637.7" cy="451.6" r="2.45" fill="#62A9D7"/>
<circle cx="632.5" cy="450.2" r="2.45" fill="#62A9D7"/>
<circle cx="630.8" cy="468.9" r="2.45" fill="#62A9D7"/>
<circle cx="634.1" cy="467.8" r="2.45" fill="#62A9D7"/>
<circle cx="634.3" cy="457.4" r="2.45" fill="#62A9D7"/>
<circle cx="630.3" cy="459.3" r="2.45" fill="#62A9D7"/>
<circle cx="626.1" cy="467.6" r="2.45" fill="#62A9D7"/>
<circle cx="634.4" cy="462.7" r="2.45" fill="#62A9D7"/>
<circle cx="631.4" cy="460.5" r="2.45" fill="#62A9D7"/>
<circle cx="632.6" cy="462.6" r="2.45" fill="#62A9D7"/>
<circle cx="630.0" cy="472.8" r="2.45" fill="#62A9D7"/>
<circle cx="628.7" cy="470.0" r="2.45" fill="#62A9D7"/>
<circle cx="630.1" cy="452.0" r="2.45" fill="#62A9D7"/>
<circle cx="629.3" cy="466.1" r="2.45" fill="#62A9D7"/>
<circle cx="629.5" cy="462.7" r="2.45" fill="#62A9D7"/>
<circle cx="635.3" cy="454.8" r="2.45" fill="#62A9D7"/>
<circle cx="629.5" cy="470.7" r="2.45" fill="#62A9D7"/>
<circle cx="634.7" cy="464.9" r="2.45" fill="#62A9D7"/>
<circle cx="632.7" cy="475.6" r="2.45" fill="#62A9D7"/>
<circle cx="634.5" cy="469.5" r="2.45" fill="#62A9D7"/>
<circle cx="630.7" cy="472.5" r="2.45" fill="#62A9D7"/>
<circle cx="630.0" cy="456.3" r="2.45" fill="#62A9D7"/>
<circle cx="634.1" cy="465.4" r="2.45" fill="#62A9D7"/>
<circle cx="633.5" cy="465.8" r="2.45" fill="#62A9D7"/>
<circle cx="629.5" cy="463.6" r="2.45" fill="#62A9D7"/>
<circle cx="627.8" cy="469.4" r="2.45" fill="#62A9D7"/>
<circle cx="632.9" cy="457.8" r="2.45" fill="#62A9D7"/>
<circle cx="626.3" cy="458.8" r="2.45" fill="#62A9D7"/>
<circle cx="616.9" cy="442.5" r="2.45" fill="#62A9D7"/>
<circle cx="619.4" cy="443.7" r="2.45" fill="#62A9D7"/>
<circle cx="621.6" cy="444.9" r="2.45" fill="#62A9D7"/>
<circle cx="611.2" cy="457.3" r="2.45" fill="#62A9D7"/>
<circle cx="611.5" cy="460.2" r="2.45" fill="#62A9D7"/>
<circle cx="611.2" cy="462.6" r="2.45" fill="#62A9D7"/>
<circle cx="639.3" cy="459.0" r="2.45" fill="#62A9D7"/>
<circle cx="639.6" cy="463.0" r="2.45" fill="#62A9D7"/>
<circle cx="639.3" cy="467.7" r="2.45" fill="#62A9D7"/>
<circle cx="612.8" cy="470.8" r="2.45" fill="#62A9D7"/>
<circle cx="616.3" cy="472.8" r="2.45" fill="#62A9D7"/>
<circle cx="619.4" cy="474.4" r="2.45" fill="#62A9D7"/>
<circle cx="622.3" cy="475.2" r="2.45" fill="#62A9D7"/>
<circle cx="640.9" cy="450.8" r="2.45" fill="#62A9D7"/>
<circle cx="642.5" cy="449.6" r="2.45" fill="#62A9D7"/>
<circle cx="651.7" cy="489.2" r="2.45" fill="#2E7FC1"/>
<circle cx="636.2" cy="482.2" r="2.45" fill="#2E7FC1"/>
<circle cx="639.9" cy="483.3" r="2.45" fill="#2E7FC1"/>
<circle cx="642.6" cy="483.5" r="2.45" fill="#2E7FC1"/>
<circle cx="640.2" cy="488.2" r="2.45" fill="#2E7FC1"/>
<circle cx="645.7" cy="483.7" r="2.45" fill="#2E7FC1"/>
<circle cx="639.1" cy="473.9" r="2.45" fill="#2E7FC1"/>
<circle cx="640.8" cy="493.3" r="2.45" fill="#2E7FC1"/>
<circle cx="640.2" cy="500.3" r="2.45" fill="#2E7FC1"/>
<circle cx="643.6" cy="479.5" r="2.45" fill="#2E7FC1"/>
<circle cx="649.5" cy="496.5" r="2.45" fill="#2E7FC1"/>
<circle cx="637.7" cy="492.8" r="2.45" fill="#2E7FC1"/>
<circle cx="650.7" cy="487.9" r="2.45" fill="#2E7FC1"/>
<circle cx="653.8" cy="482.9" r="2.45" fill="#2E7FC1"/>
<circle cx="647.6" cy="479.7" r="2.45" fill="#2E7FC1"/>
<circle cx="650.3" cy="492.2" r="2.45" fill="#2E7FC1"/>
<circle cx="640.2" cy="489.4" r="2.45" fill="#2E7FC1"/>
<circle cx="644.9" cy="498.1" r="2.45" fill="#2E7FC1"/>
<circle cx="643.9" cy="483.4" r="2.45" fill="#2E7FC1"/>
<circle cx="638.5" cy="493.9" r="2.45" fill="#2E7FC1"/>
<circle cx="638.7" cy="497.4" r="2.45" fill="#2E7FC1"/>
<circle cx="644.3" cy="497.5" r="2.45" fill="#2E7FC1"/>
<circle cx="640.4" cy="478.9" r="2.45" fill="#2E7FC1"/>
<circle cx="638.7" cy="484.1" r="2.45" fill="#2E7FC1"/>
<circle cx="643.2" cy="490.0" r="2.45" fill="#2E7FC1"/>
<circle cx="651.7" cy="497.6" r="2.45" fill="#2E7FC1"/>
<circle cx="648.5" cy="484.6" r="2.45" fill="#2E7FC1"/>
<circle cx="650.7" cy="496.0" r="2.45" fill="#2E7FC1"/>
<circle cx="637.2" cy="493.0" r="2.45" fill="#2E7FC1"/>
<circle cx="635.6" cy="477.8" r="2.45" fill="#2E7FC1"/>
<circle cx="647.4" cy="482.7" r="2.45" fill="#2E7FC1"/>
<circle cx="648.8" cy="485.5" r="2.45" fill="#2E7FC1"/>
<circle cx="654.4" cy="484.4" r="2.45" fill="#2E7FC1"/>
<circle cx="641.8" cy="487.2" r="2.45" fill="#2E7FC1"/>
<circle cx="635.3" cy="480.9" r="2.45" fill="#2E7FC1"/>
<circle cx="649.1" cy="489.9" r="2.45" fill="#2E7FC1"/>
<circle cx="652.4" cy="480.0" r="2.45" fill="#2E7FC1"/>
<circle cx="641.8" cy="500.0" r="2.45" fill="#2E7FC1"/>
<circle cx="637.6" cy="496.9" r="2.45" fill="#2E7FC1"/>
<circle cx="641.1" cy="489.1" r="2.45" fill="#2E7FC1"/>
<circle cx="635.9" cy="517.7" r="2.45" fill="#2E7FC1"/>
<circle cx="635.6" cy="511.5" r="2.45" fill="#2E7FC1"/>
<circle cx="635.0" cy="515.8" r="2.45" fill="#2E7FC1"/>
<circle cx="624.8" cy="509.9" r="2.45" fill="#2E7FC1"/>
<circle cx="627.7" cy="519.8" r="2.45" fill="#2E7FC1"/>
<circle cx="634.4" cy="511.4" r="2.45" fill="#2E7FC1"/>
<circle cx="627.3" cy="517.9" r="2.45" fill="#2E7FC1"/>
<circle cx="636.1" cy="517.9" r="2.45" fill="#2E7FC1"/>
<circle cx="633.2" cy="520.0" r="2.45" fill="#2E7FC1"/>
<circle cx="631.0" cy="521.4" r="2.45" fill="#2E7FC1"/>
<circle cx="631.4" cy="509.0" r="2.45" fill="#2E7FC1"/>
<circle cx="625.8" cy="517.8" r="2.45" fill="#2E7FC1"/>
<circle cx="634.0" cy="512.6" r="2.45" fill="#2E7FC1"/>
<circle cx="654.0" cy="417.5" r="2.45" fill="#EE979C"/>
<circle cx="663.0" cy="415.1" r="2.45" fill="#EE979C"/>
<circle cx="655.8" cy="415.4" r="2.45" fill="#EE979C"/>
<circle cx="651.4" cy="425.2" r="2.45" fill="#EE979C"/>
<circle cx="665.8" cy="411.1" r="2.45" fill="#EE979C"/>
<circle cx="652.9" cy="418.7" r="2.45" fill="#EE979C"/>
<circle cx="658.5" cy="413.7" r="2.45" fill="#EE979C"/>
<circle cx="669.3" cy="412.3" r="2.45" fill="#EE979C"/>
<circle cx="647.3" cy="425.4" r="2.45" fill="#EE979C"/>
<circle cx="661.2" cy="414.8" r="2.45" fill="#EE979C"/>
<circle cx="661.7" cy="413.7" r="2.45" fill="#EE979C"/>
<circle cx="661.5" cy="420.5" r="2.45" fill="#EE979C"/>
<circle cx="660.4" cy="415.2" r="2.45" fill="#EE979C"/>
<circle cx="655.7" cy="419.4" r="2.45" fill="#EE979C"/>
<circle cx="664.4" cy="419.0" r="2.45" fill="#EE979C"/>
<circle cx="668.9" cy="411.4" r="2.45" fill="#EE979C"/>
<circle cx="646.5" cy="423.9" r="2.45" fill="#EE979C"/>
<circle cx="650.7" cy="420.9" r="2.45" fill="#EE979C"/>
<circle cx="650.1" cy="420.6" r="2.45" fill="#EE979C"/>
<circle cx="659.9" cy="415.0" r="2.45" fill="#EE979C"/>
<circle cx="658.0" cy="416.8" r="2.45" fill="#EE979C"/>
<circle cx="649.2" cy="424.9" r="2.45" fill="#EE979C"/>
<circle cx="646.8" cy="426.4" r="2.45" fill="#EE979C"/>
<circle cx="648.9" cy="421.0" r="2.45" fill="#EE979C"/>
<circle cx="655.2" cy="418.4" r="2.45" fill="#EE979C"/>
<circle cx="652.4" cy="422.3" r="2.45" fill="#EE979C"/>
<circle cx="670.0" cy="411.2" r="2.45" fill="#EE979C"/>
<circle cx="657.5" cy="418.1" r="2.45" fill="#EE979C"/>
<circle cx="647.9" cy="423.9" r="2.45" fill="#EE979C"/>
<circle cx="670.8" cy="417.9" r="2.45" fill="#EE979C"/>
<circle cx="658.1" cy="418.9" r="2.45" fill="#EE979C"/>
<circle cx="665.8" cy="416.4" r="2.45" fill="#EE979C"/>
<circle cx="667.1" cy="411.8" r="2.45" fill="#EE979C"/>
<circle cx="658.4" cy="421.4" r="2.45" fill="#EE979C"/>
<circle cx="656.0" cy="421.7" r="2.45" fill="#EE979C"/>
<circle cx="666.3" cy="418.9" r="2.45" fill="#EE979C"/>
<circle cx="664.0" cy="413.7" r="2.45" fill="#EE979C"/>
<circle cx="651.7" cy="426.0" r="2.45" fill="#EE979C"/>
<circle cx="653.0" cy="424.5" r="2.45" fill="#EE979C"/>
<circle cx="654.3" cy="417.3" r="2.45" fill="#EE979C"/>
<circle cx="638.4" cy="439.9" r="2.45" fill="#EE979C"/>
<circle cx="641.9" cy="435.8" r="2.45" fill="#EE979C"/>
<circle cx="639.2" cy="436.5" r="2.45" fill="#EE979C"/>
<circle cx="637.3" cy="438.0" r="2.45" fill="#EE979C"/>
<circle cx="641.1" cy="438.9" r="2.45" fill="#EE979C"/>
<circle cx="639.5" cy="436.7" r="2.45" fill="#EE979C"/>
<circle cx="664.7" cy="451.1" r="2.45" fill="#9DCBE5"/>
<circle cx="662.9" cy="436.2" r="2.45" fill="#9DCBE5"/>
<circle cx="667.7" cy="445.0" r="2.45" fill="#9DCBE5"/>
<circle cx="660.6" cy="449.4" r="2.45" fill="#9DCBE5"/>
<circle cx="655.6" cy="424.1" r="2.45" fill="#9DCBE5"/>
<circle cx="672.9" cy="435.0" r="2.45" fill="#9DCBE5"/>
<circle cx="653.2" cy="426.1" r="2.45" fill="#9DCBE5"/>
<circle cx="658.0" cy="445.1" r="2.45" fill="#9DCBE5"/>
<circle cx="651.4" cy="429.7" r="2.45" fill="#9DCBE5"/>
<circle cx="667.0" cy="438.0" r="2.45" fill="#9DCBE5"/>
<circle cx="656.0" cy="436.8" r="2.45" fill="#9DCBE5"/>
<circle cx="666.1" cy="438.9" r="2.45" fill="#9DCBE5"/>
<circle cx="667.5" cy="429.1" r="2.45" fill="#9DCBE5"/>
<circle cx="670.0" cy="441.1" r="2.45" fill="#9DCBE5"/>
<circle cx="655.6" cy="427.3" r="2.45" fill="#9DCBE5"/>
<circle cx="659.8" cy="445.9" r="2.45" fill="#9DCBE5"/>
<circle cx="660.8" cy="449.6" r="2.45" fill="#9DCBE5"/>
<circle cx="668.0" cy="439.5" r="2.45" fill="#9DCBE5"/>
<circle cx="657.5" cy="446.9" r="2.45" fill="#9DCBE5"/>
<circle cx="674.0" cy="439.4" r="2.45" fill="#9DCBE5"/>
<circle cx="662.5" cy="441.7" r="2.45" fill="#9DCBE5"/>
<circle cx="659.9" cy="428.4" r="2.45" fill="#9DCBE5"/>
<circle cx="665.6" cy="431.9" r="2.45" fill="#9DCBE5"/>
<circle cx="664.4" cy="449.3" r="2.45" fill="#9DCBE5"/>
<circle cx="661.6" cy="423.7" r="2.45" fill="#9DCBE5"/>
<circle cx="663.4" cy="454.4" r="2.45" fill="#9DCBE5"/>
<circle cx="660.5" cy="434.2" r="2.45" fill="#9DCBE5"/>
<circle cx="659.2" cy="439.4" r="2.45" fill="#9DCBE5"/>
<circle cx="656.9" cy="434.3" r="2.45" fill="#9DCBE5"/>
<circle cx="653.7" cy="426.0" r="2.45" fill="#9DCBE5"/>
<circle cx="674.6" cy="439.8" r="2.45" fill="#9DCBE5"/>
<circle cx="661.4" cy="427.5" r="2.45" fill="#9DCBE5"/>
<circle cx="656.8" cy="429.4" r="2.45" fill="#9DCBE5"/>
<circle cx="656.7" cy="432.2" r="2.45" fill="#9DCBE5"/>
<circle cx="658.0" cy="436.1" r="2.45" fill="#9DCBE5"/>
<circle cx="670.5" cy="438.2" r="2.45" fill="#9DCBE5"/>
<circle cx="659.1" cy="444.6" r="2.45" fill="#9DCBE5"/>
<circle cx="665.6" cy="438.8" r="2.45" fill="#9DCBE5"/>
<circle cx="654.4" cy="438.9" r="2.45" fill="#9DCBE5"/>
<circle cx="652.5" cy="429.5" r="2.45" fill="#9DCBE5"/>
<circle cx="664.6" cy="442.2" r="2.45" fill="#9DCBE5"/>
<circle cx="660.5" cy="449.4" r="2.45" fill="#9DCBE5"/>
<circle cx="666.7" cy="446.6" r="2.45" fill="#9DCBE5"/>
<circle cx="659.7" cy="440.8" r="2.45" fill="#9DCBE5"/>
<circle cx="668.2" cy="445.9" r="2.45" fill="#9DCBE5"/>
<circle cx="672.8" cy="443.1" r="2.45" fill="#9DCBE5"/>
<circle cx="662.5" cy="426.9" r="2.45" fill="#9DCBE5"/>
<circle cx="664.8" cy="445.6" r="2.45" fill="#9DCBE5"/>
<circle cx="652.0" cy="429.2" r="2.45" fill="#9DCBE5"/>
<circle cx="670.4" cy="437.5" r="2.45" fill="#9DCBE5"/>
<circle cx="652.7" cy="438.2" r="2.45" fill="#9DCBE5"/>
<circle cx="665.8" cy="442.0" r="2.45" fill="#9DCBE5"/>
<circle cx="661.1" cy="453.9" r="2.45" fill="#9DCBE5"/>
<circle cx="661.7" cy="456.3" r="2.45" fill="#9DCBE5"/>
</g>
<rect x="534.2" y="394.9" width="145.20" height="137.70" fill="none" stroke="#222" stroke-width="1"/>
<line x1="534.2" y1="394.9" x2="534.2" y2="396.9" stroke="#222" stroke-width="0.8"/>
<line x1="534.2" y1="532.6" x2="534.2" y2="530.6" stroke="#222" stroke-width="0.8"/>
<text x="534.2" y="543.6" font-size="9.6" fill="#1a1a1a" text-anchor="middle" >-40</text>
<line x1="565.8" y1="394.9" x2="565.8" y2="396.9" stroke="#222" stroke-width="0.8"/>
<line x1="565.8" y1="532.6" x2="565.8" y2="530.6" stroke="#222" stroke-width="0.8"/>
<text x="565.8" y="543.6" font-size="9.6" fill="#1a1a1a" text-anchor="middle" >-30</text>
<line x1="597.3" y1="394.9" x2="597.3" y2="396.9" stroke="#222" stroke-width="0.8"/>
<line x1="597.3" y1="532.6" x2="597.3" y2="530.6" stroke="#222" stroke-width="0.8"/>
<text x="597.3" y="543.6" font-size="9.6" fill="#1a1a1a" text-anchor="middle" >-20</text>
<line x1="628.9" y1="394.9" x2="628.9" y2="396.9" stroke="#222" stroke-width="0.8"/>
<line x1="628.9" y1="532.6" x2="628.9" y2="530.6" stroke="#222" stroke-width="0.8"/>
<text x="628.9" y="543.6" font-size="9.6" fill="#1a1a1a" text-anchor="middle" >-10</text>
<line x1="660.5" y1="394.9" x2="660.5" y2="396.9" stroke="#222" stroke-width="0.8"/>
<line x1="660.5" y1="532.6" x2="660.5" y2="530.6" stroke="#222" stroke-width="0.8"/>
<text x="660.5" y="543.6" font-size="9.6" fill="#1a1a1a" text-anchor="middle" >0</text>
<line x1="534.2" y1="532.6" x2="536.2" y2="532.6" stroke="#222" stroke-width="0.8"/>
<line x1="679.4" y1="532.6" x2="677.4" y2="532.6" stroke="#222" stroke-width="0.8"/>
<text x="531.6" y="536.1" font-size="9.6" fill="#1a1a1a" text-anchor="end" >-20</text>
<line x1="534.2" y1="512.9" x2="536.2" y2="512.9" stroke="#222" stroke-width="0.8"/>
<line x1="679.4" y1="512.9" x2="677.4" y2="512.9" stroke="#222" stroke-width="0.8"/>
<text x="531.6" y="516.4" font-size="9.6" fill="#1a1a1a" text-anchor="end" >-15</text>
<line x1="534.2" y1="493.3" x2="536.2" y2="493.3" stroke="#222" stroke-width="0.8"/>
<line x1="679.4" y1="493.3" x2="677.4" y2="493.3" stroke="#222" stroke-width="0.8"/>
<text x="531.6" y="496.8" font-size="9.6" fill="#1a1a1a" text-anchor="end" >-10</text>
<line x1="534.2" y1="473.6" x2="536.2" y2="473.6" stroke="#222" stroke-width="0.8"/>
<line x1="679.4" y1="473.6" x2="677.4" y2="473.6" stroke="#222" stroke-width="0.8"/>
<text x="531.6" y="477.1" font-size="9.6" fill="#1a1a1a" text-anchor="end" >-5</text>
<line x1="534.2" y1="453.9" x2="536.2" y2="453.9" stroke="#222" stroke-width="0.8"/>
<line x1="679.4" y1="453.9" x2="677.4" y2="453.9" stroke="#222" stroke-width="0.8"/>
<text x="531.6" y="457.4" font-size="9.6" fill="#1a1a1a" text-anchor="end" >0</text>
<line x1="534.2" y1="434.2" x2="536.2" y2="434.2" stroke="#222" stroke-width="0.8"/>
<line x1="679.4" y1="434.2" x2="677.4" y2="434.2" stroke="#222" stroke-width="0.8"/>
<text x="531.6" y="437.7" font-size="9.6" fill="#1a1a1a" text-anchor="end" >5</text>
<line x1="534.2" y1="414.6" x2="536.2" y2="414.6" stroke="#222" stroke-width="0.8"/>
<line x1="679.4" y1="414.6" x2="677.4" y2="414.6" stroke="#222" stroke-width="0.8"/>
<text x="531.6" y="418.1" font-size="9.6" fill="#1a1a1a" text-anchor="end" >10</text>
<line x1="534.2" y1="394.9" x2="536.2" y2="394.9" stroke="#222" stroke-width="0.8"/>
<line x1="679.4" y1="394.9" x2="677.4" y2="394.9" stroke="#222" stroke-width="0.8"/>
<text x="531.6" y="398.4" font-size="9.6" fill="#1a1a1a" text-anchor="end" >15</text>
<text x="606.6" y="555.2" font-size="10.3" fill="#1a1a1a" text-anchor="middle" >t-SNE Feature 1</text>
<text transform="translate(516.4,463.5) rotate(-90)" font-size="10.6" fill="#1a1a1a" text-anchor="middle">t-SNE Feature 2</text>
<rect x="536.5" y="460.3" width="71.5" height="70.3" fill="#fff" stroke="#222" stroke-width="0.9"/>
<circle cx="543.7" cy="466.0" r="2.4" fill="#F0C898"/>
<text x="551.0" y="469.0" font-size="8.4" fill="#1a1a1a" text-anchor="start" >0.1 mL NE</text>
<circle cx="543.7" cy="475.8" r="2.4" fill="#E8AE66"/>
<text x="551.0" y="478.8" font-size="8.4" fill="#1a1a1a" text-anchor="start" >0.2 mL NE</text>
<circle cx="543.7" cy="485.6" r="2.4" fill="#DF9637"/>
<text x="551.0" y="488.6" font-size="8.4" fill="#1a1a1a" text-anchor="start" >0.4 mL NE</text>
<circle cx="543.7" cy="495.4" r="2.4" fill="#9DCBE5"/>
<text x="551.0" y="498.4" font-size="8.4" fill="#1a1a1a" text-anchor="start" >0.1 mL ACh</text>
<circle cx="543.7" cy="505.2" r="2.4" fill="#62A9D7"/>
<text x="551.0" y="508.2" font-size="8.4" fill="#1a1a1a" text-anchor="start" >0.2 mL ACh</text>
<circle cx="543.7" cy="515.0" r="2.4" fill="#2E7FC1"/>
<text x="551.0" y="518.0" font-size="8.4" fill="#1a1a1a" text-anchor="start" >0.4 mL ACh</text>
<circle cx="543.7" cy="524.8" r="2.4" fill="#EE979C"/>
<text x="551.0" y="527.8" font-size="8.4" fill="#1a1a1a" text-anchor="start" >dessympathize</text>
<path d="M3,159.0 C20,156.0 35,148.5 51,149.0 C68,149.5 82,165.0 99,164.6 C108,164.4 115,161.5 121,159.2" fill="none" stroke="#E2705F" stroke-width="10"/>
<path d="M3,159.0 C20,156.0 35,148.5 51,149.0 C68,149.5 82,165.0 99,164.6 C108,164.4 115,161.5 121,159.2" fill="none" stroke="#F9C3BC" stroke-width="6.2"/>
<g transform="translate(16.5,24.8) rotate(-28)">
<path d="M-3.6,68 L0.2,68 L-0.2,98.5 L-0.9,98.5 Z" fill="#BFC0CC"/>
<path d="M-0.9,98.5 L-0.2,98.5 L-1.6,113 L-2.0,113 Z" fill="#F6C73A"/>
<path d="M4.8,55.5 L6.8,60.5 L6.6,68.8 L0,75" fill="none" stroke="#9B9BC8" stroke-width="1.3"/>
<rect x="-5.6" y="61.5" width="7.2" height="7" fill="#4A7EC0"/>
<path d="M-5.8,54.6 L7.1,55.3 L5.5,62 L-5.8,61.8 Z" fill="#A3A3D5"/>
<path d="M-5.8,56.8 L6.5,57.4 M-5.8,59.2 L6,59.7" stroke="#8F8FC4" stroke-width="0.6"/>
<path d="M-5.6,12.2 L6.9,12.9 L7.2,55.3 L-5.4,54.6 Z" fill="#4A7EC0"/>
<rect x="-1.9" y="24.8" width="3.6" height="21.5" rx="1.8" fill="#F6D46A"/>
<path d="M-3.5,9.8 L6.5,10.3 L6.8,13 L-3.5,12.6 Z" fill="#A3A3D5"/>
<path d="M8.3,10.8 C2,10 -6,9.6 -9.5,10.5 C-12.5,11.4 -13.7,12.6 -14,14.2" fill="none" stroke="#A3A3D5" stroke-width="1.8" stroke-linecap="round"/>
<rect x="-1.2" y="1.5" width="2.4" height="9" fill="#9EA3D3"/>
<rect x="-4.6" y="-1.5" width="9.2" height="3.1" rx="1.5" fill="#4A7EC0"/>
</g>
<path d="M69.5,130.5 C70.5,132.5 72.2,133.5 72.2,135.2 A2.75,2.75 0 0 1 66.8,135.2 C66.8,133.5 68.5,132.5 69.5,130.5 Z" fill="#F8C81F"/>
<path d="M74.7,138.5 C75.7,140.5 77.5,141.5 77.5,143.2 A2.75,2.75 0 0 1 72.0,143.2 C72.0,141.5 73.7,140.5 74.7,138.5 Z" fill="#F8C81F"/>
<path d="M64.6,140.2 C65.6,142.2 67.3,143.2 67.3,144.9 A2.75,2.75 0 0 1 61.8,144.9 C61.8,143.2 63.6,142.2 64.6,140.2 Z" fill="#F8C81F"/>
<path d="M81.3,148.0 C82.3,150.0 84.0,151.0 84.0,152.7 A2.75,2.75 0 0 1 78.5,152.7 C78.5,151.0 80.3,150.0 81.3,148.0 Z" fill="#F8C81F"/>
<line x1="77.4" y1="61.6" x2="62.8" y2="114.7" stroke="#111" stroke-width="1.4"/>
<line x1="101.2" y1="128.5" x2="101.2" y2="160.5" stroke="#111" stroke-width="1.4"/>
<path d="M86.8,64.6 C93,69.0 99.5,76.0 101.3,88.8" fill="none" stroke="#F9D66E" stroke-width="2.7" stroke-linecap="round"/>
<path d="M96.9,88.2 L106,88.2 L102.3,95.9 Z" fill="#F9D66E"/>
<text x="46.6" y="54.6" font-size="12.8" fill="#1a1a1a" text-anchor="start" >Norepinephrine (NE)</text>
<text x="102.4" y="109.7" font-size="12.8" fill="#1a1a1a" text-anchor="middle" >Artery</text>
<text x="102.3" y="124.3" font-size="12.8" fill="#1a1a1a" text-anchor="middle" >constriction</text>
<path d="M3,346.7 C20,343.7 35,336.2 51,336.7 C68,337.2 82,352.7 99,352.3 C108,352.1 115,349.2 121,346.9" fill="none" stroke="#E2705F" stroke-width="10"/>
<path d="M3,346.7 C20,343.7 35,336.2 51,336.7 C68,337.2 82,352.7 99,352.3 C108,352.1 115,349.2 121,346.9" fill="none" stroke="#F9C3BC" stroke-width="6.2"/>
<g transform="translate(16.5,212.5) rotate(-28)">
<path d="M-3.6,68 L0.2,68 L-0.2,98.5 L-0.9,98.5 Z" fill="#BFC0CC"/>
<path d="M-0.9,98.5 L-0.2,98.5 L-1.6,113 L-2.0,113 Z" fill="#BFE0F5"/>
<path d="M4.8,55.5 L6.8,60.5 L6.6,68.8 L0,75" fill="none" stroke="#9B9BC8" stroke-width="1.3"/>
<rect x="-5.6" y="61.5" width="7.2" height="7" fill="#4A7EC0"/>
<path d="M-5.8,54.6 L7.1,55.3 L5.5,62 L-5.8,61.8 Z" fill="#A3A3D5"/>
<path d="M-5.8,56.8 L6.5,57.4 M-5.8,59.2 L6,59.7" stroke="#8F8FC4" stroke-width="0.6"/>
<path d="M-5.6,12.2 L6.9,12.9 L7.2,55.3 L-5.4,54.6 Z" fill="#4A7EC0"/>
<rect x="-1.9" y="24.8" width="3.6" height="21.5" rx="1.8" fill="#B5DDF4"/>
<path d="M-3.5,9.8 L6.5,10.3 L6.8,13 L-3.5,12.6 Z" fill="#A3A3D5"/>
<path d="M8.3,10.8 C2,10 -6,9.6 -9.5,10.5 C-12.5,11.4 -13.7,12.6 -14,14.2" fill="none" stroke="#A3A3D5" stroke-width="1.8" stroke-linecap="round"/>
<rect x="-1.2" y="1.5" width="2.4" height="9" fill="#9EA3D3"/>
<rect x="-4.6" y="-1.5" width="9.2" height="3.1" rx="1.5" fill="#4A7EC0"/>
</g>
<path d="M69.5,318.2 C70.5,320.2 72.2,321.2 72.2,322.9 A2.75,2.75 0 0 1 66.8,322.9 C66.8,321.2 68.5,320.2 69.5,318.2 Z" fill="#A8D3EE"/>
<path d="M74.7,326.2 C75.7,328.2 77.5,329.2 77.5,330.9 A2.75,2.75 0 0 1 72.0,330.9 C72.0,329.2 73.7,328.2 74.7,326.2 Z" fill="#A8D3EE"/>
<path d="M64.6,327.9 C65.6,329.9 67.3,330.9 67.3,332.6 A2.75,2.75 0 0 1 61.8,332.6 C61.8,330.9 63.6,329.9 64.6,327.9 Z" fill="#A8D3EE"/>
<path d="M81.3,335.7 C82.3,337.7 84.0,338.7 84.0,340.4 A2.75,2.75 0 0 1 78.5,340.4 C78.5,338.7 80.3,337.7 81.3,335.7 Z" fill="#A8D3EE"/>
<line x1="77.4" y1="249.3" x2="62.8" y2="302.4" stroke="#111" stroke-width="1.4"/>
<line x1="101.2" y1="316.2" x2="101.2" y2="348.2" stroke="#111" stroke-width="1.4"/>
<path d="M86.8,252.3 C93,256.7 99.5,263.7 101.3,276.5" fill="none" stroke="#B5DAF2" stroke-width="2.7" stroke-linecap="round"/>
<path d="M96.9,275.9 L106,275.9 L102.3,283.6 Z" fill="#B5DAF2"/>
<text x="46.6" y="242.3" font-size="12.8" fill="#1a1a1a" text-anchor="start" >Acetylcholine (ACh)</text>
<text x="102.4" y="297.4" font-size="12.8" fill="#1a1a1a" text-anchor="middle" >Artery</text>
<text x="102.0" y="312.0" font-size="12.8" fill="#1a1a1a" text-anchor="middle" >dilatation</text>
<defs><clipPath id="ci"><rect x="25" y="385" width="106" height="158.8"/></clipPath></defs>
<g clip-path="url(#ci)">
<path d="M30,385 L96,385 L96,544 L30,544 C27.5,535 29,530 28.5,522 C28,512 30,505 29,497 C28,488 28.5,478 28.5,470 C28.5,462 30,455 29,445 C28,437 28.5,425 28.5,417 C28.5,408 30,400 29,393 Z" fill="#EAD8C9"/>
<path d="M30,423 C45,420 65,420 80,423" fill="none" stroke="#F3E8DE" stroke-width="1.2"/>
<path d="M30,462 C45,459 65,459 80,462" fill="none" stroke="#F3E8DE" stroke-width="1.2"/>
<path d="M30,502 C45,499 65,499 80,502" fill="none" stroke="#F3E8DE" stroke-width="1.2"/>
<path d="M92,385 L113,385 L108,420 L103,460 L99.5,500 L97.5,544 L92,544 Z" fill="#DDC4B4"/>
<path d="M113,385 L131,385 L131,544 L97.5,544 L99.5,500 L103,460 L108,420 Z" fill="#EBA2A6"/>
<path d="M122,385 L129.7,385 L126.3,544 L113.5,544 Z" fill="#DC8B91"/>
<path d="M129.7,385 L131,385 L131,544 L129.7,544 Z" fill="#EAD6CA"/>
<path d="M88,408 C95,407 103,409 105,413 C106,418 100,421 92,420 C88,419 86,412 88,408 Z" fill="#A8CAD8"/>
<path d="M91,452 C96,451 101,454 100,459 C98,462 93,462 91,459 Z" fill="#A8CAD8"/>
<path d="M93,499 C98,498 104,501 103,507 C101,511 95,511 93,507 Z" fill="#A8CAD8"/>
<path d="M80,486 C76,488 73,495 73.5,505 C74,515 72,525 73,535 C73.5,540 74,543 75,544 L82,544 L82,486 Z" fill="#D5EDF8"/>
<ellipse cx="78.6" cy="391" rx="4" ry="6" fill="#D5EDF8"/>
<ellipse cx="78.4" cy="421" rx="4" ry="9.5" fill="#D5EDF8"/>
<ellipse cx="78.5" cy="460" rx="4.2" ry="8" fill="#D5EDF8"/>
<ellipse cx="78.8" cy="497" rx="4.2" ry="10" fill="#D5EDF8"/>
<ellipse cx="79" cy="537" rx="4.3" ry="7" fill="#D5EDF8"/>
<path d="M91,394 L96.5,395.8 L94,397 L96.5,398.4 L91,400 Z" fill="#D5EDF8"/>
<path d="M91.5,416 L97.0,417.8 L94.5,419 L97.0,420.4 L91.5,422 Z" fill="#D5EDF8"/>
<path d="M91.5,433 L97.0,434.8 L94.5,436 L97.0,437.4 L91.5,439 Z" fill="#D5EDF8"/>
<path d="M90.5,455 L96.0,456.8 L93.5,458 L96.0,459.4 L90.5,461 Z" fill="#D5EDF8"/>
<path d="M90.5,473 L96.0,474.8 L93.5,476 L96.0,477.4 L90.5,479 Z" fill="#D5EDF8"/>
<path d="M90.5,494 L96.0,495.8 L93.5,497 L96.0,498.4 L90.5,500 Z" fill="#D5EDF8"/>
<path d="M90,511 L95.5,512.8 L93,514 L95.5,515.4 L90,517 Z" fill="#D5EDF8"/>
<path d="M90,529 L95.5,530.8 L93,532 L95.5,533.4 L90,535 Z" fill="#D5EDF8"/>
<path d="M101.5,385 C103,400 100.5,415 102.5,430 C104,445 101,460 102.5,475 C104,492 101.5,510 103.5,525 C104.5,535 104,540 104.5,544" fill="none" stroke="#F9C35C" stroke-width="2.6"/>
<path d="M99.8,385 C101,420 99,460 100.5,500 C101,520 100.5,535 101,544" fill="none" stroke="#F8C45C" stroke-width="1.5"/>
<path d="M113,386 C118,388 124,390 130,395" fill="none" stroke="#F8C45C" stroke-width="1.5"/>
<path d="M106.7,420 C110,410 116,404 122,402 C126,401 128,400 131,400" fill="none" stroke="#F8C45C" stroke-width="1.5"/>
<path d="M114,414 C112,425 112,436 114,446" fill="none" stroke="#F8C45C" stroke-width="1.5"/>
<path d="M102.4,440.4 C110,438 120,436 131,437.5" fill="none" stroke="#F8C45C" stroke-width="1.5"/>
<path d="M110,428 C116,424 126,426 130,434 C131,440 126,445 118,445 C113,445 110,440 110,435" fill="none" stroke="#F8C45C" stroke-width="1.5"/>
<path d="M116.7,452 C121,450 126,448 131,447.5" fill="none" stroke="#F8C45C" stroke-width="1.5"/>
<path d="M100,470 C108,462 120,462 131,470" fill="none" stroke="#F8C45C" stroke-width="1.5"/>
<path d="M99,488 C112,480 124,482 131,492" fill="none" stroke="#F8C45C" stroke-width="1.5"/>
<path d="M100,520 C110,505 122,505 131,515" fill="none" stroke="#F8C45C" stroke-width="1.5"/>
<path d="M108,544 C110,520 116,505 114,490 C113,478 117,468 118,460" fill="none" stroke="#F8C45C" stroke-width="1.5"/>
<path d="M125,396 C120,420 124,480 121,544" fill="none" stroke="#F8C45C" stroke-width="1.5"/>
<path d="M98,505 C108,520 120,525 131,532" fill="none" stroke="#F8C45C" stroke-width="1.5"/>
<path d="M90,405 C95,410 99,413 103,418" fill="none" stroke="#F8C45C" stroke-width="1.5"/>
<path d="M91,447 C95,449 99,452 102,456" fill="none" stroke="#F8C45C" stroke-width="1.5"/>
<path d="M91,486 C95,488 99,490 101,494" fill="none" stroke="#F8C45C" stroke-width="1.5"/>
<rect x="85.3" y="384.5" width="4.6" height="160" fill="#F9C463"/>
<rect x="88.3" y="384.5" width="1.6" height="160" fill="#F3AB40"/>
<path d="M87,382 C94.56,390.1 94.56,400.9 87,409 C79.44,400.9 79.44,390.1 87,382 Z" fill="#F4AC44"/>
<path d="M86.4,383 C92.04,390.1 92.04,400.9 86.4,408 C79.44,400.9 79.44,390.1 86.4,383 Z" fill="#F9C465"/>
<ellipse cx="84.7" cy="394.5" rx="2.4" ry="3.5" fill="#FBE2B6"/>
<path d="M87.6,419 C95.835,427.4 95.835,438.6 87.6,447 C79.365,438.6 79.365,427.4 87.6,419 Z" fill="#F4AC44"/>
<path d="M87.0,420 C93.08999999999999,427.4 93.08999999999999,438.6 87.0,446 C79.365,438.6 79.365,427.4 87.0,420 Z" fill="#F9C465"/>
<ellipse cx="85.3" cy="432.0" rx="2.4" ry="3.5" fill="#FBE2B6"/>
<path d="M86.2,453 C94.30000000000001,463.5 94.30000000000001,477.5 86.2,488 C78.1,477.5 78.1,463.5 86.2,453 Z" fill="#F4AC44"/>
<path d="M85.60000000000001,454 C91.60000000000001,463.5 91.60000000000001,477.5 85.60000000000001,487 C78.1,477.5 78.1,463.5 85.60000000000001,454 Z" fill="#F9C465"/>
<ellipse cx="83.9" cy="469.5" rx="2.4" ry="3.5" fill="#FBE2B6"/>
<path d="M86,494 C93.29,501.5 93.29,511.5 86,519 C78.71,511.5 78.71,501.5 86,494 Z" fill="#F4AC44"/>
<path d="M85.4,495 C90.86,501.5 90.86,511.5 85.4,518 C78.71,511.5 78.71,501.5 85.4,495 Z" fill="#F9C465"/>
<ellipse cx="83.7" cy="505.5" rx="2.4" ry="3.5" fill="#FBE2B6"/>
<path d="M86.2,529 C93.49000000000001,538.3 93.49000000000001,550.7 86.2,560 C78.91,550.7 78.91,538.3 86.2,529 Z" fill="#F4AC44"/>
<path d="M85.60000000000001,530 C91.06,538.3 91.06,550.7 85.60000000000001,559 C78.91,550.7 78.91,538.3 85.60000000000001,530 Z" fill="#F9C465"/>
<ellipse cx="83.9" cy="543.5" rx="2.4" ry="3.5" fill="#FBE2B6"/>
<rect x="78" y="466.8" width="14" height="4.5" fill="#CFE8F5" opacity="0.85"/>
<path d="M45,400.5 C55,398.5 65,397.5 85,398.0 L85.5,407.0 C70,408.5 60,410.0 45,412.5 Z" fill="#DC5656"/>
<path d="M46,405.3 C58,403.5 70,400.0 84,397.9 L84,401.3 C72,403.0 60,405.7 46,406.7 Z" fill="#F9C65E"/>
<path d="M47,407.7 C60,406.2 72,404.7 84,404.09999999999997" fill="none" stroke="#F9C65E" stroke-width="1.3"/>
<path d="M47,403.7 C60,402.2 72,397.7 84,397.09999999999997" fill="none" stroke="#F9C65E" stroke-width="0.9"/>
<path d="M29.6,402.5 L46,400.5 L46,412.5 L30.5,414.5 C28.7,411.5 28.7,406.1 29.6,402.5 Z" fill="#F6878D"/>
<path d="M32.5,405.1 C33.7,408.1 33.7,409.9 32.7,412.6" fill="none" stroke="#E56E76" stroke-width="0.5"/>
<path d="M36.1,404.7 C37.3,407.7 37.3,409.5 36.3,412.2" fill="none" stroke="#E56E76" stroke-width="0.5"/>
<path d="M39.7,404.2 C40.9,407.2 40.9,409.0 39.9,411.7" fill="none" stroke="#E56E76" stroke-width="0.5"/>
<path d="M43.3,403.8 C44.5,406.8 44.5,408.6 43.5,411.3" fill="none" stroke="#E56E76" stroke-width="0.5"/>
<path d="M45,435.8 C55,433.8 65,432.8 85,433.3 L85.5,442.5 C70,444 60,445.5 45,448.2 Z" fill="#DC5656"/>
<path d="M46,440.8 C58,439 70,435.5 84,433.4 L84,436.8 C72,438.5 60,441.2 46,442.2 Z" fill="#F9C65E"/>
<path d="M47,443.2 C60,441.7 72,440.2 84,439.59999999999997" fill="none" stroke="#F9C65E" stroke-width="1.3"/>
<path d="M47,439.2 C60,437.7 72,433.2 84,432.59999999999997" fill="none" stroke="#F9C65E" stroke-width="0.9"/>
<path d="M29.6,437.8 L46,435.8 L46,448.2 L30.5,450.2 C28.7,447.1 28.7,441.52 29.6,437.8 Z" fill="#F6878D"/>
<path d="M32.5,440.5 C33.7,443.6 33.7,445.4 32.7,448.2" fill="none" stroke="#E56E76" stroke-width="0.5"/>
<path d="M36.1,440.1 C37.3,443.2 37.3,445.0 36.3,447.8" fill="none" stroke="#E56E76" stroke-width="0.5"/>
<path d="M39.7,439.6 C40.9,442.7 40.9,444.6 39.9,447.4" fill="none" stroke="#E56E76" stroke-width="0.5"/>
<path d="M43.3,439.2 C44.5,442.3 44.5,444.2 43.5,447.0" fill="none" stroke="#E56E76" stroke-width="0.5"/>
<path d="M45,475.1 C55,473.1 65,472.1 85,472.6 L85.5,482.6 C70,484.1 60,485.6 45,489.1 Z" fill="#DC5656"/>
<path d="M46,480.90000000000003 C58,479.1 70,475.6 84,473.5 L84,476.90000000000003 C72,478.6 60,481.3 46,482.3 Z" fill="#F9C65E"/>
<path d="M47,483.3 C60,481.8 72,480.3 84,479.7" fill="none" stroke="#F9C65E" stroke-width="1.3"/>
<path d="M47,479.3 C60,477.8 72,473.3 84,472.7" fill="none" stroke="#F9C65E" stroke-width="0.9"/>
<path d="M26.1,477.6 L46,475.1 L46,489.1 L27.0,491.6 C25.2,488.1 25.2,481.8 26.1,477.6 Z" fill="#F6878D"/>
<path d="M29.0,480.7 C30.2,484.2 30.2,486.3 29.2,489.4" fill="none" stroke="#E56E76" stroke-width="0.5"/>
<path d="M32.6,480.2 C33.8,483.7 33.8,485.8 32.8,489.0" fill="none" stroke="#E56E76" stroke-width="0.5"/>
<path d="M36.2,479.8 C37.4,483.3 37.4,485.4 36.4,488.5" fill="none" stroke="#E56E76" stroke-width="0.5"/>
<path d="M39.8,479.4 C41.0,482.9 41.0,485.0 40.0,488.1" fill="none" stroke="#E56E76" stroke-width="0.5"/>
<path d="M45,514 C55,512 65,511 85,511.5 L85.5,521.5 C70,523 60,524.5 45,528 Z" fill="#DC5656"/>
<path d="M46,519.8 C58,518 70,514.5 84,512.4 L84,515.8 C72,517.5 60,520.2 46,521.2 Z" fill="#F9C65E"/>
<path d="M47,522.2 C60,520.7 72,519.2 84,518.6" fill="none" stroke="#F9C65E" stroke-width="1.3"/>
<path d="M47,518.2 C60,516.7 72,512.2 84,511.6" fill="none" stroke="#F9C65E" stroke-width="0.9"/>
<path d="M26.200000000000003,516.5 L46,514 L46,528 L27.1,530.5 C25.3,527.0 25.3,520.7 26.200000000000003,516.5 Z" fill="#F6878D"/>
<path d="M29.1,519.6 C30.3,523.1 30.3,525.2 29.3,528.3" fill="none" stroke="#E56E76" stroke-width="0.5"/>
<path d="M32.7,519.1 C33.9,522.6 33.9,524.7 32.9,527.9" fill="none" stroke="#E56E76" stroke-width="0.5"/>
<path d="M36.3,518.7 C37.5,522.2 37.5,524.3 36.5,527.4" fill="none" stroke="#E56E76" stroke-width="0.5"/>
<path d="M39.9,518.2 C41.1,521.7 41.1,523.8 40.1,527.0" fill="none" stroke="#E56E76" stroke-width="0.5"/>
</g>
<ellipse cx="85.8" cy="470" rx="9.6" ry="18.2" fill="none" stroke="#111" stroke-width="1.3" stroke-dasharray="3,1.8"/>
<path d="M90.5,467.2 L122.5,468.8 L122.5,470.6 L90.5,470.2 Z" fill="#8A8A8A"/>
<path d="M91,468.6 L122,469.7" stroke="#D0D0D0" stroke-width="0.5"/>
<path d="M95,467.6 L122,471.6" stroke="#5A5A5A" stroke-width="0.9"/>
<ellipse cx="126" cy="468" rx="3" ry="2.1" fill="none" stroke="#5A5A5A" stroke-width="1.3"/>
<ellipse cx="126.6" cy="474.4" rx="3" ry="2.1" fill="none" stroke="#5A5A5A" stroke-width="1.3"/>
<rect x="38.4" y="444" width="4.6" height="37" fill="#8DC4E2"/>
<path d="M35.5,480.5 L46.3,480.5 L40.9,489.4 Z" fill="#8DC4E2"/>
<line x1="62.4" y1="439.8" x2="78.6" y2="457" stroke="#111" stroke-width="1.2"/>
<text x="39.6" y="421.1" font-size="12.6" fill="#1a1a1a" text-anchor="middle" >Transected</text>
<text x="40.4" y="435.5" font-size="12.6" fill="#1a1a1a" text-anchor="middle" >ganglion</text>
<text x="39.9" y="501.2" font-size="12.6" fill="#1a1a1a" text-anchor="middle" >Suppress</text>
<text x="40.3" y="515.2" font-size="12.6" fill="#1a1a1a" text-anchor="middle" >vasomotoricity</text>
</svg></body></html>
